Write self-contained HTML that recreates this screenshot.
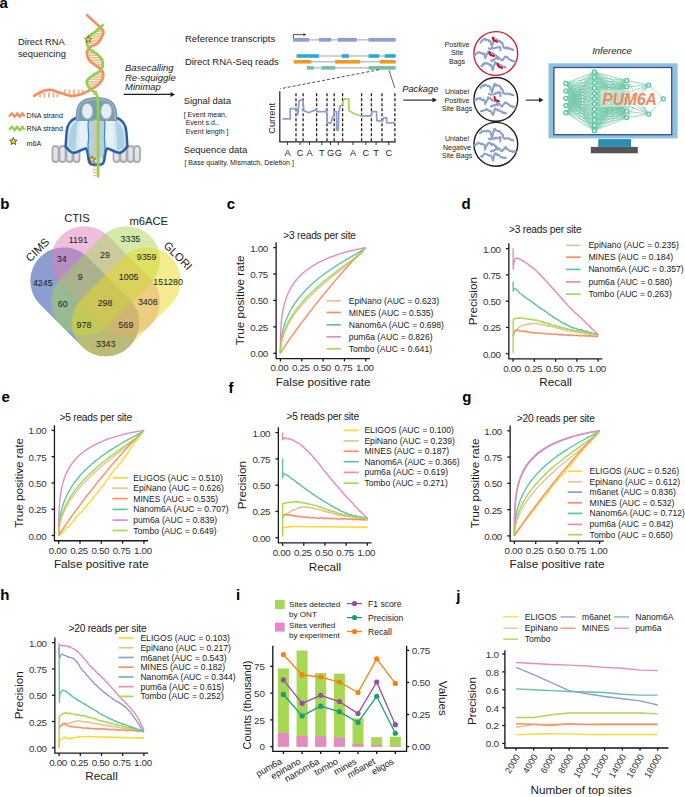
<!DOCTYPE html><html><head><meta charset="utf-8"><style>html,body{margin:0;padding:0;background:#fff;overflow:hidden}svg{display:block}</style></head><body>
<svg width="685" height="797" viewBox="0 0 685 797" font-family='"Liberation Sans", sans-serif'>
<rect width="685" height="797" fill="#fff"/>
<text x="-0.5" y="8.1" font-size="15" font-weight="bold" fill="#000">a</text>
<text x="17.90" y="45.00" font-size="9.4" text-anchor="start" fill="#1a1a1a" >Direct RNA</text>
<text x="17.90" y="56.70" font-size="9.4" text-anchor="start" fill="#1a1a1a" >sequencing</text>
<line x1="98.34" y1="29.00" x2="103.01" y2="29.00" stroke="#E3C292" stroke-width="1.7"/>
<line x1="95.53" y1="31.40" x2="104.40" y2="31.40" stroke="#E3C292" stroke-width="1.7"/>
<line x1="92.29" y1="33.80" x2="104.25" y2="33.80" stroke="#E3C292" stroke-width="1.7"/>
<line x1="88.93" y1="36.20" x2="103.38" y2="36.20" stroke="#E3C292" stroke-width="1.7"/>
<line x1="87.28" y1="38.60" x2="102.19" y2="38.60" stroke="#E3C292" stroke-width="1.7"/>
<line x1="86.83" y1="41.00" x2="100.71" y2="41.00" stroke="#E3C292" stroke-width="1.7"/>
<line x1="86.98" y1="43.40" x2="98.66" y2="43.40" stroke="#E3C292" stroke-width="1.7"/>
<line x1="87.53" y1="45.80" x2="93.95" y2="45.80" stroke="#E3C292" stroke-width="1.7"/>
<line x1="87.50" y1="50.60" x2="93.14" y2="50.60" stroke="#E3C292" stroke-width="1.7"/>
<line x1="86.90" y1="53.00" x2="96.74" y2="53.00" stroke="#E3C292" stroke-width="1.7"/>
<line x1="87.14" y1="55.40" x2="99.70" y2="55.40" stroke="#E3C292" stroke-width="1.7"/>
<line x1="87.94" y1="57.80" x2="101.85" y2="57.80" stroke="#E3C292" stroke-width="1.7"/>
<line x1="89.34" y1="60.20" x2="103.35" y2="60.20" stroke="#E3C292" stroke-width="1.7"/>
<line x1="91.70" y1="62.60" x2="104.00" y2="62.60" stroke="#E3C292" stroke-width="1.7"/>
<line x1="94.97" y1="65.00" x2="103.99" y2="65.00" stroke="#E3C292" stroke-width="1.7"/>
<line x1="98.37" y1="67.40" x2="103.45" y2="67.40" stroke="#E3C292" stroke-width="1.7"/>
<line x1="98.06" y1="72.20" x2="104.00" y2="72.20" stroke="#E3C292" stroke-width="1.7"/>
<line x1="93.89" y1="74.60" x2="104.50" y2="74.60" stroke="#E3C292" stroke-width="1.7"/>
<line x1="90.64" y1="77.00" x2="104.17" y2="77.00" stroke="#E3C292" stroke-width="1.7"/>
<line x1="87.89" y1="79.40" x2="103.33" y2="79.40" stroke="#E3C292" stroke-width="1.7"/>
<line x1="86.79" y1="81.80" x2="101.98" y2="81.80" stroke="#E3C292" stroke-width="1.7"/>
<line x1="87.16" y1="84.20" x2="99.84" y2="84.20" stroke="#E3C292" stroke-width="1.7"/>
<line x1="88.33" y1="86.60" x2="96.74" y2="86.60" stroke="#E3C292" stroke-width="1.7"/>
<line x1="40" y1="93.2" x2="40" y2="96.8" stroke="#E3C292" stroke-width="2.1" stroke-linecap="round"/>
<line x1="44.5" y1="93.2" x2="44.5" y2="96.8" stroke="#E3C292" stroke-width="2.1" stroke-linecap="round"/>
<line x1="49" y1="93.2" x2="49" y2="96.8" stroke="#E3C292" stroke-width="2.1" stroke-linecap="round"/>
<line x1="53.5" y1="93.2" x2="53.5" y2="96.8" stroke="#E3C292" stroke-width="2.1" stroke-linecap="round"/>
<line x1="57.5" y1="93.2" x2="57.5" y2="96.8" stroke="#E3C292" stroke-width="2.1" stroke-linecap="round"/>
<line x1="65" y1="90.3" x2="65" y2="94.3" stroke="#E3C292" stroke-width="2.1" stroke-linecap="round"/>
<line x1="69.5" y1="90.3" x2="69.5" y2="94.3" stroke="#E3C292" stroke-width="2.1" stroke-linecap="round"/>
<line x1="74" y1="90.3" x2="74" y2="94.3" stroke="#E3C292" stroke-width="2.1" stroke-linecap="round"/>
<line x1="78.5" y1="90.3" x2="78.5" y2="94.3" stroke="#E3C292" stroke-width="2.1" stroke-linecap="round"/>
<line x1="82.5" y1="90.3" x2="82.5" y2="94.3" stroke="#E3C292" stroke-width="2.1" stroke-linecap="round"/>
<line x1="93" y1="91.5" x2="97" y2="91.5" stroke="#E3C292" stroke-width="1.5"/>
<line x1="93" y1="94.5" x2="97" y2="94.5" stroke="#E3C292" stroke-width="1.5"/>
<line x1="93" y1="97.5" x2="97" y2="97.5" stroke="#E3C292" stroke-width="1.5"/>
<line x1="93" y1="100.5" x2="97" y2="100.5" stroke="#E3C292" stroke-width="1.5"/>
<line x1="93" y1="103.5" x2="97" y2="103.5" stroke="#E3C292" stroke-width="1.5"/>
<line x1="93" y1="106.5" x2="97" y2="106.5" stroke="#E3C292" stroke-width="1.5"/>
<line x1="93" y1="109.5" x2="97" y2="109.5" stroke="#E3C292" stroke-width="1.5"/>
<line x1="93" y1="112.5" x2="97" y2="112.5" stroke="#E3C292" stroke-width="1.5"/>
<line x1="93" y1="115.5" x2="97" y2="115.5" stroke="#E3C292" stroke-width="1.5"/>
<line x1="93" y1="118.5" x2="97" y2="118.5" stroke="#E3C292" stroke-width="1.5"/>
<line x1="93" y1="121.5" x2="97" y2="121.5" stroke="#E3C292" stroke-width="1.5"/>
<line x1="93" y1="124.5" x2="97" y2="124.5" stroke="#E3C292" stroke-width="1.5"/>
<line x1="93" y1="127.5" x2="97" y2="127.5" stroke="#E3C292" stroke-width="1.5"/>
<line x1="93" y1="130.5" x2="97" y2="130.5" stroke="#E3C292" stroke-width="1.5"/>
<line x1="93" y1="133.5" x2="97" y2="133.5" stroke="#E3C292" stroke-width="1.5"/>
<line x1="93" y1="136.5" x2="97" y2="136.5" stroke="#E3C292" stroke-width="1.5"/>
<line x1="93" y1="139.5" x2="97" y2="139.5" stroke="#E3C292" stroke-width="1.5"/>
<line x1="93" y1="142.5" x2="97" y2="142.5" stroke="#E3C292" stroke-width="1.5"/>
<line x1="93" y1="145.5" x2="97" y2="145.5" stroke="#E3C292" stroke-width="1.5"/>
<line x1="93" y1="148.5" x2="97" y2="148.5" stroke="#E3C292" stroke-width="1.5"/>
<line x1="93" y1="151.5" x2="97" y2="151.5" stroke="#E3C292" stroke-width="1.5"/>
<line x1="93" y1="154.5" x2="97" y2="154.5" stroke="#E3C292" stroke-width="1.5"/>
<line x1="93" y1="157.5" x2="97" y2="157.5" stroke="#E3C292" stroke-width="1.5"/>
<line x1="93" y1="160.5" x2="97" y2="160.5" stroke="#E3C292" stroke-width="1.5"/>
<line x1="93" y1="163.5" x2="97" y2="163.5" stroke="#E3C292" stroke-width="1.5"/>
<line x1="93" y1="166.5" x2="97" y2="166.5" stroke="#E3C292" stroke-width="1.5"/>
<line x1="93" y1="169.5" x2="97" y2="169.5" stroke="#E3C292" stroke-width="1.5"/>
<line x1="93" y1="172.5" x2="97" y2="172.5" stroke="#E3C292" stroke-width="1.5"/>
<line x1="93" y1="175.5" x2="97" y2="175.5" stroke="#E3C292" stroke-width="1.5"/>
<rect x="52.5" y="146" width="6" height="16" rx="3" fill="#E1E6EE" stroke="#ABABAB" stroke-width="1.8"/>
<rect x="59.5" y="146" width="6" height="16" rx="3" fill="#E1E6EE" stroke="#ABABAB" stroke-width="1.8"/>
<rect x="66.5" y="146" width="6" height="16" rx="3" fill="#E1E6EE" stroke="#ABABAB" stroke-width="1.8"/>
<rect x="73.5" y="146" width="6" height="16" rx="3" fill="#E1E6EE" stroke="#ABABAB" stroke-width="1.8"/>
<rect x="113.5" y="146" width="6" height="16" rx="3" fill="#E1E6EE" stroke="#ABABAB" stroke-width="1.8"/>
<rect x="120.5" y="146" width="6" height="16" rx="3" fill="#E1E6EE" stroke="#ABABAB" stroke-width="1.8"/>
<rect x="127.5" y="146" width="6" height="16" rx="3" fill="#E1E6EE" stroke="#ABABAB" stroke-width="1.8"/>
<rect x="134" y="146" width="6" height="16" rx="3" fill="#E1E6EE" stroke="#ABABAB" stroke-width="1.8"/>
<path d="M75.7,118 C70,120.5 67.2,124 66.6,132 L65.6,146.2 C68.5,150.5 71.5,153 74.5,152.8 C78.5,152.3 82.3,149 85.9,148.4 C87.6,150 88,155 88.5,159 C89,163 90,164.5 92.5,164.5 L100.5,164.5 C103,164.5 104,163 104.5,159 C105,155 105.4,150 107.1,148.4 C110.7,149 114.5,152.3 118.5,152.8 C121.5,153 124.5,150.5 127.4,146.2 L126.4,132 C125.8,124 123,120.5 117.3,118 Z" fill="#D3E8F1" stroke="#2A5FA6" stroke-width="2.5" stroke-linejoin="round"/>
<path d="M78,120 C73,123 69.5,128 69,136 L68.5,146.5 C71,149.5 73.5,150.5 76,150 C76,140 76.5,128 78,120 Z" fill="#A9CEE1" opacity="0.9"/>
<path d="M80,121 C79,130 79.5,140 79.5,148.5 C82,147.5 84,146.5 86,146.5 L87,122 C84.5,120 82,120 80,121 Z" fill="#E4F1F6"/>
<path d="M115,120 C120,123 123.5,128 124,136 L124.5,146.5 C122,149.5 119.5,150.5 117,150 C117,140 116.5,128 115,120 Z" fill="#A9CEE1" opacity="0.9"/>
<path d="M113,121 C114,130 113.5,140 113.5,148.5 C111,147.5 109,146.5 107,146.5 L106,122 C108.5,120 111,120 113,121 Z" fill="#E4F1F6"/>
<path d="M88.5,120 C87,128 89.5,134 88.5,140 C87.5,146 88,152 89.5,158 L103.5,158 C105,152 105.5,146 104.5,140 C103.5,134 106,128 104.5,120 Z" fill="#B7D0DC"/>
<path d="M88.5,120 C87,128 89.5,134 88.5,140 C87.5,146 88,152 89.5,158" fill="none" stroke="#3C82BA" stroke-width="1.1"/>
<path d="M104.5,120 C106,128 103.5,134 104.5,140 C105.5,146 105,152 103.5,158" fill="none" stroke="#3C82BA" stroke-width="1.1"/>
<path d="M75.8,121 C74.8,104 80,97.3 96.5,97.3 C113,97.3 118.2,104 117.2,121 Z" fill="#7A9FB3"/>
<path d="M78,119.5 C77.2,105.5 81.5,99.5 96.5,99.5 C111.5,99.5 115.8,105.5 115,119.5" fill="none" stroke="#A7BFCB" stroke-width="1"/>
<ellipse cx="87.3" cy="111.2" rx="5.5" ry="7.8" fill="#E6EDF1" stroke="#9AB3C0" stroke-width="0.8"/>
<ellipse cx="106.3" cy="111.2" rx="5.5" ry="7.8" fill="#E6EDF1" stroke="#9AB3C0" stroke-width="0.8"/>
<line x1="93" y1="120.5" x2="97" y2="120.5" stroke="#E3C292" stroke-width="1.5"/>
<line x1="93" y1="123.5" x2="97" y2="123.5" stroke="#E3C292" stroke-width="1.5"/>
<line x1="93" y1="126.5" x2="97" y2="126.5" stroke="#E3C292" stroke-width="1.5"/>
<line x1="93" y1="129.5" x2="97" y2="129.5" stroke="#E3C292" stroke-width="1.5"/>
<line x1="93" y1="132.5" x2="97" y2="132.5" stroke="#E3C292" stroke-width="1.5"/>
<line x1="93" y1="135.5" x2="97" y2="135.5" stroke="#E3C292" stroke-width="1.5"/>
<line x1="93" y1="138.5" x2="97" y2="138.5" stroke="#E3C292" stroke-width="1.5"/>
<line x1="93" y1="141.5" x2="97" y2="141.5" stroke="#E3C292" stroke-width="1.5"/>
<line x1="93" y1="144.5" x2="97" y2="144.5" stroke="#E3C292" stroke-width="1.5"/>
<line x1="93" y1="147.5" x2="97" y2="147.5" stroke="#E3C292" stroke-width="1.5"/>
<line x1="93" y1="150.5" x2="97" y2="150.5" stroke="#E3C292" stroke-width="1.5"/>
<line x1="93" y1="153.5" x2="97" y2="153.5" stroke="#E3C292" stroke-width="1.5"/>
<line x1="93" y1="156.5" x2="97" y2="156.5" stroke="#E3C292" stroke-width="1.5"/>
<line x1="93" y1="159.5" x2="97" y2="159.5" stroke="#E3C292" stroke-width="1.5"/>
<line x1="93" y1="162.5" x2="97" y2="162.5" stroke="#E3C292" stroke-width="1.5"/>
<polyline points="86.90,15.10 99.90,26.90 100.09,27.16 100.37,27.47 100.71,27.82 101.10,28.21 101.51,28.65 101.92,29.12 102.31,29.62 102.67,30.16 102.97,30.73 103.19,31.33 103.30,31.95 103.30,32.60 103.18,33.31 102.97,34.09 102.69,34.95 102.33,35.85 101.92,36.78 101.46,37.73 100.95,38.67 100.42,39.59 99.87,40.47 99.31,41.29 98.75,42.04 98.20,42.70 97.63,43.27 96.99,43.76 96.32,44.19 95.61,44.57 94.88,44.91 94.14,45.23 93.41,45.52 92.70,45.82 92.02,46.12 91.39,46.45 90.81,46.80 90.30,47.20 89.84,47.63 89.40,48.06 88.99,48.49 88.60,48.93 88.25,49.38 87.92,49.84 87.64,50.31 87.40,50.79 87.20,51.29 87.05,51.81 86.95,52.34 86.90,52.90 86.90,53.48 86.94,54.09 87.01,54.72 87.13,55.37 87.30,56.04 87.51,56.71 87.76,57.40 88.07,58.09 88.42,58.77 88.83,59.46 89.29,60.13 89.80,60.80 90.41,61.47 91.14,62.14 91.98,62.83 92.88,63.52 93.84,64.21 94.82,64.89 95.80,65.57 96.76,66.24 97.68,66.89 98.52,67.52 99.27,68.12 99.90,68.70 100.44,69.24 100.93,69.74 101.37,70.21 101.76,70.65 102.11,71.08 102.41,71.50 102.66,71.92 102.87,72.35 103.04,72.79 103.17,73.26 103.26,73.76 103.30,74.30 103.30,74.88 103.25,75.50 103.16,76.15 103.01,76.82 102.83,77.51 102.61,78.21 102.34,78.91 102.04,79.60 101.70,80.28 101.33,80.95 100.93,81.59 100.50,82.20 100.03,82.78 99.52,83.35 98.97,83.90 98.38,84.44 97.76,84.96 97.10,85.48 96.41,85.99 95.70,86.50 94.95,87.00 94.19,87.50 93.40,88.00 92.60,88.50 91.76,89.01 90.86,89.54 89.92,90.08 88.95,90.61 87.95,91.15 86.94,91.68 85.91,92.19 84.89,92.67 83.88,93.14 82.89,93.56 81.93,93.95 81.00,94.30 80.07,94.60 79.11,94.86 78.13,95.09 77.15,95.29 76.17,95.46 75.22,95.61 74.32,95.74 73.46,95.85 72.68,95.95 71.98,96.04 71.38,96.12 70.90,96.20 70.41,96.05 69.79,95.85 69.07,95.62 68.26,95.37 67.38,95.09 66.44,94.79 65.47,94.49 64.49,94.18 63.50,93.87 62.52,93.56 61.59,93.27 60.70,93.00 59.84,92.72 58.97,92.42 58.09,92.11 57.20,91.79 56.32,91.46 55.44,91.15 54.56,90.85 53.70,90.58 52.84,90.34 52.01,90.14 51.19,89.99 50.40,89.90 49.63,89.86 48.88,89.86 48.15,89.91 47.44,89.99 46.74,90.10 46.05,90.24 45.37,90.40 44.69,90.59 44.02,90.80 43.35,91.02 42.68,91.26 42.00,91.50 41.30,91.78 40.56,92.11 39.80,92.49 39.04,92.89 38.27,93.32 37.52,93.75 36.81,94.18 36.13,94.59 35.51,94.96 34.95,95.30 34.48,95.58 34.10,95.80" fill="none" stroke="#F98B60" stroke-width="2.6" stroke-linejoin="round" stroke-linecap="round"/>
<polyline points="102.70,25.20 102.31,25.53 101.83,25.96 101.25,26.46 100.61,27.03 99.91,27.64 99.17,28.28 98.41,28.94 97.64,29.61 96.88,30.26 96.14,30.89 95.44,31.47 94.80,32.00 94.18,32.48 93.55,32.94 92.91,33.38 92.27,33.81 91.64,34.22 91.03,34.62 90.44,35.03 89.88,35.43 89.36,35.83 88.88,36.24 88.46,36.66 88.10,37.10 87.80,37.55 87.54,38.00 87.33,38.46 87.16,38.93 87.03,39.39 86.94,39.86 86.87,40.33 86.84,40.81 86.82,41.28 86.83,41.76 86.86,42.23 86.90,42.70 86.95,43.17 87.00,43.63 87.07,44.09 87.16,44.56 87.27,45.02 87.41,45.48 87.59,45.95 87.81,46.42 88.07,46.90 88.39,47.39 88.76,47.89 89.20,48.40 89.73,48.92 90.36,49.46 91.08,50.00 91.87,50.56 92.70,51.12 93.56,51.68 94.43,52.25 95.29,52.82 96.11,53.39 96.88,53.97 97.59,54.53 98.20,55.10 98.75,55.66 99.28,56.21 99.79,56.77 100.26,57.32 100.71,57.87 101.12,58.43 101.49,58.98 101.83,59.55 102.12,60.12 102.36,60.70 102.56,61.29 102.70,61.90 102.80,62.53 102.85,63.18 102.87,63.85 102.84,64.53 102.77,65.23 102.66,65.92 102.50,66.61 102.29,67.29 102.04,67.95 101.74,68.60 101.40,69.22 101.00,69.80 100.53,70.35 99.96,70.88 99.31,71.38 98.60,71.87 97.84,72.34 97.05,72.79 96.25,73.24 95.45,73.69 94.67,74.13 93.92,74.58 93.23,75.04 92.60,75.50 92.01,75.97 91.40,76.43 90.80,76.88 90.20,77.33 89.63,77.78 89.08,78.23 88.57,78.69 88.11,79.15 87.70,79.62 87.36,80.10 87.09,80.59 86.90,81.10 86.80,81.63 86.77,82.18 86.81,82.74 86.91,83.32 87.06,83.91 87.27,84.50 87.52,85.09 87.80,85.68 88.12,86.26 88.46,86.82 88.83,87.37 89.20,87.90 89.63,88.41 90.13,88.89 90.70,89.36 91.32,89.82 91.97,90.27 92.64,90.72 93.30,91.16 93.94,91.61 94.55,92.06 95.11,92.53 95.60,93.01 96.00,93.50 96.33,94.03 96.60,94.61 96.82,95.21 97.01,95.84 97.16,96.47 97.28,97.10 97.37,97.71 97.45,98.28 97.51,98.81 97.57,99.28 97.63,99.68 97.70,100.00 98.00,110.00 98.20,176.50" fill="none" stroke="#8FD04C" stroke-width="2.6" stroke-linejoin="round" stroke-linecap="round"/>
<polygon points="88.20,35.70 89.18,38.05 91.72,38.26 89.78,39.91 90.37,42.39 88.20,41.06 86.03,42.39 86.62,39.91 84.68,38.26 87.22,38.05" fill="#F9D423" stroke="#3a3a3a" stroke-width="0.6" stroke-linejoin="round"/>
<polygon points="92.20,155.90 93.18,158.25 95.72,158.46 93.78,160.11 94.37,162.59 92.20,161.26 90.03,162.59 90.62,160.11 88.68,158.46 91.22,158.25" fill="#F9D423" stroke="#3a3a3a" stroke-width="0.6" stroke-linejoin="round"/>
<path d="M9.6,115.8 L12,113.3 L14.6,116.9 L17.2,113.3 L19.8,116.9 L22.4,113.3 L24,115.6" fill="none" stroke="#F98B60" stroke-width="2.3" stroke-linejoin="round" stroke-linecap="round"/>
<path d="M9.6,129.2 L12,126.7 L14.6,130.3 L17.2,126.7 L19.8,130.3 L22.4,126.7 L24,129.0" fill="none" stroke="#8FD04C" stroke-width="2.3" stroke-linejoin="round" stroke-linecap="round"/>
<polygon points="13.30,137.50 14.33,139.98 17.01,140.19 14.97,141.94 15.59,144.56 13.30,143.16 11.01,144.56 11.63,141.94 9.59,140.19 12.27,139.98" fill="#F9D423" stroke="#3a3a3a" stroke-width="0.8" stroke-linejoin="round"/>
<text x="26.60" y="117.90" font-size="7.1" text-anchor="start" fill="#1a1a1a" >DNA strand</text>
<text x="26.60" y="131.40" font-size="7.1" text-anchor="start" fill="#1a1a1a" >RNA strand</text>
<text x="26.60" y="145.70" font-size="7.1" text-anchor="start" fill="#1a1a1a" >m6A</text>
<text x="125.00" y="70.70" font-size="9.5" text-anchor="start" fill="#1a1a1a" font-style="italic">Basecalling</text>
<text x="125.00" y="81.00" font-size="9.5" text-anchor="start" fill="#1a1a1a" font-style="italic">Re-squiggle</text>
<text x="125.00" y="90.40" font-size="9.5" text-anchor="start" fill="#1a1a1a" font-style="italic">Minimap</text>
<line x1="123.7" y1="94.4" x2="172" y2="94.4" stroke="#231F20" stroke-width="1.1"/>
<path d="M170.5,91.9 L175,94.4 L170.5,96.9 Z" fill="#231F20"/>
<text x="184.90" y="42.30" font-size="9.5" text-anchor="start" fill="#1a1a1a" >Reference transcripts</text>
<text x="184.90" y="65.20" font-size="9.5" text-anchor="start" fill="#1a1a1a" >Direct RNA-Seq reads</text>
<text x="183.70" y="103.70" font-size="9.45" text-anchor="start" fill="#1a1a1a" >Signal data</text>
<text x="183.70" y="117.00" font-size="7.0" text-anchor="start" fill="#1a1a1a" >[ Event mean,</text>
<text x="185.70" y="125.30" font-size="7.0" text-anchor="start" fill="#1a1a1a" >Event s.d.,</text>
<text x="185.70" y="133.70" font-size="7.0" text-anchor="start" fill="#1a1a1a" >Event length ]</text>
<text x="183.70" y="153.00" font-size="9.45" text-anchor="start" fill="#1a1a1a" >Sequence data</text>
<text x="184.40" y="165.20" font-size="7.05" text-anchor="start" fill="#1a1a1a" >[ Base quality, Mismatch, Deletion ]</text>
<line x1="293.1" y1="39.9" x2="395.6" y2="39.9" stroke="#8A8A8A" stroke-width="0.8"/>
<rect x="293.1" y="37.9" width="15.80" height="3.8" fill="#8DA0CB"/>
<rect x="318.9" y="37.9" width="12.30" height="3.8" fill="#8DA0CB"/>
<rect x="337.8" y="37.9" width="18.90" height="3.8" fill="#8DA0CB"/>
<rect x="368.5" y="37.9" width="27.10" height="3.8" fill="#8DA0CB"/>
<path d="M293.4,38 V34.6 H304" fill="none" stroke="#231F20" stroke-width="0.8"/>
<path d="M303.5,33.2 L306.3,34.6 L303.5,36 Z" fill="#231F20"/>
<line x1="296.6" y1="56.0" x2="395.6" y2="56.0" stroke="#8A8A8A" stroke-width="0.8"/>
<rect x="296.6" y="54.20" width="22.30" height="3.6" fill="#29A9E1"/>
<rect x="341.7" y="54.20" width="7.20" height="3.6" fill="#29A9E1"/>
<rect x="368.5" y="54.20" width="10.80" height="3.6" fill="#29A9E1"/>
<rect x="384.8" y="54.20" width="10.80" height="3.6" fill="#29A9E1"/>
<line x1="293.7" y1="61.8" x2="395.6" y2="61.8" stroke="#8A8A8A" stroke-width="0.8"/>
<rect x="293.7" y="60.00" width="17.50" height="3.6" fill="#F39A1E"/>
<rect x="335.2" y="60.00" width="25.00" height="3.6" fill="#F39A1E"/>
<rect x="379.9" y="60.00" width="15.70" height="3.6" fill="#F39A1E"/>
<line x1="306.8" y1="67.9" x2="395.6" y2="67.9" stroke="#8A8A8A" stroke-width="0.8"/>
<rect x="306.8" y="66.10" width="7.00" height="3.6" fill="#6CC3A0"/>
<rect x="321.5" y="66.10" width="13.70" height="3.6" fill="#6CC3A0"/>
<rect x="368.5" y="66.10" width="27.10" height="3.6" fill="#6CC3A0"/>
<line x1="379" y1="69.7" x2="280" y2="88.8" stroke="#231F20" stroke-width="0.8" stroke-dasharray="3,2"/>
<line x1="389" y1="70.2" x2="394.8" y2="88" stroke="#231F20" stroke-width="0.7"/>
<path d="M279.8,91.2 V141.9 H395.9" fill="none" stroke="#231F20" stroke-width="1.2"/>
<line x1="296" y1="93.3" x2="296" y2="140.9" stroke="#231F20" stroke-width="1.3" stroke-dasharray="3,2"/>
<line x1="303.1" y1="93.3" x2="303.1" y2="140.9" stroke="#231F20" stroke-width="1.3" stroke-dasharray="3,2"/>
<line x1="316.6" y1="93.3" x2="316.6" y2="140.9" stroke="#231F20" stroke-width="1.3" stroke-dasharray="3,2"/>
<line x1="327" y1="93.3" x2="327" y2="140.9" stroke="#231F20" stroke-width="1.3" stroke-dasharray="3,2"/>
<line x1="334.2" y1="93.3" x2="334.2" y2="140.9" stroke="#231F20" stroke-width="1.3" stroke-dasharray="3,2"/>
<line x1="342.6" y1="93.3" x2="342.6" y2="140.9" stroke="#231F20" stroke-width="1.3" stroke-dasharray="3,2"/>
<line x1="361.6" y1="93.3" x2="361.6" y2="140.9" stroke="#231F20" stroke-width="1.3" stroke-dasharray="3,2"/>
<line x1="371.4" y1="93.3" x2="371.4" y2="140.9" stroke="#231F20" stroke-width="1.3" stroke-dasharray="3,2"/>
<line x1="382" y1="93.3" x2="382" y2="140.9" stroke="#231F20" stroke-width="1.3" stroke-dasharray="3,2"/>
<line x1="394.9" y1="93.3" x2="394.9" y2="140.9" stroke="#231F20" stroke-width="1.3" stroke-dasharray="3,2"/>
<line x1="287.6" y1="141.9" x2="287.6" y2="145" stroke="#231F20" stroke-width="0.9"/>
<text x="287.60" y="156.00" font-size="9.2" text-anchor="middle" fill="#1a1a1a" >A</text>
<line x1="300" y1="141.9" x2="300" y2="145" stroke="#231F20" stroke-width="0.9"/>
<text x="300.00" y="156.00" font-size="9.2" text-anchor="middle" fill="#1a1a1a" >C</text>
<line x1="309.5" y1="141.9" x2="309.5" y2="145" stroke="#231F20" stroke-width="0.9"/>
<text x="309.50" y="156.00" font-size="9.2" text-anchor="middle" fill="#1a1a1a" >A</text>
<line x1="321.9" y1="141.9" x2="321.9" y2="145" stroke="#231F20" stroke-width="0.9"/>
<text x="321.90" y="156.00" font-size="9.2" text-anchor="middle" fill="#1a1a1a" >T</text>
<line x1="330.5" y1="141.9" x2="330.5" y2="145" stroke="#231F20" stroke-width="0.9"/>
<text x="330.50" y="156.00" font-size="9.2" text-anchor="middle" fill="#1a1a1a" >G</text>
<line x1="338.3" y1="141.9" x2="338.3" y2="145" stroke="#231F20" stroke-width="0.9"/>
<text x="338.30" y="156.00" font-size="9.2" text-anchor="middle" fill="#1a1a1a" >G</text>
<line x1="353" y1="141.9" x2="353" y2="145" stroke="#231F20" stroke-width="0.9"/>
<text x="353.00" y="156.00" font-size="9.2" text-anchor="middle" fill="#1a1a1a" >A</text>
<line x1="365.9" y1="141.9" x2="365.9" y2="145" stroke="#231F20" stroke-width="0.9"/>
<text x="365.90" y="156.00" font-size="9.2" text-anchor="middle" fill="#1a1a1a" >C</text>
<line x1="376.1" y1="141.9" x2="376.1" y2="145" stroke="#231F20" stroke-width="0.9"/>
<text x="376.10" y="156.00" font-size="9.2" text-anchor="middle" fill="#1a1a1a" >T</text>
<line x1="388.8" y1="141.9" x2="388.8" y2="145" stroke="#231F20" stroke-width="0.9"/>
<text x="388.80" y="156.00" font-size="9.2" text-anchor="middle" fill="#1a1a1a" >C</text>
<text transform="translate(274.80,118.30) rotate(-90)" x="0" y="0" font-size="9.26" text-anchor="middle" fill="#1a1a1a">Current</text>
<polyline points="282.50,118.80 290.20,118.80 290.20,108.60 296.80,108.60 297.80,114.70 299.20,100.40 302.90,100.00 303.90,110.70 309.00,112.70 310.70,111.70 316.20,109.60 316.80,111.70 325.80,111.70 326.40,108.60 327.40,122.90 331.10,122.90 332.60,116.80 333.60,116.80 334.00,111.70 336.60,111.70 336.60,130.10 338.30,130.10 338.70,112.70 340.30,105.50 341.70,105.50" fill="none" stroke="#8DA0CB" stroke-width="1.7" stroke-linejoin="round" />
<polyline points="341.70,105.50 344.20,98.80 348.90,98.80 348.90,110.70 353.00,113.10 360.10,115.80" fill="none" stroke="#A6D854" stroke-width="1.7" stroke-linejoin="round" />
<polyline points="360.10,115.80 371.40,115.80 372.00,111.70 376.50,111.70 376.90,120.90 382.60,120.90 383.60,117.80 386.70,117.80 386.70,122.90 394.90,122.90" fill="none" stroke="#8DA0CB" stroke-width="1.7" stroke-linejoin="round" />
<text x="402.20" y="91.50" font-size="9.3" text-anchor="start" fill="#1a1a1a" font-style="italic">Package</text>
<line x1="403.3" y1="100.1" x2="434" y2="100.1" stroke="#231F20" stroke-width="1.1"/>
<path d="M432.5,97.6 L437,100.1 L432.5,102.6 Z" fill="#231F20"/>
<line x1="526" y1="100.1" x2="540.5" y2="100.1" stroke="#231F20" stroke-width="1.1"/>
<path d="M539,97.6 L543.5,100.1 L539,102.6 Z" fill="#231F20"/>
<text x="457.00" y="46.80" font-size="7.1" text-anchor="middle" fill="#1a1a1a" >Positive</text>
<text x="457.00" y="55.30" font-size="7.1" text-anchor="middle" fill="#1a1a1a" >Site</text>
<text x="457.00" y="63.60" font-size="7.1" text-anchor="middle" fill="#1a1a1a" >Bags</text>
<text x="457.00" y="93.80" font-size="7.1" text-anchor="middle" fill="#1a1a1a" >Unlabel</text>
<text x="457.00" y="102.60" font-size="7.1" text-anchor="middle" fill="#1a1a1a" >Positive</text>
<text x="457.00" y="111.10" font-size="7.1" text-anchor="middle" fill="#1a1a1a" >Site Bags</text>
<text x="457.00" y="141.40" font-size="7.1" text-anchor="middle" fill="#1a1a1a" >Unlabel</text>
<text x="457.00" y="149.70" font-size="7.1" text-anchor="middle" fill="#1a1a1a" >Negative</text>
<text x="457.00" y="158.40" font-size="7.1" text-anchor="middle" fill="#1a1a1a" >Site Bags</text>
<circle cx="495.8" cy="53.5" r="21.9" fill="#fff" stroke="#C8243B" stroke-width="1.4"/>
<polyline points="479.56,42.89 480.35,42.72 481.02,42.20 481.36,40.99 482.52,40.80 483.20,39.45 483.68,39.18 484.42,39.22 484.92,38.92 485.81,40.32 486.82,39.38 487.60,39.62 488.27,39.88 488.73,41.34 489.59,40.57 490.74,41.90 490.61,42.81 490.95,43.13 491.00,44.32 491.45,45.13 491.77,44.84 491.72,45.39 491.82,46.00 492.11,46.10 492.17,45.46 492.55,44.11 493.00,43.61 492.95,42.85 493.36,41.41 493.70,40.59 493.80,41.14 493.64,40.29 494.02,39.19 494.05,37.57 494.82,39.36 495.50,39.38 496.55,40.01 496.93,39.40 497.70,40.41 498.17,40.70 499.19,41.21 499.49,41.68 500.20,41.05 501.01,42.54 501.42,43.13 502.07,42.72 502.51,43.08 502.55,43.80 503.01,45.91 502.91,45.16 503.48,46.69 503.35,46.98 504.21,48.02 504.90,47.47 505.47,48.37 506.22,47.79 507.38,47.31 508.09,48.72 508.80,48.56 509.30,48.10 510.07,49.07 510.90,48.76 512.00,49.71 512.74,49.39 513.24,50.15 514.00,50.10" fill="none" stroke="#8DA0CB" stroke-width="2.0" stroke-linejoin="round" />
<polyline points="488.19,48.57 488.91,48.19 489.66,49.40 490.71,48.68 491.24,48.08 491.79,47.84 492.90,48.65 493.45,48.38 494.42,48.09 495.12,48.06 495.73,47.83 496.46,47.34 497.47,47.54 498.00,47.81 498.94,47.10 499.39,46.91 500.28,46.97 500.38,47.96 500.47,48.68 500.32,49.18 500.52,50.23 500.33,51.00 500.40,51.20" fill="none" stroke="#8DA0CB" stroke-width="2.0" stroke-linejoin="round" />
<polyline points="473.98,55.70 474.70,55.64 475.12,54.48 475.60,54.48 476.65,53.42 477.18,53.32 477.86,51.96 478.54,52.13 479.23,52.16 479.96,53.01 480.72,53.22 481.16,52.61 482.12,53.68 482.76,54.02 483.72,53.28 484.39,53.86 484.34,54.47 484.63,55.31 484.73,55.84 485.02,57.15 485.26,58.24 485.40,58.07 485.62,56.59 486.09,55.92 486.34,55.92 486.80,53.97 487.26,53.39 487.56,53.10 487.91,53.41 488.36,51.87 489.05,52.53 489.51,52.03 490.32,53.00 491.19,53.95 491.70,53.26 492.54,53.00 492.83,54.21 493.78,53.83 494.47,55.33 495.04,54.89 495.60,55.18 496.60,55.84 497.23,57.21 497.68,56.68 498.51,57.58 498.86,57.81 499.89,58.64 500.29,59.16 500.96,59.94 501.87,59.97 502.58,60.28 502.74,59.27 503.42,59.37 504.21,57.72 504.50,57.03 505.40,56.71 505.75,56.46 506.41,57.18 507.09,56.92 507.73,57.73 508.25,58.30 508.77,59.13 509.48,59.38 510.38,59.99 510.78,59.69 511.74,61.00 512.72,60.65 513.04,61.27 514.00,61.19 514.89,61.52 515.54,62.21 516.30,61.80" fill="none" stroke="#8DA0CB" stroke-width="2.0" stroke-linejoin="round" />
<polyline points="490.44,60.93 491.35,60.28 491.75,60.96 492.32,60.64 493.31,59.66 493.78,59.88 494.77,58.53 495.23,58.85 495.92,58.16 496.43,58.24 497.49,57.71 497.93,59.21 498.80,59.00" fill="none" stroke="#8DA0CB" stroke-width="2.0" stroke-linejoin="round" />
<polyline points="480.75,66.66 481.02,66.27 482.15,66.23 482.67,64.22 483.40,64.01 483.96,64.70 484.65,62.90 485.10,63.67 485.79,63.50 486.68,63.11 487.55,63.24 488.05,64.11 488.80,63.92 489.81,65.34 490.73,64.69 491.27,65.30 491.65,66.34 492.12,66.92 491.98,68.20 492.33,68.85 492.80,70.06 493.08,68.84 493.19,67.97 493.44,67.53 493.83,65.79 493.94,65.42 494.45,64.35 494.70,64.36 494.64,63.62 494.90,62.00 495.81,62.56 496.61,63.32 497.00,64.20 497.51,64.46 498.19,63.92 499.30,65.14 499.60,64.61 500.64,65.86 501.31,65.31 501.96,65.94 502.52,66.20 503.46,66.51 504.09,66.46 505.07,67.56 505.80,67.51 506.40,67.90" fill="none" stroke="#8DA0CB" stroke-width="2.0" stroke-linejoin="round" />
<path d="M492.8,37.5 L493.2,39.7 Q493.8,41.1 497.2,41.7" fill="none" stroke="#E3001B" stroke-width="2.0" stroke-linecap="round"/>
<path d="M489.4,51.9 L489.8,54.1 Q490.4,55.5 493.8,56.1" fill="none" stroke="#E3001B" stroke-width="2.0" stroke-linecap="round"/>
<path d="M497.7,63.7 L498.1,65.9 Q498.7,67.3 502.1,67.9" fill="none" stroke="#E3001B" stroke-width="2.0" stroke-linecap="round"/>
<circle cx="495.8" cy="99.4" r="21.9" fill="#fff" stroke="#231F20" stroke-width="1.4"/>
<polyline points="479.68,88.43 480.25,88.03 481.02,87.26 481.40,86.20 482.15,85.72 483.19,85.94 483.83,84.69 484.39,85.62 485.22,85.16 485.91,84.91 486.51,85.28 487.39,85.92 488.40,85.82 488.85,86.29 489.57,86.58 490.37,87.17 490.48,88.65 490.86,89.44 491.24,89.79 491.34,91.00 491.38,91.33 491.68,92.11 492.11,92.06 492.06,91.08 492.28,90.40 492.58,91.07 492.77,89.24 493.03,88.43 493.37,88.37 493.30,86.84 493.76,87.20 493.95,85.62 494.33,84.17 494.08,84.65 494.93,83.81 495.68,85.65 496.34,84.96 496.81,84.85 497.89,85.85 498.58,85.49 498.92,85.81 499.67,86.16 500.28,87.05 500.85,87.06 501.27,89.10 501.89,88.94 502.55,89.55 502.55,89.96 502.72,91.09 503.29,91.94 503.42,92.08 503.16,93.36 504.16,93.51 504.86,93.70 505.80,94.26 506.35,93.62 507.38,93.36 507.78,93.60 508.53,94.44 509.66,93.80 510.06,93.75 510.87,94.07 511.71,95.17 512.37,94.66 513.35,94.96 514.00,96.00" fill="none" stroke="#8DA0CB" stroke-width="2.0" stroke-linejoin="round" />
<polyline points="488.05,94.46 488.90,94.02 489.68,94.22 490.61,94.47 491.44,94.49 492.13,94.22 492.73,94.47 493.60,94.55 494.39,94.00 494.92,94.04 495.74,92.81 496.35,92.74 497.21,93.41 497.99,92.30 499.00,92.96 499.40,92.01 500.22,92.37 500.58,94.07 500.46,93.67 500.36,94.63 500.32,94.82 500.44,96.87 500.40,97.10" fill="none" stroke="#8DA0CB" stroke-width="2.0" stroke-linejoin="round" />
<polyline points="473.91,100.65 474.47,100.29 475.22,100.24 475.99,100.31 476.24,99.06 477.29,98.81 477.71,98.29 478.53,98.60 479.17,98.94 479.95,97.84 480.81,98.63 481.18,99.81 481.92,99.46 482.89,100.24 483.60,99.46 484.29,99.72 484.59,100.73 484.85,101.31 484.81,102.08 485.28,103.78 485.37,104.19 485.48,102.75 486.03,102.63 485.97,101.44 486.33,101.64 487.07,100.13 487.35,99.65 487.62,99.84 487.93,99.06 488.14,97.12 488.90,98.34 489.42,98.32 490.18,98.04 490.87,98.91 491.64,99.73 492.29,100.47 493.19,100.68 493.82,100.57 494.43,101.08 495.03,101.05 495.82,101.45 496.26,101.26 496.79,102.22 497.67,103.38 498.37,103.17 499.11,103.64 499.76,103.87 500.53,105.37 501.38,106.29 501.99,106.74 502.56,105.83 502.84,105.14 503.73,104.15 504.31,104.10 504.56,102.69 505.10,102.43 505.78,103.04 506.54,103.10 506.91,102.81 507.69,104.04 508.34,104.27 509.06,104.52 509.40,105.13 510.32,106.38 510.84,106.20 511.90,105.79 512.30,106.58 513.44,107.33 514.15,106.83 514.75,107.26 515.75,107.14 516.30,107.70" fill="none" stroke="#8DA0CB" stroke-width="2.0" stroke-linejoin="round" />
<polyline points="490.39,107.17 491.41,106.17 491.62,105.72 492.56,106.17 493.05,105.17 493.94,105.57 494.66,105.37 495.03,104.64 496.09,105.06 496.51,104.56 497.41,104.98 497.93,104.91 498.80,104.90" fill="none" stroke="#8DA0CB" stroke-width="2.0" stroke-linejoin="round" />
<polyline points="480.77,112.26 481.06,111.32 481.74,110.68 482.40,111.03 483.03,110.77 484.00,110.38 484.69,109.73 485.41,109.63 486.03,109.97 486.53,108.91 487.27,109.41 488.19,110.13 489.10,110.91 489.57,110.70 490.56,110.98 491.11,111.66 491.54,112.55 491.90,113.76 492.42,113.10 492.63,114.89 492.70,114.69 493.05,114.31 493.43,114.46 493.51,112.70 493.82,112.59 494.22,111.64 494.23,110.51 494.76,110.04 494.62,109.13 494.97,108.77 495.55,108.51 496.22,109.21 497.33,109.69 497.69,110.69 498.21,110.14 499.23,109.96 499.87,110.90 500.16,111.10 501.13,111.60 501.91,111.36 502.51,113.12 503.37,112.61 503.94,112.58 505.13,113.52 505.65,112.80 506.40,113.80" fill="none" stroke="#8DA0CB" stroke-width="2.0" stroke-linejoin="round" />
<path d="M494.5,97.0 L494.9,99.2 Q495.5,100.6 498.9,101.2" fill="none" stroke="#E3001B" stroke-width="2.0" stroke-linecap="round"/>
<circle cx="495.8" cy="144.3" r="21.9" fill="#fff" stroke="#231F20" stroke-width="1.4"/>
<polyline points="479.45,133.75 480.17,132.96 481.10,132.56 481.67,131.10 482.06,131.79 482.96,131.47 483.86,131.05 484.34,130.70 485.29,130.80 485.75,130.90 486.65,131.48 487.70,130.55 488.17,130.91 488.96,131.21 489.82,131.22 490.33,132.03 490.50,132.68 491.13,134.26 490.99,133.64 491.52,135.92 491.62,135.38 491.65,137.40 492.22,136.75 492.05,136.62 492.30,136.38 492.56,135.65 492.66,134.47 493.28,134.01 493.05,132.30 493.54,131.95 493.61,131.36 493.92,131.37 493.96,129.97 494.18,129.17 495.09,128.85 495.65,130.10 496.09,130.53 496.97,130.44 497.74,131.24 498.14,131.10 498.81,131.25 499.65,131.00 500.30,132.02 501.03,133.35 501.44,133.30 502.16,134.52 502.82,135.18 502.66,134.63 503.14,135.24 503.05,137.06 503.25,137.26 503.61,137.88 504.19,138.83 504.74,138.16 505.68,138.61 506.30,138.53 506.99,138.04 507.90,138.23 508.97,138.52 509.39,139.45 510.37,138.94 511.16,139.83 511.69,140.16 512.37,139.89 513.44,140.49 514.00,140.90" fill="none" stroke="#8DA0CB" stroke-width="2.0" stroke-linejoin="round" />
<polyline points="488.40,139.18 488.78,138.84 489.84,139.52 490.23,138.55 491.40,139.13 492.19,138.26 492.80,138.25 493.63,138.90 494.34,138.13 495.26,137.82 495.58,138.59 496.36,137.47 497.31,138.27 498.30,138.25 498.65,138.00 499.81,137.03 500.53,137.11 500.30,137.45 500.53,139.03 500.60,139.69 500.23,140.05 500.28,141.96 500.40,142.00" fill="none" stroke="#8DA0CB" stroke-width="2.0" stroke-linejoin="round" />
<polyline points="473.65,145.54 474.38,145.04 475.08,145.42 475.85,144.22 476.25,144.24 477.18,143.69 477.78,143.95 478.22,142.43 479.15,143.15 480.10,143.46 480.73,143.53 481.54,144.49 482.05,143.61 482.78,144.30 483.84,144.44 484.46,145.33 484.79,145.25 484.85,146.36 484.68,147.59 485.21,148.27 484.97,149.66 485.48,148.44 485.98,147.16 486.15,146.59 486.33,145.49 486.98,145.37 487.38,144.13 487.43,143.64 488.09,143.94 488.40,142.81 488.69,142.97 489.44,142.64 490.30,143.36 490.76,144.02 491.87,145.01 492.32,143.96 493.16,144.28 493.74,144.53 494.65,145.57 495.07,145.44 495.76,147.07 496.33,146.37 497.01,148.02 497.57,148.08 498.48,148.10 499.06,148.95 499.47,148.74 500.62,149.95 501.12,151.22 501.94,151.10 502.33,150.95 502.86,149.97 503.66,149.64 503.89,148.45 504.71,148.75 504.96,148.64 505.52,146.77 506.13,147.73 507.03,148.91 507.43,149.17 508.04,149.50 508.74,149.65 509.28,150.75 510.07,151.07 510.93,151.04 511.84,151.12 512.71,152.05 513.17,151.36 514.22,151.28 514.75,151.97 515.78,151.76 516.30,152.60" fill="none" stroke="#8DA0CB" stroke-width="2.0" stroke-linejoin="round" />
<polyline points="490.58,152.31 491.29,150.77 492.08,150.93 492.71,151.16 493.17,151.11 493.98,149.98 494.68,149.91 495.35,149.75 496.07,148.69 496.60,148.10 497.48,149.63 498.24,148.77 498.80,149.80" fill="none" stroke="#8DA0CB" stroke-width="2.0" stroke-linejoin="round" />
<polyline points="480.62,157.17 481.07,156.24 482.15,156.79 482.44,156.27 483.30,155.07 483.96,154.34 484.43,153.50 485.28,153.93 486.08,154.13 486.69,154.14 487.61,154.57 488.30,155.51 488.98,155.72 489.56,155.37 490.71,155.51 491.08,155.62 491.73,156.53 491.88,157.82 492.35,158.64 492.51,158.68 492.95,160.63 493.12,159.98 493.37,159.03 493.74,158.12 493.58,157.79 494.32,155.94 494.12,155.41 494.39,154.70 494.64,153.71 494.85,153.29 495.66,154.14 496.37,153.62 497.31,155.16 497.84,154.45 498.36,155.20 499.03,154.89 499.72,156.45 500.50,156.98 501.24,157.11 502.09,157.64 502.80,157.13 503.48,157.80 504.34,158.18 504.87,157.63 505.56,158.01 506.40,158.70" fill="none" stroke="#8DA0CB" stroke-width="2.0" stroke-linejoin="round" />
<text x="612" y="53.8" font-size="9.5" font-style="italic" text-anchor="middle" fill="#1a1a1a">Inference</text>
<rect x="548.5" y="63.3" width="129.1" height="75.1" fill="#8DC2DC"/>
<rect x="553.9" y="67.5" width="117.8" height="67.2" fill="#fff" stroke="#3A4A9F" stroke-width="1.3"/>
<rect x="598.2" y="139.1" width="32.8" height="7.8" fill="#2D8DB3"/>
<rect x="590.8" y="146.9" width="47" height="6.4" fill="#555555"/>
<line x1="565.9" y1="83.4" x2="594.4" y2="72.0" stroke="#6CC5A5" stroke-width="0.7"/>
<line x1="565.9" y1="83.4" x2="594.4" y2="77.3" stroke="#6CC5A5" stroke-width="0.7"/>
<line x1="565.9" y1="83.4" x2="594.4" y2="82.7" stroke="#6CC5A5" stroke-width="0.7"/>
<line x1="565.9" y1="83.4" x2="594.4" y2="88.0" stroke="#6CC5A5" stroke-width="0.7"/>
<line x1="565.9" y1="83.4" x2="594.4" y2="93.3" stroke="#6CC5A5" stroke-width="0.7"/>
<line x1="565.9" y1="83.4" x2="594.4" y2="98.7" stroke="#6CC5A5" stroke-width="0.7"/>
<line x1="565.9" y1="83.4" x2="594.4" y2="104.0" stroke="#6CC5A5" stroke-width="0.7"/>
<line x1="565.9" y1="83.4" x2="594.4" y2="109.4" stroke="#6CC5A5" stroke-width="0.7"/>
<line x1="565.9" y1="83.4" x2="594.4" y2="114.7" stroke="#6CC5A5" stroke-width="0.7"/>
<line x1="565.9" y1="83.4" x2="594.4" y2="120.0" stroke="#6CC5A5" stroke-width="0.7"/>
<line x1="565.9" y1="83.4" x2="594.4" y2="125.4" stroke="#6CC5A5" stroke-width="0.7"/>
<line x1="565.9" y1="83.4" x2="594.4" y2="130.7" stroke="#6CC5A5" stroke-width="0.7"/>
<line x1="565.9" y1="90.9" x2="594.4" y2="72.0" stroke="#6CC5A5" stroke-width="0.7"/>
<line x1="565.9" y1="90.9" x2="594.4" y2="77.3" stroke="#6CC5A5" stroke-width="0.7"/>
<line x1="565.9" y1="90.9" x2="594.4" y2="82.7" stroke="#6CC5A5" stroke-width="0.7"/>
<line x1="565.9" y1="90.9" x2="594.4" y2="88.0" stroke="#6CC5A5" stroke-width="0.7"/>
<line x1="565.9" y1="90.9" x2="594.4" y2="93.3" stroke="#6CC5A5" stroke-width="0.7"/>
<line x1="565.9" y1="90.9" x2="594.4" y2="98.7" stroke="#6CC5A5" stroke-width="0.7"/>
<line x1="565.9" y1="90.9" x2="594.4" y2="104.0" stroke="#6CC5A5" stroke-width="0.7"/>
<line x1="565.9" y1="90.9" x2="594.4" y2="109.4" stroke="#6CC5A5" stroke-width="0.7"/>
<line x1="565.9" y1="90.9" x2="594.4" y2="114.7" stroke="#6CC5A5" stroke-width="0.7"/>
<line x1="565.9" y1="90.9" x2="594.4" y2="120.0" stroke="#6CC5A5" stroke-width="0.7"/>
<line x1="565.9" y1="90.9" x2="594.4" y2="125.4" stroke="#6CC5A5" stroke-width="0.7"/>
<line x1="565.9" y1="90.9" x2="594.4" y2="130.7" stroke="#6CC5A5" stroke-width="0.7"/>
<line x1="565.9" y1="98.3" x2="594.4" y2="72.0" stroke="#6CC5A5" stroke-width="0.7"/>
<line x1="565.9" y1="98.3" x2="594.4" y2="77.3" stroke="#6CC5A5" stroke-width="0.7"/>
<line x1="565.9" y1="98.3" x2="594.4" y2="82.7" stroke="#6CC5A5" stroke-width="0.7"/>
<line x1="565.9" y1="98.3" x2="594.4" y2="88.0" stroke="#6CC5A5" stroke-width="0.7"/>
<line x1="565.9" y1="98.3" x2="594.4" y2="93.3" stroke="#6CC5A5" stroke-width="0.7"/>
<line x1="565.9" y1="98.3" x2="594.4" y2="98.7" stroke="#6CC5A5" stroke-width="0.7"/>
<line x1="565.9" y1="98.3" x2="594.4" y2="104.0" stroke="#6CC5A5" stroke-width="0.7"/>
<line x1="565.9" y1="98.3" x2="594.4" y2="109.4" stroke="#6CC5A5" stroke-width="0.7"/>
<line x1="565.9" y1="98.3" x2="594.4" y2="114.7" stroke="#6CC5A5" stroke-width="0.7"/>
<line x1="565.9" y1="98.3" x2="594.4" y2="120.0" stroke="#6CC5A5" stroke-width="0.7"/>
<line x1="565.9" y1="98.3" x2="594.4" y2="125.4" stroke="#6CC5A5" stroke-width="0.7"/>
<line x1="565.9" y1="98.3" x2="594.4" y2="130.7" stroke="#6CC5A5" stroke-width="0.7"/>
<line x1="565.9" y1="105.6" x2="594.4" y2="72.0" stroke="#6CC5A5" stroke-width="0.7"/>
<line x1="565.9" y1="105.6" x2="594.4" y2="77.3" stroke="#6CC5A5" stroke-width="0.7"/>
<line x1="565.9" y1="105.6" x2="594.4" y2="82.7" stroke="#6CC5A5" stroke-width="0.7"/>
<line x1="565.9" y1="105.6" x2="594.4" y2="88.0" stroke="#6CC5A5" stroke-width="0.7"/>
<line x1="565.9" y1="105.6" x2="594.4" y2="93.3" stroke="#6CC5A5" stroke-width="0.7"/>
<line x1="565.9" y1="105.6" x2="594.4" y2="98.7" stroke="#6CC5A5" stroke-width="0.7"/>
<line x1="565.9" y1="105.6" x2="594.4" y2="104.0" stroke="#6CC5A5" stroke-width="0.7"/>
<line x1="565.9" y1="105.6" x2="594.4" y2="109.4" stroke="#6CC5A5" stroke-width="0.7"/>
<line x1="565.9" y1="105.6" x2="594.4" y2="114.7" stroke="#6CC5A5" stroke-width="0.7"/>
<line x1="565.9" y1="105.6" x2="594.4" y2="120.0" stroke="#6CC5A5" stroke-width="0.7"/>
<line x1="565.9" y1="105.6" x2="594.4" y2="125.4" stroke="#6CC5A5" stroke-width="0.7"/>
<line x1="565.9" y1="105.6" x2="594.4" y2="130.7" stroke="#6CC5A5" stroke-width="0.7"/>
<line x1="565.9" y1="112.7" x2="594.4" y2="72.0" stroke="#6CC5A5" stroke-width="0.7"/>
<line x1="565.9" y1="112.7" x2="594.4" y2="77.3" stroke="#6CC5A5" stroke-width="0.7"/>
<line x1="565.9" y1="112.7" x2="594.4" y2="82.7" stroke="#6CC5A5" stroke-width="0.7"/>
<line x1="565.9" y1="112.7" x2="594.4" y2="88.0" stroke="#6CC5A5" stroke-width="0.7"/>
<line x1="565.9" y1="112.7" x2="594.4" y2="93.3" stroke="#6CC5A5" stroke-width="0.7"/>
<line x1="565.9" y1="112.7" x2="594.4" y2="98.7" stroke="#6CC5A5" stroke-width="0.7"/>
<line x1="565.9" y1="112.7" x2="594.4" y2="104.0" stroke="#6CC5A5" stroke-width="0.7"/>
<line x1="565.9" y1="112.7" x2="594.4" y2="109.4" stroke="#6CC5A5" stroke-width="0.7"/>
<line x1="565.9" y1="112.7" x2="594.4" y2="114.7" stroke="#6CC5A5" stroke-width="0.7"/>
<line x1="565.9" y1="112.7" x2="594.4" y2="120.0" stroke="#6CC5A5" stroke-width="0.7"/>
<line x1="565.9" y1="112.7" x2="594.4" y2="125.4" stroke="#6CC5A5" stroke-width="0.7"/>
<line x1="565.9" y1="112.7" x2="594.4" y2="130.7" stroke="#6CC5A5" stroke-width="0.7"/>
<line x1="594.4" y1="72.0" x2="626.8" y2="80.4" stroke="#6CC5A5" stroke-width="0.7"/>
<line x1="594.4" y1="72.0" x2="626.8" y2="86.6" stroke="#6CC5A5" stroke-width="0.7"/>
<line x1="594.4" y1="72.0" x2="626.8" y2="92.8" stroke="#6CC5A5" stroke-width="0.7"/>
<line x1="594.4" y1="72.0" x2="626.8" y2="99.0" stroke="#6CC5A5" stroke-width="0.7"/>
<line x1="594.4" y1="72.0" x2="626.8" y2="105.2" stroke="#6CC5A5" stroke-width="0.7"/>
<line x1="594.4" y1="72.0" x2="626.8" y2="111.4" stroke="#6CC5A5" stroke-width="0.7"/>
<line x1="594.4" y1="72.0" x2="626.8" y2="117.6" stroke="#6CC5A5" stroke-width="0.7"/>
<line x1="594.4" y1="77.3" x2="626.8" y2="80.4" stroke="#6CC5A5" stroke-width="0.7"/>
<line x1="594.4" y1="77.3" x2="626.8" y2="86.6" stroke="#6CC5A5" stroke-width="0.7"/>
<line x1="594.4" y1="77.3" x2="626.8" y2="92.8" stroke="#6CC5A5" stroke-width="0.7"/>
<line x1="594.4" y1="77.3" x2="626.8" y2="99.0" stroke="#6CC5A5" stroke-width="0.7"/>
<line x1="594.4" y1="77.3" x2="626.8" y2="105.2" stroke="#6CC5A5" stroke-width="0.7"/>
<line x1="594.4" y1="77.3" x2="626.8" y2="111.4" stroke="#6CC5A5" stroke-width="0.7"/>
<line x1="594.4" y1="77.3" x2="626.8" y2="117.6" stroke="#6CC5A5" stroke-width="0.7"/>
<line x1="594.4" y1="82.7" x2="626.8" y2="80.4" stroke="#6CC5A5" stroke-width="0.7"/>
<line x1="594.4" y1="82.7" x2="626.8" y2="86.6" stroke="#6CC5A5" stroke-width="0.7"/>
<line x1="594.4" y1="82.7" x2="626.8" y2="92.8" stroke="#6CC5A5" stroke-width="0.7"/>
<line x1="594.4" y1="82.7" x2="626.8" y2="99.0" stroke="#6CC5A5" stroke-width="0.7"/>
<line x1="594.4" y1="82.7" x2="626.8" y2="105.2" stroke="#6CC5A5" stroke-width="0.7"/>
<line x1="594.4" y1="82.7" x2="626.8" y2="111.4" stroke="#6CC5A5" stroke-width="0.7"/>
<line x1="594.4" y1="82.7" x2="626.8" y2="117.6" stroke="#6CC5A5" stroke-width="0.7"/>
<line x1="594.4" y1="88.0" x2="626.8" y2="80.4" stroke="#6CC5A5" stroke-width="0.7"/>
<line x1="594.4" y1="88.0" x2="626.8" y2="86.6" stroke="#6CC5A5" stroke-width="0.7"/>
<line x1="594.4" y1="88.0" x2="626.8" y2="92.8" stroke="#6CC5A5" stroke-width="0.7"/>
<line x1="594.4" y1="88.0" x2="626.8" y2="99.0" stroke="#6CC5A5" stroke-width="0.7"/>
<line x1="594.4" y1="88.0" x2="626.8" y2="105.2" stroke="#6CC5A5" stroke-width="0.7"/>
<line x1="594.4" y1="88.0" x2="626.8" y2="111.4" stroke="#6CC5A5" stroke-width="0.7"/>
<line x1="594.4" y1="88.0" x2="626.8" y2="117.6" stroke="#6CC5A5" stroke-width="0.7"/>
<line x1="594.4" y1="93.3" x2="626.8" y2="80.4" stroke="#6CC5A5" stroke-width="0.7"/>
<line x1="594.4" y1="93.3" x2="626.8" y2="86.6" stroke="#6CC5A5" stroke-width="0.7"/>
<line x1="594.4" y1="93.3" x2="626.8" y2="92.8" stroke="#6CC5A5" stroke-width="0.7"/>
<line x1="594.4" y1="93.3" x2="626.8" y2="99.0" stroke="#6CC5A5" stroke-width="0.7"/>
<line x1="594.4" y1="93.3" x2="626.8" y2="105.2" stroke="#6CC5A5" stroke-width="0.7"/>
<line x1="594.4" y1="93.3" x2="626.8" y2="111.4" stroke="#6CC5A5" stroke-width="0.7"/>
<line x1="594.4" y1="93.3" x2="626.8" y2="117.6" stroke="#6CC5A5" stroke-width="0.7"/>
<line x1="594.4" y1="98.7" x2="626.8" y2="80.4" stroke="#6CC5A5" stroke-width="0.7"/>
<line x1="594.4" y1="98.7" x2="626.8" y2="86.6" stroke="#6CC5A5" stroke-width="0.7"/>
<line x1="594.4" y1="98.7" x2="626.8" y2="92.8" stroke="#6CC5A5" stroke-width="0.7"/>
<line x1="594.4" y1="98.7" x2="626.8" y2="99.0" stroke="#6CC5A5" stroke-width="0.7"/>
<line x1="594.4" y1="98.7" x2="626.8" y2="105.2" stroke="#6CC5A5" stroke-width="0.7"/>
<line x1="594.4" y1="98.7" x2="626.8" y2="111.4" stroke="#6CC5A5" stroke-width="0.7"/>
<line x1="594.4" y1="98.7" x2="626.8" y2="117.6" stroke="#6CC5A5" stroke-width="0.7"/>
<line x1="594.4" y1="104.0" x2="626.8" y2="80.4" stroke="#6CC5A5" stroke-width="0.7"/>
<line x1="594.4" y1="104.0" x2="626.8" y2="86.6" stroke="#6CC5A5" stroke-width="0.7"/>
<line x1="594.4" y1="104.0" x2="626.8" y2="92.8" stroke="#6CC5A5" stroke-width="0.7"/>
<line x1="594.4" y1="104.0" x2="626.8" y2="99.0" stroke="#6CC5A5" stroke-width="0.7"/>
<line x1="594.4" y1="104.0" x2="626.8" y2="105.2" stroke="#6CC5A5" stroke-width="0.7"/>
<line x1="594.4" y1="104.0" x2="626.8" y2="111.4" stroke="#6CC5A5" stroke-width="0.7"/>
<line x1="594.4" y1="104.0" x2="626.8" y2="117.6" stroke="#6CC5A5" stroke-width="0.7"/>
<line x1="594.4" y1="109.4" x2="626.8" y2="80.4" stroke="#6CC5A5" stroke-width="0.7"/>
<line x1="594.4" y1="109.4" x2="626.8" y2="86.6" stroke="#6CC5A5" stroke-width="0.7"/>
<line x1="594.4" y1="109.4" x2="626.8" y2="92.8" stroke="#6CC5A5" stroke-width="0.7"/>
<line x1="594.4" y1="109.4" x2="626.8" y2="99.0" stroke="#6CC5A5" stroke-width="0.7"/>
<line x1="594.4" y1="109.4" x2="626.8" y2="105.2" stroke="#6CC5A5" stroke-width="0.7"/>
<line x1="594.4" y1="109.4" x2="626.8" y2="111.4" stroke="#6CC5A5" stroke-width="0.7"/>
<line x1="594.4" y1="109.4" x2="626.8" y2="117.6" stroke="#6CC5A5" stroke-width="0.7"/>
<line x1="594.4" y1="114.7" x2="626.8" y2="80.4" stroke="#6CC5A5" stroke-width="0.7"/>
<line x1="594.4" y1="114.7" x2="626.8" y2="86.6" stroke="#6CC5A5" stroke-width="0.7"/>
<line x1="594.4" y1="114.7" x2="626.8" y2="92.8" stroke="#6CC5A5" stroke-width="0.7"/>
<line x1="594.4" y1="114.7" x2="626.8" y2="99.0" stroke="#6CC5A5" stroke-width="0.7"/>
<line x1="594.4" y1="114.7" x2="626.8" y2="105.2" stroke="#6CC5A5" stroke-width="0.7"/>
<line x1="594.4" y1="114.7" x2="626.8" y2="111.4" stroke="#6CC5A5" stroke-width="0.7"/>
<line x1="594.4" y1="114.7" x2="626.8" y2="117.6" stroke="#6CC5A5" stroke-width="0.7"/>
<line x1="594.4" y1="120.0" x2="626.8" y2="80.4" stroke="#6CC5A5" stroke-width="0.7"/>
<line x1="594.4" y1="120.0" x2="626.8" y2="86.6" stroke="#6CC5A5" stroke-width="0.7"/>
<line x1="594.4" y1="120.0" x2="626.8" y2="92.8" stroke="#6CC5A5" stroke-width="0.7"/>
<line x1="594.4" y1="120.0" x2="626.8" y2="99.0" stroke="#6CC5A5" stroke-width="0.7"/>
<line x1="594.4" y1="120.0" x2="626.8" y2="105.2" stroke="#6CC5A5" stroke-width="0.7"/>
<line x1="594.4" y1="120.0" x2="626.8" y2="111.4" stroke="#6CC5A5" stroke-width="0.7"/>
<line x1="594.4" y1="120.0" x2="626.8" y2="117.6" stroke="#6CC5A5" stroke-width="0.7"/>
<line x1="594.4" y1="125.4" x2="626.8" y2="80.4" stroke="#6CC5A5" stroke-width="0.7"/>
<line x1="594.4" y1="125.4" x2="626.8" y2="86.6" stroke="#6CC5A5" stroke-width="0.7"/>
<line x1="594.4" y1="125.4" x2="626.8" y2="92.8" stroke="#6CC5A5" stroke-width="0.7"/>
<line x1="594.4" y1="125.4" x2="626.8" y2="99.0" stroke="#6CC5A5" stroke-width="0.7"/>
<line x1="594.4" y1="125.4" x2="626.8" y2="105.2" stroke="#6CC5A5" stroke-width="0.7"/>
<line x1="594.4" y1="125.4" x2="626.8" y2="111.4" stroke="#6CC5A5" stroke-width="0.7"/>
<line x1="594.4" y1="125.4" x2="626.8" y2="117.6" stroke="#6CC5A5" stroke-width="0.7"/>
<line x1="594.4" y1="130.7" x2="626.8" y2="80.4" stroke="#6CC5A5" stroke-width="0.7"/>
<line x1="594.4" y1="130.7" x2="626.8" y2="86.6" stroke="#6CC5A5" stroke-width="0.7"/>
<line x1="594.4" y1="130.7" x2="626.8" y2="92.8" stroke="#6CC5A5" stroke-width="0.7"/>
<line x1="594.4" y1="130.7" x2="626.8" y2="99.0" stroke="#6CC5A5" stroke-width="0.7"/>
<line x1="594.4" y1="130.7" x2="626.8" y2="105.2" stroke="#6CC5A5" stroke-width="0.7"/>
<line x1="594.4" y1="130.7" x2="626.8" y2="111.4" stroke="#6CC5A5" stroke-width="0.7"/>
<line x1="594.4" y1="130.7" x2="626.8" y2="117.6" stroke="#6CC5A5" stroke-width="0.7"/>
<line x1="626.8" y1="80.4" x2="648.7" y2="85.1" stroke="#6CC5A5" stroke-width="0.7"/>
<line x1="626.8" y1="80.4" x2="648.7" y2="114.1" stroke="#6CC5A5" stroke-width="0.7"/>
<line x1="626.8" y1="86.6" x2="648.7" y2="85.1" stroke="#6CC5A5" stroke-width="0.7"/>
<line x1="626.8" y1="86.6" x2="648.7" y2="114.1" stroke="#6CC5A5" stroke-width="0.7"/>
<line x1="626.8" y1="92.8" x2="648.7" y2="85.1" stroke="#6CC5A5" stroke-width="0.7"/>
<line x1="626.8" y1="92.8" x2="648.7" y2="114.1" stroke="#6CC5A5" stroke-width="0.7"/>
<line x1="626.8" y1="99.0" x2="648.7" y2="85.1" stroke="#6CC5A5" stroke-width="0.7"/>
<line x1="626.8" y1="99.0" x2="648.7" y2="114.1" stroke="#6CC5A5" stroke-width="0.7"/>
<line x1="626.8" y1="105.2" x2="648.7" y2="85.1" stroke="#6CC5A5" stroke-width="0.7"/>
<line x1="626.8" y1="105.2" x2="648.7" y2="114.1" stroke="#6CC5A5" stroke-width="0.7"/>
<line x1="626.8" y1="111.4" x2="648.7" y2="85.1" stroke="#6CC5A5" stroke-width="0.7"/>
<line x1="626.8" y1="111.4" x2="648.7" y2="114.1" stroke="#6CC5A5" stroke-width="0.7"/>
<line x1="626.8" y1="117.6" x2="648.7" y2="85.1" stroke="#6CC5A5" stroke-width="0.7"/>
<line x1="626.8" y1="117.6" x2="648.7" y2="114.1" stroke="#6CC5A5" stroke-width="0.7"/>
<line x1="648.7" y1="85.1" x2="663.3" y2="98.8" stroke="#6CC5A5" stroke-width="0.7"/>
<line x1="648.7" y1="114.1" x2="663.3" y2="98.8" stroke="#6CC5A5" stroke-width="0.7"/>
<circle cx="565.9" cy="83.4" r="2.1" fill="#CDEBDF" stroke="#5DBE9B" stroke-width="1.1"/>
<circle cx="565.9" cy="90.9" r="2.1" fill="#CDEBDF" stroke="#5DBE9B" stroke-width="1.1"/>
<circle cx="565.9" cy="98.3" r="2.1" fill="#CDEBDF" stroke="#5DBE9B" stroke-width="1.1"/>
<circle cx="565.9" cy="105.6" r="2.1" fill="#CDEBDF" stroke="#5DBE9B" stroke-width="1.1"/>
<circle cx="565.9" cy="112.7" r="2.1" fill="#CDEBDF" stroke="#5DBE9B" stroke-width="1.1"/>
<circle cx="594.4" cy="72.0" r="2.1" fill="#CDEBDF" stroke="#5DBE9B" stroke-width="1.1"/>
<circle cx="594.4" cy="77.3" r="2.1" fill="#CDEBDF" stroke="#5DBE9B" stroke-width="1.1"/>
<circle cx="594.4" cy="82.7" r="2.1" fill="#CDEBDF" stroke="#5DBE9B" stroke-width="1.1"/>
<circle cx="594.4" cy="88.0" r="2.1" fill="#CDEBDF" stroke="#5DBE9B" stroke-width="1.1"/>
<circle cx="594.4" cy="93.3" r="2.1" fill="#CDEBDF" stroke="#5DBE9B" stroke-width="1.1"/>
<circle cx="594.4" cy="98.7" r="2.1" fill="#CDEBDF" stroke="#5DBE9B" stroke-width="1.1"/>
<circle cx="594.4" cy="104.0" r="2.1" fill="#CDEBDF" stroke="#5DBE9B" stroke-width="1.1"/>
<circle cx="594.4" cy="109.4" r="2.1" fill="#CDEBDF" stroke="#5DBE9B" stroke-width="1.1"/>
<circle cx="594.4" cy="114.7" r="2.1" fill="#CDEBDF" stroke="#5DBE9B" stroke-width="1.1"/>
<circle cx="594.4" cy="120.0" r="2.1" fill="#CDEBDF" stroke="#5DBE9B" stroke-width="1.1"/>
<circle cx="594.4" cy="125.4" r="2.1" fill="#CDEBDF" stroke="#5DBE9B" stroke-width="1.1"/>
<circle cx="594.4" cy="130.7" r="2.1" fill="#CDEBDF" stroke="#5DBE9B" stroke-width="1.1"/>
<circle cx="626.8" cy="80.4" r="2.1" fill="#CDEBDF" stroke="#5DBE9B" stroke-width="1.1"/>
<circle cx="626.8" cy="86.6" r="2.1" fill="#CDEBDF" stroke="#5DBE9B" stroke-width="1.1"/>
<circle cx="626.8" cy="92.8" r="2.1" fill="#CDEBDF" stroke="#5DBE9B" stroke-width="1.1"/>
<circle cx="626.8" cy="99.0" r="2.1" fill="#CDEBDF" stroke="#5DBE9B" stroke-width="1.1"/>
<circle cx="626.8" cy="105.2" r="2.1" fill="#CDEBDF" stroke="#5DBE9B" stroke-width="1.1"/>
<circle cx="626.8" cy="111.4" r="2.1" fill="#CDEBDF" stroke="#5DBE9B" stroke-width="1.1"/>
<circle cx="626.8" cy="117.6" r="2.1" fill="#CDEBDF" stroke="#5DBE9B" stroke-width="1.1"/>
<circle cx="648.7" cy="85.1" r="2.1" fill="#CDEBDF" stroke="#5DBE9B" stroke-width="1.1"/>
<circle cx="648.7" cy="114.1" r="2.1" fill="#CDEBDF" stroke="#5DBE9B" stroke-width="1.1"/>
<circle cx="663.3" cy="98.8" r="2.1" fill="#CDEBDF" stroke="#5DBE9B" stroke-width="1.1"/>
<rect x="600.5" y="89.5" width="58" height="17.5" fill="#fff" opacity="0.45"/>
<text x="629.6" y="104.9" font-size="15.6" font-weight="bold" font-style="italic" text-anchor="middle" fill="#F5875C">PUM6A</text>
<rect x="-63.2" y="-33.6" width="126.4" height="67.2" rx="33.6" ry="33.6" transform="translate(84.8 301.7) rotate(45)" fill="#153D9F" fill-opacity="0.5"/>
<rect x="-63.2" y="-33.6" width="126.4" height="67.2" rx="33.6" ry="33.6" transform="translate(105.5 280.8) rotate(45)" fill="#DF7DBD" fill-opacity="0.5"/>
<rect x="-63.2" y="-33.6" width="126.4" height="67.2" rx="33.6" ry="33.6" transform="translate(105.5 280.8) rotate(-45)" fill="#A5D555" fill-opacity="0.5"/>
<rect x="-63.2" y="-33.6" width="126.4" height="67.2" rx="33.6" ry="33.6" transform="translate(126.2 301.7) rotate(-45)" fill="#E9D91D" fill-opacity="0.5"/>
<text x="78.30" y="243.00" font-size="8.9" text-anchor="middle" fill="#1a1a1a" >1191</text>
<text x="130.40" y="242.20" font-size="8.9" text-anchor="middle" fill="#1a1a1a" >3335</text>
<text x="61.70" y="262.30" font-size="8.9" text-anchor="middle" fill="#1a1a1a" >34</text>
<text x="104.90" y="257.90" font-size="8.9" text-anchor="middle" fill="#1a1a1a" >29</text>
<text x="146.60" y="260.30" font-size="8.9" text-anchor="middle" fill="#1a1a1a" >9359</text>
<text x="42.80" y="285.70" font-size="8.9" text-anchor="middle" fill="#1a1a1a" >4245</text>
<text x="80.30" y="279.70" font-size="8.9" text-anchor="middle" fill="#1a1a1a" >9</text>
<text x="128.70" y="280.20" font-size="8.9" text-anchor="middle" fill="#1a1a1a" >1005</text>
<text x="168.10" y="285.20" font-size="8.9" text-anchor="middle" fill="#1a1a1a" >151280</text>
<text x="62.70" y="306.50" font-size="8.9" text-anchor="middle" fill="#1a1a1a" >60</text>
<text x="105.10" y="305.50" font-size="8.9" text-anchor="middle" fill="#1a1a1a" >298</text>
<text x="147.80" y="305.00" font-size="8.9" text-anchor="middle" fill="#1a1a1a" >3408</text>
<text x="84.00" y="327.80" font-size="8.9" text-anchor="middle" fill="#1a1a1a" >978</text>
<text x="126.00" y="327.80" font-size="8.9" text-anchor="middle" fill="#1a1a1a" >569</text>
<text x="105.60" y="347.20" font-size="8.9" text-anchor="middle" fill="#1a1a1a" >3343</text>
<text x="76.90" y="222.40" font-size="11.2" text-anchor="middle" fill="#1a1a1a" >CTIS</text>
<text x="148.80" y="224.90" font-size="11.2" text-anchor="middle" fill="#1a1a1a" >m6ACE</text>
<text transform="translate(40.25,252.55) rotate(-45)" x="0" y="0" font-size="11.2" text-anchor="middle" fill="#1a1a1a">CIMS</text>
<text transform="translate(175.25,258.55) rotate(45)" x="0" y="0" font-size="11.2" text-anchor="middle" fill="#1a1a1a">GLORI</text>
<text x="0.3" y="208.6" font-size="15" font-weight="bold" fill="#000">b</text>
<text x="226.7" y="208.7" font-size="15" font-weight="bold" fill="#000">c</text>
<text x="461.4" y="208.9" font-size="15" font-weight="bold" fill="#000">d</text>
<text x="1.4" y="401.6" font-size="15" font-weight="bold" fill="#000">e</text>
<text x="228.5" y="393.1" font-size="15" font-weight="bold" fill="#000">f</text>
<text x="462.3" y="402.0" font-size="15" font-weight="bold" fill="#000">g</text>
<text x="0.3" y="600.1" font-size="15" font-weight="bold" fill="#000">h</text>
<text x="236.0" y="600.2" font-size="15" font-weight="bold" fill="#000">i</text>
<text x="456.3" y="600.5" font-size="15" font-weight="bold" fill="#000">j</text>
<path d="M276.13,242.31 V358.59 H370.07" fill="none" stroke="#1a1a1a" stroke-width="1.3"/>
<line x1="273.23" y1="353.30" x2="276.13" y2="353.30" stroke="#1a1a1a" stroke-width="1.3"/>
<text x="267.93" y="357.30" font-size="9.8" text-anchor="end" fill="#333333" letter-spacing="-0.35">0.00</text>
<line x1="273.23" y1="326.88" x2="276.13" y2="326.88" stroke="#1a1a1a" stroke-width="1.3"/>
<text x="267.93" y="330.88" font-size="9.8" text-anchor="end" fill="#333333" letter-spacing="-0.35">0.25</text>
<line x1="273.23" y1="300.45" x2="276.13" y2="300.45" stroke="#1a1a1a" stroke-width="1.3"/>
<text x="267.93" y="304.45" font-size="9.8" text-anchor="end" fill="#333333" letter-spacing="-0.35">0.50</text>
<line x1="273.23" y1="274.02" x2="276.13" y2="274.02" stroke="#1a1a1a" stroke-width="1.3"/>
<text x="267.93" y="278.02" font-size="9.8" text-anchor="end" fill="#333333" letter-spacing="-0.35">0.75</text>
<line x1="273.23" y1="247.60" x2="276.13" y2="247.60" stroke="#1a1a1a" stroke-width="1.3"/>
<text x="267.93" y="251.60" font-size="9.8" text-anchor="end" fill="#333333" letter-spacing="-0.35">1.00</text>
<line x1="280.40" y1="358.59" x2="280.40" y2="361.49" stroke="#1a1a1a" stroke-width="1.3"/>
<text x="279.40" y="371.49" font-size="9.8" text-anchor="middle" fill="#333333" letter-spacing="-0.35">0.00</text>
<line x1="301.75" y1="358.59" x2="301.75" y2="361.49" stroke="#1a1a1a" stroke-width="1.3"/>
<text x="300.75" y="371.49" font-size="9.8" text-anchor="middle" fill="#333333" letter-spacing="-0.35">0.25</text>
<line x1="323.10" y1="358.59" x2="323.10" y2="361.49" stroke="#1a1a1a" stroke-width="1.3"/>
<text x="322.10" y="371.49" font-size="9.8" text-anchor="middle" fill="#333333" letter-spacing="-0.35">0.50</text>
<line x1="344.45" y1="358.59" x2="344.45" y2="361.49" stroke="#1a1a1a" stroke-width="1.3"/>
<text x="343.45" y="371.49" font-size="9.8" text-anchor="middle" fill="#333333" letter-spacing="-0.35">0.75</text>
<line x1="365.80" y1="358.59" x2="365.80" y2="361.49" stroke="#1a1a1a" stroke-width="1.3"/>
<text x="364.80" y="371.49" font-size="9.8" text-anchor="middle" fill="#333333" letter-spacing="-0.35">1.00</text>
<polyline points="280.40,353.30 280.41,352.33 280.45,351.17 280.52,349.93 280.62,348.64 280.76,347.31 280.94,345.95 281.16,344.56 281.41,343.14 281.71,341.70 282.06,340.25 282.44,338.78 282.88,337.29 283.35,335.79 283.88,334.27 284.45,332.74 285.06,331.20 285.73,329.65 286.44,328.09 287.20,326.51 288.02,324.93 288.88,323.33 289.79,321.73 290.76,320.11 291.78,318.49 292.84,316.86 293.97,315.22 295.14,313.57 296.37,311.90 297.65,310.24 298.99,308.56 300.38,306.87 301.82,305.17 303.32,303.46 304.88,301.75 306.49,300.02 308.16,298.28 309.88,296.53 311.66,294.77 313.50,293.00 315.40,291.22 317.35,289.42 319.36,287.61 321.44,285.79 323.56,283.95 325.75,282.09 328.00,280.22 330.30,278.32 332.67,276.40 335.10,274.46 337.58,272.49 340.13,270.50 342.74,268.46 345.40,266.38 348.13,264.25 350.92,262.06 353.77,259.78 356.69,257.39 359.66,254.82 362.70,251.94 365.80,247.60" fill="none" stroke="#E5C494" stroke-width="1.4" stroke-linejoin="round" />
<polyline points="280.40,353.30 280.41,353.28 280.45,353.21 280.52,353.08 280.62,352.90 280.76,352.66 280.94,352.36 281.16,352.00 281.41,351.58 281.71,351.09 282.06,350.54 282.44,349.93 282.88,349.26 283.35,348.52 283.88,347.72 284.45,346.86 285.06,345.93 285.73,344.93 286.44,343.88 287.20,342.76 288.02,341.57 288.88,340.32 289.79,339.01 290.76,337.64 291.78,336.20 292.84,334.70 293.97,333.13 295.14,331.50 296.37,329.81 297.65,328.06 298.99,326.25 300.38,324.37 301.82,322.44 303.32,320.44 304.88,318.39 306.49,316.27 308.16,314.09 309.88,311.86 311.66,309.57 313.50,307.22 315.40,304.82 317.35,302.36 319.36,299.84 321.44,297.28 323.56,294.66 325.75,291.98 328.00,289.26 330.30,286.49 332.67,283.67 335.10,280.81 337.58,277.91 340.13,274.96 342.74,271.98 345.40,268.96 348.13,265.91 350.92,262.84 353.77,259.75 356.69,256.65 359.66,253.56 362.70,250.50 365.80,247.60" fill="none" stroke="#FC8D62" stroke-width="1.4" stroke-linejoin="round" />
<polyline points="280.40,353.30 280.41,351.42 280.45,349.46 280.52,347.48 280.62,345.51 280.76,343.55 280.94,341.59 281.16,339.65 281.41,337.71 281.71,335.79 282.06,333.88 282.44,331.98 282.88,330.09 283.35,328.21 283.88,326.34 284.45,324.48 285.06,322.64 285.73,320.80 286.44,318.97 287.20,317.15 288.02,315.35 288.88,313.55 289.79,311.76 290.76,309.98 291.78,308.21 292.84,306.45 293.97,304.70 295.14,302.96 296.37,301.23 297.65,299.50 298.99,297.79 300.38,296.08 301.82,294.38 303.32,292.69 304.88,291.01 306.49,289.33 308.16,287.66 309.88,286.00 311.66,284.35 313.50,282.70 315.40,281.06 317.35,279.43 319.36,277.80 321.44,276.18 323.56,274.56 325.75,272.95 328.00,271.35 330.30,269.75 332.67,268.15 335.10,266.55 337.58,264.95 340.13,263.36 342.74,261.76 345.40,260.16 348.13,258.55 350.92,256.93 353.77,255.29 356.69,253.61 359.66,251.88 362.70,250.03 365.80,247.60" fill="none" stroke="#66C2A5" stroke-width="1.4" stroke-linejoin="round" />
<polyline points="280.40,353.30 280.41,347.24 280.45,342.51 280.52,338.33 280.62,334.51 280.76,330.97 280.94,327.65 281.16,324.51 281.41,321.52 281.71,318.68 282.06,315.96 282.44,313.34 282.88,310.83 283.35,308.41 283.88,306.08 284.45,303.82 285.06,301.64 285.73,299.53 286.44,297.49 287.20,295.50 288.02,293.57 288.88,291.70 289.79,289.89 290.76,288.12 291.78,286.40 292.84,284.73 293.97,283.10 295.14,281.52 296.37,279.98 297.65,278.48 298.99,277.01 300.38,275.59 301.82,274.20 303.32,272.85 304.88,271.53 306.49,270.25 308.16,269.00 309.88,267.78 311.66,266.60 313.50,265.44 315.40,264.32 317.35,263.22 319.36,262.16 321.44,261.12 323.56,260.11 325.75,259.13 328.00,258.17 330.30,257.25 332.67,256.35 335.10,255.48 337.58,254.63 340.13,253.81 342.74,253.02 345.40,252.26 348.13,251.52 350.92,250.80 353.77,250.12 356.69,249.46 359.66,248.83 362.70,248.22 365.80,247.60" fill="none" stroke="#E78AC3" stroke-width="1.4" stroke-linejoin="round" />
<polyline points="280.40,353.30 280.41,352.16 280.45,350.85 280.52,349.46 280.62,348.02 280.76,346.56 280.94,345.07 281.16,343.55 281.41,342.02 281.71,340.48 282.06,338.92 282.44,337.35 282.88,335.76 283.35,334.17 283.88,332.57 284.45,330.96 285.06,329.35 285.73,327.72 286.44,326.09 287.20,324.45 288.02,322.81 288.88,321.16 289.79,319.51 290.76,317.84 291.78,316.18 292.84,314.51 293.97,312.83 295.14,311.15 296.37,309.46 297.65,307.77 298.99,306.07 300.38,304.37 301.82,302.66 303.32,300.95 304.88,299.23 306.49,297.50 308.16,295.77 309.88,294.03 311.66,292.29 313.50,290.54 315.40,288.78 317.35,287.01 319.36,285.23 321.44,283.45 323.56,281.65 325.75,279.85 328.00,278.03 330.30,276.19 332.67,274.35 335.10,272.48 337.58,270.60 340.13,268.69 342.74,266.75 345.40,264.78 348.13,262.78 350.92,260.72 353.77,258.60 356.69,256.38 359.66,254.03 362.70,251.42 365.80,247.60" fill="none" stroke="#A6D854" stroke-width="1.4" stroke-linejoin="round" />
<text x="319.50" y="238.90" font-size="10.2" text-anchor="middle" fill="#1a1a1a" letter-spacing="-0.22">&gt;3 reads per site</text>
<text transform="translate(243.70,300.45) rotate(-90)" x="0" y="0" font-size="11.7" text-anchor="middle" fill="#1a1a1a">True positive rate</text>
<text x="323.10" y="386.00" font-size="11.7" text-anchor="middle" fill="#1a1a1a" >False positive rate</text>
<line x1="326.40" y1="300.80" x2="340.80" y2="300.80" stroke="#E5C494" stroke-width="1.7"/>
<text x="348.70" y="303.81" font-size="8.6" text-anchor="start" fill="#1a1a1a" >EpiNano (AUC = 0.623)</text>
<line x1="326.40" y1="312.50" x2="340.80" y2="312.50" stroke="#FC8D62" stroke-width="1.7"/>
<text x="348.70" y="315.51" font-size="8.6" text-anchor="start" fill="#1a1a1a" >MINES (AUC = 0.535)</text>
<line x1="326.40" y1="324.80" x2="340.80" y2="324.80" stroke="#66C2A5" stroke-width="1.7"/>
<text x="348.70" y="327.81" font-size="8.6" text-anchor="start" fill="#1a1a1a" >Nanom6A (AUC = 0.698)</text>
<line x1="326.40" y1="336.80" x2="340.80" y2="336.80" stroke="#E78AC3" stroke-width="1.7"/>
<text x="348.70" y="339.81" font-size="8.6" text-anchor="start" fill="#1a1a1a" >pum6a (AUC = 0.826)</text>
<line x1="326.40" y1="348.80" x2="340.80" y2="348.80" stroke="#A6D854" stroke-width="1.7"/>
<text x="348.70" y="351.81" font-size="8.6" text-anchor="start" fill="#1a1a1a" >Tombo (AUC = 0.641)</text>
<path d="M508.85,243.34 V358.95 H602.35" fill="none" stroke="#1a1a1a" stroke-width="1.3"/>
<line x1="505.95" y1="353.70" x2="508.85" y2="353.70" stroke="#1a1a1a" stroke-width="1.3"/>
<text x="500.65" y="357.70" font-size="9.8" text-anchor="end" fill="#333333" letter-spacing="-0.35">0.00</text>
<line x1="505.95" y1="327.43" x2="508.85" y2="327.43" stroke="#1a1a1a" stroke-width="1.3"/>
<text x="500.65" y="331.43" font-size="9.8" text-anchor="end" fill="#333333" letter-spacing="-0.35">0.25</text>
<line x1="505.95" y1="301.15" x2="508.85" y2="301.15" stroke="#1a1a1a" stroke-width="1.3"/>
<text x="500.65" y="305.15" font-size="9.8" text-anchor="end" fill="#333333" letter-spacing="-0.35">0.50</text>
<line x1="505.95" y1="274.88" x2="508.85" y2="274.88" stroke="#1a1a1a" stroke-width="1.3"/>
<text x="500.65" y="278.88" font-size="9.8" text-anchor="end" fill="#333333" letter-spacing="-0.35">0.75</text>
<line x1="505.95" y1="248.60" x2="508.85" y2="248.60" stroke="#1a1a1a" stroke-width="1.3"/>
<text x="500.65" y="252.60" font-size="9.8" text-anchor="end" fill="#333333" letter-spacing="-0.35">1.00</text>
<line x1="513.10" y1="358.95" x2="513.10" y2="361.85" stroke="#1a1a1a" stroke-width="1.3"/>
<text x="512.10" y="371.85" font-size="9.8" text-anchor="middle" fill="#333333" letter-spacing="-0.35">0.00</text>
<line x1="534.35" y1="358.95" x2="534.35" y2="361.85" stroke="#1a1a1a" stroke-width="1.3"/>
<text x="533.35" y="371.85" font-size="9.8" text-anchor="middle" fill="#333333" letter-spacing="-0.35">0.25</text>
<line x1="555.60" y1="358.95" x2="555.60" y2="361.85" stroke="#1a1a1a" stroke-width="1.3"/>
<text x="554.60" y="371.85" font-size="9.8" text-anchor="middle" fill="#333333" letter-spacing="-0.35">0.50</text>
<line x1="576.85" y1="358.95" x2="576.85" y2="361.85" stroke="#1a1a1a" stroke-width="1.3"/>
<text x="575.85" y="371.85" font-size="9.8" text-anchor="middle" fill="#333333" letter-spacing="-0.35">0.75</text>
<line x1="598.10" y1="358.95" x2="598.10" y2="361.85" stroke="#1a1a1a" stroke-width="1.3"/>
<text x="597.10" y="371.85" font-size="9.8" text-anchor="middle" fill="#333333" letter-spacing="-0.35">1.00</text>
<polyline points="513.10,335.83 513.30,335.18 513.78,334.05 514.14,333.66 514.55,332.37 515.13,331.04 515.99,330.53 516.38,329.85 516.79,329.76 517.24,329.27 517.71,328.76 518.22,328.38 518.76,327.56 519.34,327.39 519.95,326.71 520.60,326.30 521.29,325.97 522.02,325.43 522.45,325.26 522.91,325.67 523.39,325.16 523.89,325.27 524.41,325.10 524.95,324.64 525.50,324.47 526.06,324.48 526.63,324.79 527.20,324.57 527.77,323.86 528.35,324.44 528.92,324.00 529.48,323.56 530.03,324.15 530.58,323.93 531.10,323.38 531.61,323.89 532.10,323.25 532.57,323.84 533.18,323.68 533.74,323.68 534.25,323.26 534.73,323.35 535.18,323.45 535.62,323.43 536.07,323.42 536.52,323.23 537.00,323.62 537.51,323.92 538.07,324.19 538.68,323.94 539.37,323.76 540.13,324.26 540.53,324.06 540.94,324.81 541.38,324.72 541.82,324.51 542.28,324.87 542.76,324.54 543.24,324.51 543.74,325.07 544.25,325.08 544.76,324.83 545.29,325.23 545.82,325.72 546.36,325.61 546.91,325.60 547.46,326.07 548.02,325.74 548.57,326.25 549.13,326.03 549.70,325.72 550.26,326.57 550.82,326.28 551.38,326.23 551.94,326.49 552.49,326.69 553.04,327.16 553.58,327.16 554.12,327.23 554.65,326.89 555.18,326.94 555.69,327.67 556.18,327.26 556.67,328.04 557.14,328.14 557.61,328.25 558.07,327.88 558.52,328.59 558.97,328.69 559.42,328.28 559.86,328.16 560.31,328.39 560.76,328.87 561.21,329.13 561.66,329.24 562.13,329.52 562.60,329.72 563.08,329.85 563.58,329.37 564.08,330.00 564.60,329.47 565.14,330.07 565.70,330.21 566.27,330.55 566.87,330.14 567.49,330.98 568.13,330.33 568.80,330.67 569.49,330.97 570.22,331.47 570.63,331.54 571.05,331.56 571.49,331.49 571.95,330.99 572.42,331.48 572.91,331.24 573.41,331.41 573.92,331.86 574.45,331.61 574.98,331.63 575.53,331.67 576.09,332.47 576.65,332.03 577.23,332.57 577.81,331.90 578.40,332.07 579.00,332.60 579.60,332.73 580.20,333.04 580.81,332.81 581.42,333.15 582.03,332.90 582.65,332.87 583.26,332.86 583.88,332.81 584.49,333.14 585.10,333.69 585.71,333.26 586.32,333.43 586.92,333.82 587.51,333.76 588.10,334.07 588.69,334.23 589.27,333.83 589.84,334.27 590.40,334.14 590.95,333.99 591.49,334.27 592.02,333.86 592.54,334.08 593.04,334.31 593.53,334.74 594.01,334.78 594.47,334.25 594.92,334.88 595.35,334.57 595.76,334.42 596.16,334.82 596.53,334.47 596.89,334.89 597.22,335.10 597.54,335.32 597.83,335.36 598.10,334.90" fill="none" stroke="#E5C494" stroke-width="1.4" stroke-linejoin="round" />
<polyline points="513.10,335.83 513.30,334.76 513.78,333.31 514.14,332.13 514.55,331.78 515.13,330.49 515.99,330.52 516.35,330.42 516.69,329.78 517.03,329.91 517.40,330.27 517.79,330.30 518.25,330.28 518.78,330.50 519.41,330.95 520.14,331.16 521.01,331.27 522.02,331.34 522.37,330.78 522.73,331.42 523.10,331.44 523.48,330.90 523.87,331.18 524.27,331.61 524.68,331.04 525.10,331.69 525.53,331.60 525.97,331.29 526.42,331.39 526.88,332.05 527.34,331.54 527.82,331.94 528.31,332.04 528.81,331.95 529.32,332.50 529.83,332.03 530.36,331.91 530.90,332.38 531.45,332.75 532.00,332.38 532.57,332.80 533.15,332.81 533.73,332.59 534.33,332.96 534.93,332.74 535.55,333.24 536.17,332.97 536.81,332.94 537.45,333.17 538.11,332.77 538.77,333.01 539.45,333.41 540.13,333.12 540.54,333.33 540.96,333.49 541.39,333.27 541.82,333.38 542.26,333.07 542.71,333.71 543.16,333.32 543.62,333.42 544.09,333.43 544.56,333.42 545.03,333.66 545.51,333.92 546.00,333.54 546.49,333.41 546.99,334.10 547.49,333.98 547.99,334.26 548.50,334.12 549.01,334.09 549.53,334.03 550.05,334.23 550.57,333.96 551.09,334.06 551.62,333.94 552.15,334.09 552.68,333.87 553.22,334.17 553.76,333.92 554.29,334.36 554.83,334.11 555.38,334.06 555.92,334.35 556.46,334.00 557.01,334.60 557.55,334.16 558.09,334.27 558.64,334.83 559.18,334.69 559.73,334.76 560.27,334.51 560.82,334.80 561.36,334.25 561.90,334.96 562.44,334.72 562.98,334.76 563.51,334.34 564.05,334.92 564.58,334.85 565.11,335.10 565.63,334.99 566.16,334.99 566.68,335.23 567.20,335.25 567.71,334.84 568.22,335.04 568.73,335.36 569.23,334.72 569.73,335.47 570.22,335.49 570.76,335.00 571.31,335.20 571.86,335.41 572.43,335.11 572.99,335.06 573.57,335.54 574.15,335.45 574.73,335.63 575.32,335.66 575.91,335.31 576.50,335.29 577.10,335.15 577.70,335.57 578.30,335.57 578.90,335.74 579.50,335.63 580.11,335.86 580.71,335.68 581.31,335.97 581.91,336.06 582.51,335.61 583.11,335.35 583.70,335.51 584.29,335.81 584.88,335.43 585.46,335.92 586.04,335.59 586.61,335.92 587.18,336.30 587.74,336.25 588.30,335.63 588.84,335.70 589.38,336.04 589.92,335.63 590.44,336.19 590.95,335.70 591.46,335.91 591.95,336.11 592.44,336.34 592.91,335.86 593.37,336.24 593.82,336.48 594.26,336.47 594.68,336.45 595.09,335.82 595.49,336.09 595.87,336.27 596.24,336.18 596.59,336.19 596.93,336.68 597.25,335.90 597.55,336.55 597.83,336.65 598.10,336.53" fill="none" stroke="#FC8D62" stroke-width="1.4" stroke-linejoin="round" />
<polyline points="513.10,281.39 513.19,291.17 513.46,290.58 513.83,289.69 514.41,288.74 515.31,288.55 515.67,288.96 516.05,289.10 516.47,289.75 516.91,290.05 517.38,290.20 517.88,291.14 518.41,291.97 518.95,292.18 519.53,292.99 520.12,293.51 520.74,293.81 521.37,294.20 522.02,294.76 522.47,295.37 522.94,295.27 523.43,296.32 523.94,296.18 524.46,296.51 525.00,297.51 525.55,297.40 526.11,297.90 526.67,298.03 527.24,298.94 527.81,298.75 528.38,299.82 528.94,299.63 529.50,299.93 530.05,300.57 530.59,301.44 531.11,301.16 531.61,301.54 532.10,302.01 532.57,302.62 533.18,302.52 533.74,303.54 534.25,303.78 534.73,304.24 535.18,303.98 535.62,304.81 536.07,304.74 536.52,305.07 537.00,305.98 537.51,305.86 538.07,306.52 538.68,306.67 539.37,307.59 540.13,308.11 540.53,308.44 540.94,308.45 541.38,308.39 541.82,308.68 542.28,309.69 542.76,309.88 543.24,310.15 543.74,309.98 544.25,310.32 544.76,311.25 545.29,311.30 545.82,311.52 546.36,312.06 546.91,312.36 547.46,312.70 548.02,313.69 548.57,314.02 549.13,313.87 549.70,314.68 550.26,315.14 550.82,315.00 551.38,315.85 551.94,315.88 552.49,316.56 553.04,317.30 553.58,316.85 554.12,317.90 554.65,318.20 555.18,317.98 555.69,318.65 556.21,319.06 556.73,318.95 557.25,319.42 557.77,320.09 558.29,320.01 558.81,320.11 559.33,320.49 559.84,320.80 560.36,321.67 560.88,322.04 561.40,322.16 561.92,322.70 562.44,322.41 562.96,322.89 563.48,323.58 563.99,323.30 564.51,323.91 565.03,323.67 565.55,324.39 566.07,324.50 566.59,324.97 567.11,325.39 567.63,325.17 568.14,325.30 568.66,326.15 569.18,326.18 569.70,326.56 570.22,326.66 570.74,326.67 571.26,327.05 571.79,327.57 572.31,327.43 572.84,327.84 573.37,328.10 573.90,327.82 574.43,328.25 574.96,328.43 575.49,328.44 576.03,328.77 576.56,328.49 577.09,329.13 577.62,329.30 578.14,329.61 578.67,329.33 579.20,329.89 579.72,329.87 580.24,329.73 580.76,329.76 581.27,329.62 581.79,330.48 582.30,330.25 582.80,330.13 583.30,330.76 583.80,330.97 584.29,330.83 584.78,331.10 585.26,331.51 585.83,330.91 586.40,331.45 586.99,331.57 587.58,331.67 588.18,331.80 588.78,332.42 589.38,332.61 589.98,332.37 590.58,332.35 591.17,332.42 591.76,333.03 592.34,332.98 592.90,333.32 593.46,333.80 594.00,333.74 594.52,333.41 595.02,333.65 595.50,333.68 595.96,333.86 596.39,334.27 596.79,334.65 597.17,334.25 597.51,334.98 597.82,334.88 598.10,334.48" fill="none" stroke="#66C2A5" stroke-width="1.4" stroke-linejoin="round" />
<polyline points="513.10,352.86 513.19,319.75 513.46,319.45 513.83,319.02 514.41,318.64 515.31,318.62 515.67,318.63 516.05,318.30 516.47,318.11 516.91,317.94 517.38,318.44 517.88,318.48 518.41,318.00 518.95,318.21 519.53,317.97 520.12,317.87 520.74,317.80 521.37,317.90 522.02,318.32 522.47,318.44 522.94,318.57 523.43,318.48 523.94,318.68 524.46,318.17 525.00,318.39 525.55,318.33 526.11,318.41 526.67,318.94 527.24,318.75 527.81,319.22 528.38,319.33 528.94,319.15 529.50,319.04 530.05,319.29 530.59,319.14 531.11,319.26 531.61,319.30 532.10,319.52 532.57,320.12 533.18,320.08 533.74,319.97 534.25,320.03 534.73,319.94 535.18,320.03 535.62,320.37 536.07,320.25 536.52,320.06 537.00,320.16 537.51,320.49 538.07,320.73 538.68,320.96 539.37,321.28 540.13,321.17 540.53,321.29 540.94,321.08 541.38,321.74 541.82,321.96 542.28,321.46 542.76,322.23 543.24,321.71 543.74,322.35 544.25,322.16 544.76,322.94 545.29,322.96 545.82,323.15 546.36,322.89 546.91,323.66 547.46,323.74 548.02,323.64 548.57,323.79 549.13,324.33 549.70,323.93 550.26,323.97 550.82,324.27 551.38,324.68 551.94,325.07 552.49,325.14 553.04,325.24 553.58,325.30 554.12,325.46 554.65,325.75 555.18,325.80 555.69,325.86 556.18,325.69 556.67,325.99 557.14,326.70 557.61,326.44 558.07,326.59 558.52,326.91 558.97,326.42 559.42,327.27 559.86,326.68 560.31,327.05 560.76,327.68 561.21,327.19 561.66,327.77 562.13,327.98 562.60,328.19 563.08,328.10 563.58,327.72 564.08,327.75 564.60,328.24 565.14,328.30 565.70,328.22 566.27,328.92 566.87,328.84 567.49,328.63 568.13,329.10 568.80,329.45 569.49,329.47 570.22,329.86 570.63,329.36 571.05,329.66 571.49,329.83 571.95,330.20 572.42,329.85 572.91,330.46 573.41,330.20 573.92,330.36 574.45,330.68 574.98,330.73 575.53,330.77 576.09,331.11 576.65,330.89 577.23,330.71 577.81,330.94 578.40,331.42 579.00,331.61 579.60,331.11 580.20,331.41 580.81,331.59 581.42,331.58 582.03,331.89 582.65,331.92 583.26,332.01 583.88,332.33 584.49,332.27 585.10,332.00 585.71,332.50 586.32,332.30 586.92,332.91 587.51,332.64 588.10,332.81 588.69,332.74 589.27,333.44 589.84,333.37 590.40,333.69 590.95,333.29 591.49,333.47 592.02,334.04 592.54,333.79 593.04,334.13 593.53,333.62 594.01,334.41 594.47,334.12 594.92,334.16 595.35,334.64 595.76,334.62 596.16,334.15 596.53,334.85 596.89,334.79 597.22,334.58 597.54,334.95 597.83,334.62 598.10,335.14" fill="none" stroke="#A6D854" stroke-width="1.4" stroke-linejoin="round" />
<polyline points="513.10,248.60 513.19,269.30 513.46,267.13 513.83,263.95 514.41,260.79 515.31,258.56 515.67,258.19 516.05,258.34 516.47,258.29 516.91,258.10 517.38,258.33 517.88,258.16 518.41,258.71 518.95,258.52 519.53,259.05 520.12,259.61 520.74,259.37 521.37,259.74 522.02,260.73 522.47,261.02 522.94,260.67 523.43,260.98 523.94,261.39 524.46,261.45 525.00,262.44 525.55,262.49 526.11,262.60 526.67,263.25 527.24,263.64 527.81,263.86 528.38,264.96 528.94,265.14 529.50,265.81 530.05,265.55 530.59,265.99 531.11,266.47 531.61,267.48 532.10,267.58 532.57,267.49 533.18,268.20 533.74,268.69 534.25,268.90 534.73,269.25 535.18,270.00 535.62,269.96 536.07,270.44 536.52,271.07 537.00,271.61 537.51,272.24 538.07,272.59 538.68,272.80 539.37,274.09 540.13,274.54 540.53,274.79 540.94,275.28 541.38,276.16 541.82,276.48 542.28,277.14 542.76,277.37 543.24,278.32 543.74,278.92 544.25,278.66 544.76,279.97 545.29,280.25 545.82,280.80 546.36,281.74 546.91,281.87 547.46,282.26 548.02,283.28 548.57,284.00 549.13,284.30 549.70,285.48 550.26,285.65 550.82,286.38 551.38,286.83 551.94,287.35 552.49,288.25 553.04,289.04 553.58,289.01 554.12,289.75 554.65,290.87 555.18,291.45 555.69,292.02 556.21,292.00 556.73,292.62 557.25,293.27 557.77,294.34 558.29,294.52 558.81,294.84 559.33,295.77 559.84,296.14 560.36,297.34 560.88,297.75 561.40,297.87 561.92,298.94 562.44,299.71 562.96,299.52 563.48,300.16 563.99,301.23 564.51,301.67 565.03,302.10 565.55,302.83 566.07,303.77 566.59,303.90 567.11,304.36 567.63,305.19 568.14,305.92 568.66,306.41 569.18,306.66 569.70,307.52 570.22,308.13 570.74,308.23 571.26,309.24 571.79,309.28 572.31,309.67 572.84,310.62 573.37,310.72 573.90,311.66 574.43,312.12 574.96,312.51 575.49,312.63 576.03,313.78 576.56,313.85 577.09,314.15 577.62,314.65 578.14,315.23 578.67,316.21 579.20,316.07 579.72,316.47 580.24,317.56 580.76,317.81 581.27,318.33 581.79,318.45 582.30,319.03 582.80,319.61 583.30,320.18 583.80,320.90 584.29,320.85 584.78,321.93 585.26,322.27 585.83,322.93 586.40,323.24 586.99,323.96 587.58,323.96 588.18,325.02 588.78,325.64 589.38,325.96 589.98,326.87 590.58,327.24 591.17,327.65 591.76,328.51 592.34,329.25 592.90,329.94 593.46,330.08 594.00,330.59 594.52,331.30 595.02,332.12 595.50,331.95 595.96,332.68 596.39,333.24 596.79,333.27 597.17,334.09 597.51,333.93 597.82,334.09 598.10,334.97" fill="none" stroke="#E78AC3" stroke-width="1.4" stroke-linejoin="round" />
<text x="545.20" y="232.90" font-size="10.2" text-anchor="middle" fill="#1a1a1a" letter-spacing="-0.22">&gt;3 reads per site</text>
<text transform="translate(477.00,301.15) rotate(-90)" x="0" y="0" font-size="11.7" text-anchor="middle" fill="#1a1a1a">Precision</text>
<text x="555.60" y="385.50" font-size="11.7" text-anchor="middle" fill="#1a1a1a" >Recall</text>
<line x1="565.90" y1="245.40" x2="580.60" y2="245.40" stroke="#E5C494" stroke-width="1.7"/>
<text x="588.40" y="248.41" font-size="8.6" text-anchor="start" fill="#1a1a1a" >EpiNano (AUC = 0.235)</text>
<line x1="565.90" y1="257.20" x2="580.60" y2="257.20" stroke="#FC8D62" stroke-width="1.7"/>
<text x="588.40" y="260.21" font-size="8.6" text-anchor="start" fill="#1a1a1a" >MINES (AUC = 0.184)</text>
<line x1="565.90" y1="269.40" x2="580.60" y2="269.40" stroke="#66C2A5" stroke-width="1.7"/>
<text x="588.40" y="272.41" font-size="8.6" text-anchor="start" fill="#1a1a1a" >Nanom6A (AUC = 0.357)</text>
<line x1="565.90" y1="281.90" x2="580.60" y2="281.90" stroke="#E78AC3" stroke-width="1.7"/>
<text x="588.40" y="284.91" font-size="8.6" text-anchor="start" fill="#1a1a1a" >pum6a (AUC = 0.580)</text>
<line x1="565.90" y1="294.10" x2="580.60" y2="294.10" stroke="#A6D854" stroke-width="1.7"/>
<text x="588.40" y="297.11" font-size="8.6" text-anchor="start" fill="#1a1a1a" >Tombo (AUC = 0.263)</text>
<path d="M54.44,425.14 V540.75 H148.16" fill="none" stroke="#1a1a1a" stroke-width="1.3"/>
<line x1="51.54" y1="535.50" x2="54.44" y2="535.50" stroke="#1a1a1a" stroke-width="1.3"/>
<text x="46.24" y="539.50" font-size="9.8" text-anchor="end" fill="#333333" letter-spacing="-0.35">0.00</text>
<line x1="51.54" y1="509.23" x2="54.44" y2="509.23" stroke="#1a1a1a" stroke-width="1.3"/>
<text x="46.24" y="513.23" font-size="9.8" text-anchor="end" fill="#333333" letter-spacing="-0.35">0.25</text>
<line x1="51.54" y1="482.95" x2="54.44" y2="482.95" stroke="#1a1a1a" stroke-width="1.3"/>
<text x="46.24" y="486.95" font-size="9.8" text-anchor="end" fill="#333333" letter-spacing="-0.35">0.50</text>
<line x1="51.54" y1="456.67" x2="54.44" y2="456.67" stroke="#1a1a1a" stroke-width="1.3"/>
<text x="46.24" y="460.67" font-size="9.8" text-anchor="end" fill="#333333" letter-spacing="-0.35">0.75</text>
<line x1="51.54" y1="430.40" x2="54.44" y2="430.40" stroke="#1a1a1a" stroke-width="1.3"/>
<text x="46.24" y="434.40" font-size="9.8" text-anchor="end" fill="#333333" letter-spacing="-0.35">1.00</text>
<line x1="58.70" y1="540.75" x2="58.70" y2="543.65" stroke="#1a1a1a" stroke-width="1.3"/>
<text x="57.70" y="553.65" font-size="9.8" text-anchor="middle" fill="#333333" letter-spacing="-0.35">0.00</text>
<line x1="80.00" y1="540.75" x2="80.00" y2="543.65" stroke="#1a1a1a" stroke-width="1.3"/>
<text x="79.00" y="553.65" font-size="9.8" text-anchor="middle" fill="#333333" letter-spacing="-0.35">0.25</text>
<line x1="101.30" y1="540.75" x2="101.30" y2="543.65" stroke="#1a1a1a" stroke-width="1.3"/>
<text x="100.30" y="553.65" font-size="9.8" text-anchor="middle" fill="#333333" letter-spacing="-0.35">0.50</text>
<line x1="122.60" y1="540.75" x2="122.60" y2="543.65" stroke="#1a1a1a" stroke-width="1.3"/>
<text x="121.60" y="553.65" font-size="9.8" text-anchor="middle" fill="#333333" letter-spacing="-0.35">0.75</text>
<line x1="143.90" y1="540.75" x2="143.90" y2="543.65" stroke="#1a1a1a" stroke-width="1.3"/>
<text x="142.90" y="553.65" font-size="9.8" text-anchor="middle" fill="#333333" letter-spacing="-0.35">1.00</text>
<polyline points="58.70,535.50 60.59,533.89 62.49,532.98 64.38,530.24 66.27,527.70 68.17,527.64 70.06,524.77 71.95,522.92 73.85,520.96 75.74,517.59 77.63,515.24 79.53,513.40 81.42,512.00 83.31,508.81 85.21,508.16 87.10,505.07 88.99,502.82 90.89,501.33 92.78,497.99 94.67,496.01 96.57,493.66 98.46,491.84 100.35,488.25 102.25,486.96 104.14,484.75 106.03,480.56 107.93,479.28 109.82,476.19 111.71,473.47 113.61,470.91 115.50,468.10 117.39,467.18 119.29,464.05 121.18,462.20 123.07,458.42 124.97,456.91 126.86,454.28 128.75,451.74 130.65,448.18 132.54,446.11 134.43,442.78 136.33,440.69 138.22,438.08 140.11,435.29 142.01,433.38 143.90,430.40" fill="none" stroke="#FFD92F" stroke-width="1.4" stroke-linejoin="round" />
<polyline points="58.70,535.50 58.71,534.51 58.75,533.33 58.82,532.08 58.92,530.77 59.06,529.43 59.24,528.05 59.45,526.65 59.71,525.22 60.01,523.77 60.35,522.31 60.74,520.83 61.17,519.34 61.65,517.83 62.17,516.31 62.74,514.77 63.35,513.23 64.01,511.67 64.73,510.11 65.49,508.53 66.30,506.95 67.16,505.35 68.07,503.75 69.03,502.13 70.05,500.51 71.12,498.88 72.23,497.24 73.41,495.60 74.63,493.94 75.91,492.28 77.24,490.60 78.63,488.92 80.07,487.23 81.57,485.53 83.12,483.82 84.73,482.11 86.39,480.38 88.11,478.64 89.89,476.89 91.73,475.14 93.62,473.37 95.57,471.58 97.57,469.79 99.64,467.98 101.76,466.16 103.95,464.32 106.19,462.47 108.49,460.59 110.85,458.70 113.27,456.78 115.75,454.84 118.29,452.86 120.89,450.85 123.55,448.81 126.27,446.71 129.06,444.55 131.90,442.31 134.81,439.96 137.78,437.45 140.81,434.63 143.90,430.40" fill="none" stroke="#E5C494" stroke-width="1.4" stroke-linejoin="round" />
<polyline points="58.70,535.50 58.71,535.48 58.75,535.41 58.82,535.28 58.92,535.10 59.06,534.86 59.24,534.57 59.45,534.21 59.71,533.79 60.01,533.30 60.35,532.76 60.74,532.15 61.17,531.48 61.65,530.75 62.17,529.95 62.74,529.09 63.35,528.17 64.01,527.18 64.73,526.13 65.49,525.02 66.30,523.84 67.16,522.60 68.07,521.29 69.03,519.93 70.05,518.50 71.12,517.00 72.23,515.45 73.41,513.83 74.63,512.15 75.91,510.41 77.24,508.60 78.63,506.74 80.07,504.81 81.57,502.83 83.12,500.78 84.73,498.68 86.39,496.52 88.11,494.30 89.89,492.02 91.73,489.68 93.62,487.29 95.57,484.85 97.57,482.35 99.64,479.79 101.76,477.19 103.95,474.53 106.19,471.83 108.49,469.07 110.85,466.27 113.27,463.42 115.75,460.53 118.29,457.61 120.89,454.64 123.55,451.64 126.27,448.61 129.06,445.55 131.90,442.48 134.81,439.40 137.78,436.32 140.81,433.29 143.90,430.40" fill="none" stroke="#FC8D62" stroke-width="1.4" stroke-linejoin="round" />
<polyline points="58.70,535.50 58.71,533.48 58.75,531.40 58.82,529.32 58.92,527.27 59.06,525.22 59.24,523.20 59.45,521.19 59.71,519.20 60.01,517.23 60.35,515.27 60.74,513.33 61.17,511.40 61.65,509.48 62.17,507.59 62.74,505.70 63.35,503.83 64.01,501.97 64.73,500.13 65.49,498.30 66.30,496.48 67.16,494.67 68.07,492.88 69.03,491.10 70.05,489.33 71.12,487.57 72.23,485.82 73.41,484.09 74.63,482.36 75.91,480.65 77.24,478.95 78.63,477.25 80.07,475.57 81.57,473.90 83.12,472.24 84.73,470.58 86.39,468.94 88.11,467.31 89.89,465.69 91.73,464.07 93.62,462.47 95.57,460.87 97.57,459.28 99.64,457.70 101.76,456.13 103.95,454.56 106.19,453.00 108.49,451.45 110.85,449.90 113.27,448.36 115.75,446.83 118.29,445.29 120.89,443.76 123.55,442.22 126.27,440.69 129.06,439.14 131.90,437.58 134.81,436.00 137.78,434.37 140.81,432.64 143.90,430.40" fill="none" stroke="#66C2A5" stroke-width="1.4" stroke-linejoin="round" />
<polyline points="58.70,535.50 58.71,528.65 58.75,523.51 58.82,519.03 58.92,514.99 59.06,511.28 59.24,507.81 59.45,504.56 59.71,501.49 60.01,498.58 60.35,495.81 60.74,493.16 61.17,490.62 61.65,488.18 62.17,485.84 62.74,483.59 63.35,481.42 64.01,479.32 64.73,477.30 65.49,475.34 66.30,473.45 67.16,471.61 68.07,469.84 69.03,468.11 70.05,466.44 71.12,464.82 72.23,463.25 73.41,461.72 74.63,460.24 75.91,458.80 77.24,457.40 78.63,456.05 80.07,454.73 81.57,453.44 83.12,452.20 84.73,450.99 86.39,449.81 88.11,448.67 89.89,447.56 91.73,446.48 93.62,445.43 95.57,444.41 97.57,443.43 99.64,442.47 101.76,441.54 103.95,440.64 106.19,439.77 108.49,438.92 110.85,438.11 113.27,437.32 115.75,436.55 118.29,435.82 120.89,435.11 123.55,434.43 126.27,433.77 129.06,433.15 131.90,432.54 134.81,431.97 137.78,431.43 140.81,430.91 143.90,430.40" fill="none" stroke="#E78AC3" stroke-width="1.4" stroke-linejoin="round" />
<polyline points="58.70,535.50 58.71,534.29 58.75,532.90 58.82,531.45 58.92,529.96 59.06,528.44 59.24,526.89 59.45,525.33 59.71,523.76 60.01,522.17 60.35,520.57 60.74,518.97 61.17,517.35 61.65,515.73 62.17,514.10 62.74,512.46 63.35,510.82 64.01,509.18 64.73,507.53 65.49,505.87 66.30,504.21 67.16,502.55 68.07,500.88 69.03,499.21 70.05,497.54 71.12,495.86 72.23,494.18 73.41,492.49 74.63,490.81 75.91,489.12 77.24,487.42 78.63,485.72 80.07,484.02 81.57,482.32 83.12,480.61 84.73,478.90 86.39,477.18 88.11,475.46 89.89,473.73 91.73,472.00 93.62,470.27 95.57,468.52 97.57,466.77 99.64,465.02 101.76,463.25 103.95,461.48 106.19,459.70 108.49,457.91 110.85,456.10 113.27,454.28 115.75,452.44 118.29,450.59 120.89,448.71 123.55,446.80 126.27,444.86 129.06,442.88 131.90,440.83 134.81,438.71 137.78,436.46 140.81,433.98 143.90,430.40" fill="none" stroke="#A6D854" stroke-width="1.4" stroke-linejoin="round" />
<text x="95.70" y="421.20" font-size="10.2" text-anchor="middle" fill="#1a1a1a" letter-spacing="-0.22">&gt;5 reads per site</text>
<text transform="translate(22.70,482.95) rotate(-90)" x="0" y="0" font-size="11.7" text-anchor="middle" fill="#1a1a1a">True positive rate</text>
<text x="101.30" y="568.00" font-size="11.7" text-anchor="middle" fill="#1a1a1a" >False positive rate</text>
<line x1="112.50" y1="477.80" x2="127.60" y2="477.80" stroke="#FFD92F" stroke-width="1.7"/>
<text x="133.30" y="480.81" font-size="8.6" text-anchor="start" fill="#1a1a1a" >ELIGOS (AUC = 0.510)</text>
<line x1="112.50" y1="488.20" x2="127.60" y2="488.20" stroke="#E5C494" stroke-width="1.7"/>
<text x="133.30" y="491.21" font-size="8.6" text-anchor="start" fill="#1a1a1a" >EpiNano (AUC = 0.626)</text>
<line x1="112.50" y1="498.60" x2="127.60" y2="498.60" stroke="#FC8D62" stroke-width="1.7"/>
<text x="133.30" y="501.61" font-size="8.6" text-anchor="start" fill="#1a1a1a" >MINES (AUC = 0.535)</text>
<line x1="112.50" y1="509.40" x2="127.60" y2="509.40" stroke="#66C2A5" stroke-width="1.7"/>
<text x="133.30" y="512.41" font-size="8.6" text-anchor="start" fill="#1a1a1a" >Nanom6A (AUC = 0.707)</text>
<line x1="112.50" y1="520.10" x2="127.60" y2="520.10" stroke="#E78AC3" stroke-width="1.7"/>
<text x="133.30" y="523.11" font-size="8.6" text-anchor="start" fill="#1a1a1a" >pum6a (AUC = 0.839)</text>
<line x1="112.50" y1="530.50" x2="127.60" y2="530.50" stroke="#A6D854" stroke-width="1.7"/>
<text x="133.30" y="533.51" font-size="8.6" text-anchor="start" fill="#1a1a1a" >Tombo (AUC = 0.649)</text>
<path d="M278.37,427.35 V542.96 H371.54" fill="none" stroke="#1a1a1a" stroke-width="1.3"/>
<line x1="275.47" y1="537.70" x2="278.37" y2="537.70" stroke="#1a1a1a" stroke-width="1.3"/>
<text x="270.17" y="541.70" font-size="9.8" text-anchor="end" fill="#333333" letter-spacing="-0.35">0.00</text>
<line x1="275.47" y1="511.43" x2="278.37" y2="511.43" stroke="#1a1a1a" stroke-width="1.3"/>
<text x="270.17" y="515.43" font-size="9.8" text-anchor="end" fill="#333333" letter-spacing="-0.35">0.25</text>
<line x1="275.47" y1="485.15" x2="278.37" y2="485.15" stroke="#1a1a1a" stroke-width="1.3"/>
<text x="270.17" y="489.15" font-size="9.8" text-anchor="end" fill="#333333" letter-spacing="-0.35">0.50</text>
<line x1="275.47" y1="458.88" x2="278.37" y2="458.88" stroke="#1a1a1a" stroke-width="1.3"/>
<text x="270.17" y="462.88" font-size="9.8" text-anchor="end" fill="#333333" letter-spacing="-0.35">0.75</text>
<line x1="275.47" y1="432.60" x2="278.37" y2="432.60" stroke="#1a1a1a" stroke-width="1.3"/>
<text x="270.17" y="436.60" font-size="9.8" text-anchor="end" fill="#333333" letter-spacing="-0.35">1.00</text>
<line x1="282.60" y1="542.96" x2="282.60" y2="545.86" stroke="#1a1a1a" stroke-width="1.3"/>
<text x="281.60" y="555.86" font-size="9.8" text-anchor="middle" fill="#333333" letter-spacing="-0.35">0.00</text>
<line x1="303.78" y1="542.96" x2="303.78" y2="545.86" stroke="#1a1a1a" stroke-width="1.3"/>
<text x="302.78" y="555.86" font-size="9.8" text-anchor="middle" fill="#333333" letter-spacing="-0.35">0.25</text>
<line x1="324.95" y1="542.96" x2="324.95" y2="545.86" stroke="#1a1a1a" stroke-width="1.3"/>
<text x="323.95" y="555.86" font-size="9.8" text-anchor="middle" fill="#333333" letter-spacing="-0.35">0.50</text>
<line x1="346.12" y1="542.96" x2="346.12" y2="545.86" stroke="#1a1a1a" stroke-width="1.3"/>
<text x="345.12" y="555.86" font-size="9.8" text-anchor="middle" fill="#333333" letter-spacing="-0.35">0.75</text>
<line x1="367.30" y1="542.96" x2="367.30" y2="545.86" stroke="#1a1a1a" stroke-width="1.3"/>
<text x="366.30" y="555.86" font-size="9.8" text-anchor="middle" fill="#333333" letter-spacing="-0.35">1.00</text>
<polyline points="282.60,536.33 282.68,527.30 282.98,527.30 283.33,527.32 283.77,527.56 284.34,527.69 285.07,527.20 285.99,527.51 286.34,527.16 286.66,527.53 286.97,526.79 287.28,527.01 287.59,527.28 287.91,527.42 288.26,526.71 288.64,526.61 289.06,527.02 289.54,527.16 290.07,526.38 290.67,526.40 291.35,526.71 292.12,526.97 292.99,526.40 293.96,526.18 295.05,526.73 295.39,526.66 295.73,526.24 296.08,526.34 296.44,526.19 296.81,526.44 297.19,526.77 297.58,526.16 297.97,526.28 298.37,526.23 298.77,526.68 299.19,526.70 299.61,526.14 300.04,526.18 300.48,526.87 300.92,526.89 301.37,526.85 301.82,526.41 302.29,526.75 302.75,526.83 303.23,526.53 303.71,526.16 304.19,526.57 304.69,526.91 305.18,526.86 305.69,526.73 306.20,526.71 306.71,526.82 307.23,526.93 307.75,526.72 308.28,526.82 308.81,526.84 309.35,526.95 309.89,526.55 310.44,526.39 310.99,526.74 311.54,526.95 312.10,526.69 312.67,526.99 313.23,526.95 313.80,526.85 314.37,526.31 314.95,527.03 315.53,526.68 316.11,527.08 316.70,526.80 317.29,526.28 317.88,526.40 318.47,526.72 319.06,526.90 319.66,526.91 320.26,526.68 320.86,526.78 321.47,526.93 322.07,527.13 322.68,526.51 323.29,526.33 323.90,526.37 324.51,526.76 325.12,526.85 325.56,527.10 326.01,526.37 326.47,526.84 326.93,527.15 327.41,526.40 327.89,526.67 328.39,526.60 328.89,526.78 329.39,527.06 329.91,526.57 330.43,526.62 330.95,526.82 331.49,526.47 332.03,527.12 332.57,526.47 333.12,526.79 333.68,527.19 334.24,526.59 334.80,526.57 335.37,526.62 335.95,526.94 336.52,526.81 337.10,526.82 337.68,526.73 338.27,526.99 338.86,527.25 339.45,527.07 340.04,527.06 340.64,527.33 341.23,527.23 341.83,526.82 342.43,526.96 343.02,527.24 343.62,526.70 344.22,527.38 344.82,527.42 345.42,526.88 346.01,526.69 346.61,526.73 347.20,526.92 347.79,527.08 348.38,527.25 348.97,526.69 349.56,526.93 350.14,527.33 350.72,526.76 351.29,526.88 351.86,526.70 352.43,527.20 353.00,527.16 353.55,527.05 354.11,527.29 354.66,527.30 355.20,526.78 355.74,526.87 356.27,526.83 356.79,526.95 357.31,527.04 357.82,527.56 358.33,526.91 358.83,527.44 359.32,527.08 359.80,527.07 360.27,527.46 360.73,527.03 361.19,527.57 361.64,527.55 362.07,527.01 362.50,527.38 362.92,527.24 363.32,527.13 363.72,527.22 364.11,526.96 364.48,527.00 364.84,527.47 365.19,527.61 365.53,527.29 365.86,526.91 366.17,527.50 366.48,527.04 366.76,527.33 367.04,526.91 367.30,527.67" fill="none" stroke="#FFD92F" stroke-width="1.4" stroke-linejoin="round" />
<polyline points="282.60,518.78 282.44,518.07 283.02,516.79 283.33,516.47 283.67,516.38 284.06,515.52 284.48,514.96 284.95,514.56 285.48,514.21 286.06,514.25 286.70,513.59 287.41,513.58 288.19,512.74 289.04,512.27 289.42,512.41 289.83,512.13 290.25,511.33 290.69,511.39 291.15,511.05 291.62,510.65 292.10,510.34 292.60,510.08 293.11,510.43 293.63,509.86 294.16,510.06 294.70,509.67 295.25,509.31 295.80,509.36 296.36,509.05 296.92,508.40 297.49,508.03 298.06,508.20 298.63,508.19 299.20,507.60 299.77,507.85 300.34,507.09 300.91,507.68 301.48,507.40 302.04,506.73 302.59,506.83 303.08,507.12 303.57,507.30 304.05,506.80 304.53,506.94 305.01,507.29 305.48,506.58 305.96,507.30 306.43,506.78 306.91,507.06 307.38,506.97 307.86,507.51 308.35,506.94 308.83,506.92 309.32,507.83 309.81,507.63 310.31,507.50 310.82,507.68 311.33,507.52 311.86,507.93 312.39,508.21 312.93,507.79 313.48,508.51 314.04,508.37 314.61,508.76 315.19,509.16 315.79,508.84 316.40,509.10 317.03,509.58 317.67,509.05 318.10,509.28 318.53,509.30 318.97,509.63 319.42,509.64 319.87,510.06 320.32,509.98 320.78,510.00 321.25,510.22 321.72,510.35 322.19,510.56 322.67,510.88 323.15,511.00 323.64,511.08 324.13,510.63 324.62,511.46 325.12,511.47 325.62,511.83 326.12,511.76 326.63,511.61 327.15,512.12 327.66,511.68 328.18,512.32 328.70,512.69 329.23,512.23 329.75,512.84 330.28,512.87 330.82,512.71 331.35,513.30 331.89,513.04 332.43,513.81 332.97,513.63 333.52,513.97 334.07,513.53 334.62,514.16 335.17,513.93 335.72,514.13 336.28,514.75 336.83,514.25 337.39,514.52 337.95,514.96 338.51,515.34 339.07,514.71 339.63,515.18 340.20,515.70 340.67,515.52 341.16,515.74 341.66,515.81 342.17,515.54 342.69,515.69 343.21,515.80 343.75,515.65 344.30,516.33 344.86,515.94 345.42,516.22 345.99,516.36 346.56,516.10 347.14,516.32 347.72,516.65 348.31,517.02 348.90,516.48 349.50,516.61 350.09,516.63 350.69,516.64 351.29,516.73 351.89,517.20 352.49,517.17 353.08,517.19 353.68,517.29 354.27,517.25 354.86,517.88 355.45,517.59 356.03,517.76 356.61,517.86 357.18,517.99 357.74,518.15 358.30,517.62 358.85,517.98 359.39,517.70 359.93,518.25 360.45,518.08 360.97,518.20 361.47,518.29 361.96,518.40 362.44,518.90 362.91,518.70 363.36,518.33 363.80,518.38 364.23,519.04 364.64,519.07 365.03,518.79 365.41,518.54 365.77,519.16 366.12,519.15 366.44,518.72 366.75,518.89 367.03,519.45 367.30,519.31" fill="none" stroke="#E5C494" stroke-width="1.4" stroke-linejoin="round" />
<polyline points="282.60,517.73 282.63,516.57 283.02,515.31 283.11,515.00 283.01,514.72 283.16,514.53 284.00,514.81 285.99,514.43 286.28,514.94 286.57,514.59 286.87,514.98 287.18,514.95 287.49,515.04 287.81,514.69 288.13,514.72 288.46,515.24 288.80,514.95 289.14,515.09 289.49,515.03 289.85,515.34 290.22,515.23 290.59,514.87 290.98,515.07 291.38,515.17 291.78,515.58 292.19,515.39 292.62,515.91 293.06,515.35 293.50,515.87 293.96,515.95 294.43,516.13 294.91,515.90 295.41,515.60 295.91,516.44 296.43,516.06 296.97,516.08 297.52,516.49 298.08,516.30 298.65,516.82 299.25,516.73 299.85,516.36 300.47,516.70 301.11,516.31 301.77,516.59 302.44,517.17 303.12,517.27 303.83,517.32 304.55,516.76 305.29,517.33 306.05,517.62 306.83,516.89 307.62,517.00 308.44,517.30 309.27,517.30 310.13,517.85 310.50,517.73 310.87,517.87 311.26,517.99 311.66,517.87 312.06,517.78 312.48,517.53 312.90,517.53 313.33,517.70 313.77,517.93 314.22,517.92 314.67,517.95 315.14,517.97 315.61,517.87 316.08,517.94 316.57,517.85 317.06,517.67 317.56,518.25 318.07,518.28 318.58,518.22 319.10,517.97 319.62,518.31 320.15,517.78 320.68,517.87 321.23,517.70 321.77,518.06 322.32,518.21 322.88,517.84 323.44,517.82 324.00,518.49 324.57,518.39 325.14,518.69 325.72,518.55 326.30,518.09 326.89,518.37 327.47,518.24 328.06,518.35 328.66,518.54 329.25,518.32 329.85,518.38 330.45,518.86 331.06,518.17 331.66,518.76 332.27,518.14 332.87,518.46 333.48,518.78 334.10,518.75 334.71,518.73 335.32,518.29 335.93,518.72 336.55,518.87 337.16,519.06 337.77,518.53 338.39,519.20 339.00,519.16 339.61,519.05 340.22,518.96 340.83,518.70 341.44,518.85 342.05,519.09 342.66,518.59 343.26,518.81 343.87,519.20 344.47,518.75 345.06,518.74 345.66,518.94 346.25,518.83 346.84,519.10 347.43,519.32 348.02,518.91 348.60,518.87 349.17,519.59 349.75,519.30 350.32,519.18 350.88,518.94 351.44,518.91 352.00,519.28 352.55,519.49 353.09,519.24 353.63,519.48 354.17,519.09 354.70,519.69 355.22,519.43 355.74,519.52 356.25,519.52 356.76,519.04 357.26,519.17 357.75,519.43 358.23,519.36 358.71,519.43 359.18,519.15 359.65,519.82 360.10,519.19 360.55,519.74 360.99,519.35 361.42,519.26 361.84,519.84 362.26,519.58 362.66,519.86 363.06,520.02 363.45,519.56 363.82,519.45 364.19,519.74 364.55,519.46 364.90,519.89 365.24,520.04 365.56,519.66 365.88,520.10 366.19,520.06 366.48,520.17 366.77,519.39 367.04,519.75 367.30,519.92" fill="none" stroke="#FC8D62" stroke-width="1.4" stroke-linejoin="round" />
<polyline points="282.60,458.14 282.68,477.69 282.90,476.34 283.33,474.58 284.55,473.51 284.89,473.88 285.28,474.34 285.71,474.71 286.17,474.87 286.66,475.07 287.19,475.48 287.73,475.27 288.30,476.23 288.88,476.21 289.47,476.92 290.06,477.32 290.66,478.03 291.26,478.42 291.85,479.03 292.42,478.80 292.98,479.32 293.53,479.87 294.05,479.88 294.55,480.92 295.04,480.80 295.53,480.96 296.00,481.60 296.48,482.30 296.95,482.79 297.43,482.48 297.92,483.57 298.42,483.39 298.94,484.43 299.48,484.18 300.04,484.56 300.63,485.07 301.25,485.37 301.90,486.15 302.59,486.64 303.01,486.92 303.45,487.48 303.90,487.41 304.36,488.18 304.83,488.46 305.32,489.04 305.81,488.92 306.32,489.31 306.83,489.96 307.35,490.07 307.87,490.54 308.40,490.97 308.94,490.86 309.48,491.68 310.03,492.17 310.58,492.30 311.13,492.76 311.68,493.49 312.24,493.82 312.79,493.77 313.35,494.58 313.90,494.95 314.45,494.72 315.00,495.72 315.54,495.84 316.08,496.16 316.62,496.85 317.14,497.12 317.67,497.25 318.18,497.52 318.70,497.78 319.22,498.47 319.74,498.86 320.25,499.01 320.77,498.99 321.29,499.25 321.81,500.00 322.32,500.03 322.84,500.80 323.35,500.84 323.87,501.22 324.39,501.61 324.90,501.77 325.42,501.92 325.94,502.49 326.45,502.45 326.97,502.88 327.49,503.38 328.00,503.72 328.52,504.10 329.03,504.20 329.55,504.28 330.07,505.16 330.59,505.24 331.10,505.40 331.62,506.07 332.14,505.81 332.66,506.43 333.17,506.45 333.68,507.15 334.19,507.09 334.70,507.70 335.20,507.61 335.70,508.22 336.19,508.31 336.69,508.21 337.18,508.46 337.68,509.44 338.17,509.48 338.66,509.36 339.16,509.58 339.66,510.28 340.16,510.47 340.66,510.95 341.17,511.37 341.68,511.34 342.20,511.28 342.72,511.62 343.25,511.69 343.78,512.38 344.32,512.07 344.87,512.74 345.42,513.13 345.99,512.83 346.56,513.35 347.14,513.94 347.73,513.73 348.20,513.82 348.68,514.41 349.18,514.66 349.70,514.85 350.23,514.52 350.78,515.17 351.33,514.74 351.90,514.82 352.48,515.59 353.06,515.55 353.65,515.94 354.25,515.64 354.85,515.73 355.45,516.35 356.06,515.90 356.66,516.00 357.26,516.59 357.86,516.53 358.46,517.07 359.05,517.04 359.64,517.06 360.21,517.06 360.78,516.81 361.34,516.98 361.88,517.50 362.41,517.16 362.93,518.03 363.43,517.92 363.92,517.89 364.39,517.52 364.83,517.68 365.26,517.93 365.66,518.05 366.04,518.47 366.40,518.43 366.73,518.13 367.03,518.15 367.30,518.98" fill="none" stroke="#66C2A5" stroke-width="1.4" stroke-linejoin="round" />
<polyline points="282.60,536.33 282.68,503.23 282.90,503.28 283.33,503.34 284.55,503.49 284.89,503.46 285.28,502.85 285.71,503.09 286.17,502.90 286.66,502.48 287.19,502.89 287.73,502.90 288.30,502.54 288.88,502.43 289.47,502.29 290.06,502.36 290.66,502.46 291.26,502.30 291.85,502.29 292.42,502.19 292.98,501.90 293.53,501.53 294.05,501.77 294.55,502.13 295.04,501.63 295.53,501.71 296.00,501.50 296.48,502.15 296.95,502.26 297.43,501.75 297.92,501.70 298.42,502.12 298.94,501.84 299.48,502.10 300.04,502.17 300.63,502.22 301.25,502.72 301.90,502.82 302.59,502.48 303.01,502.55 303.43,502.70 303.86,502.67 304.30,503.21 304.74,502.87 305.19,503.04 305.65,503.56 306.11,503.20 306.58,503.20 307.05,503.94 307.54,503.93 308.03,503.82 308.52,503.71 309.03,504.12 309.54,504.08 310.07,504.31 310.60,504.29 311.13,504.51 311.68,504.58 312.24,504.95 312.80,504.61 313.38,504.91 313.96,505.08 314.55,505.56 315.15,505.61 315.77,505.56 316.39,505.85 317.02,505.81 317.67,506.11 318.10,506.59 318.53,506.40 318.97,506.93 319.42,506.99 319.87,507.30 320.32,507.49 320.78,506.97 321.25,507.16 321.72,507.37 322.19,507.88 322.67,507.89 323.15,508.43 323.64,508.01 324.13,508.24 324.62,508.63 325.12,509.13 325.62,509.06 326.12,509.61 326.63,509.30 327.15,509.68 327.66,509.87 328.18,510.29 328.70,510.07 329.23,510.34 329.75,510.81 330.28,511.12 330.82,510.79 331.35,511.00 331.89,511.38 332.43,511.05 332.97,511.83 333.52,511.68 334.07,511.66 334.62,512.00 335.17,512.46 335.72,512.27 336.28,513.02 336.83,512.50 337.39,513.21 337.95,513.52 338.51,513.44 339.07,513.46 339.63,513.96 340.20,513.77 340.67,513.56 341.16,513.80 341.66,514.50 342.17,514.23 342.69,514.84 343.21,514.95 343.75,514.97 344.30,514.52 344.86,515.15 345.42,515.30 345.99,514.80 346.56,515.02 347.14,515.42 347.72,515.46 348.31,515.82 348.90,515.51 349.50,515.77 350.09,516.08 350.69,516.04 351.29,516.12 351.89,516.65 352.49,516.12 353.08,516.50 353.68,516.47 354.27,516.43 354.86,517.09 355.45,517.25 356.03,516.79 356.61,517.27 357.18,517.19 357.74,517.11 358.30,517.22 358.85,517.61 359.39,517.65 359.93,517.77 360.45,518.23 360.97,517.59 361.47,517.74 361.96,518.31 362.44,518.52 362.91,518.68 363.36,518.34 363.80,518.06 364.23,518.62 364.64,518.63 365.03,518.88 365.41,518.46 365.77,518.92 366.12,518.95 366.44,519.28 366.75,519.25 367.03,519.27 367.30,518.96" fill="none" stroke="#A6D854" stroke-width="1.4" stroke-linejoin="round" />
<polyline points="282.60,432.60 282.68,440.06 282.91,439.25 283.79,438.82 284.13,438.03 284.51,438.01 284.94,438.18 285.40,437.90 285.91,438.30 286.46,438.32 287.05,438.61 287.68,438.83 288.34,438.71 289.04,438.92 289.47,438.75 289.93,438.89 290.41,439.49 290.91,439.47 291.43,439.30 291.96,439.44 292.50,440.06 293.06,440.01 293.62,440.57 294.18,440.66 294.75,441.27 295.32,441.38 295.89,441.60 296.46,442.31 297.01,442.52 297.56,442.82 298.10,443.15 298.63,443.04 299.16,443.38 299.69,444.15 300.22,444.22 300.74,444.61 301.27,445.23 301.80,445.47 302.33,446.58 302.85,446.34 303.38,447.12 303.91,447.25 304.43,448.08 304.96,448.35 305.49,449.42 306.02,449.40 306.55,450.27 307.08,450.46 307.61,451.21 308.14,451.85 308.67,452.37 309.21,452.33 309.74,453.49 310.27,453.63 310.81,454.22 311.34,454.99 311.88,455.70 312.41,455.98 312.95,456.78 313.48,457.60 314.01,457.70 314.55,458.82 315.08,459.35 315.61,459.38 316.14,460.17 316.66,460.74 317.16,461.80 317.65,462.12 318.13,462.73 318.60,463.09 319.07,464.14 319.54,464.23 320.01,465.59 320.50,465.52 320.99,466.16 321.50,467.19 322.03,467.84 322.59,468.24 323.17,469.21 323.78,470.44 324.43,471.13 325.12,471.31 325.54,472.32 325.98,472.42 326.43,473.32 326.89,473.66 327.36,474.62 327.84,474.93 328.33,475.49 328.84,476.27 329.35,477.20 329.87,477.41 330.39,478.27 330.92,478.63 331.46,479.78 332.00,479.98 332.55,480.44 333.10,481.62 333.65,481.73 334.20,482.96 334.76,483.13 335.31,484.01 335.87,484.80 336.42,484.94 336.97,486.08 337.52,486.32 338.07,486.97 338.61,487.53 339.14,488.30 339.67,488.78 340.20,489.38 340.72,490.13 341.24,490.87 341.77,491.80 342.30,491.71 342.83,492.28 343.37,493.51 343.90,494.15 344.44,494.62 344.98,495.02 345.51,495.77 346.05,496.24 346.59,496.96 347.12,497.62 347.66,498.26 348.19,498.24 348.72,499.01 349.25,499.39 349.78,500.53 350.30,501.03 350.82,501.81 351.33,502.03 351.85,502.46 352.35,502.89 352.85,503.29 353.35,503.96 353.84,505.06 354.32,505.69 354.80,506.02 355.27,506.50 355.87,506.73 356.47,507.76 357.08,507.93 357.70,508.94 358.31,509.58 358.93,510.10 359.55,510.64 360.16,511.61 360.76,511.56 361.36,512.60 361.94,513.05 362.51,513.58 363.07,513.79 363.61,514.56 364.13,515.43 364.62,515.45 365.10,515.86 365.54,516.72 365.96,516.93 366.35,517.23 366.70,517.60 367.02,517.60 367.30,518.48" fill="none" stroke="#E78AC3" stroke-width="1.4" stroke-linejoin="round" />
<text x="322.70" y="420.20" font-size="10.2" text-anchor="middle" fill="#1a1a1a" letter-spacing="-0.22">&gt;5 reads per site</text>
<text transform="translate(245.50,485.15) rotate(-90)" x="0" y="0" font-size="11.7" text-anchor="middle" fill="#1a1a1a">Precision</text>
<text x="324.95" y="570.50" font-size="11.7" text-anchor="middle" fill="#1a1a1a" >Recall</text>
<line x1="343.60" y1="430.40" x2="358.70" y2="430.40" stroke="#FFD92F" stroke-width="1.7"/>
<text x="364.40" y="433.41" font-size="8.6" text-anchor="start" fill="#1a1a1a" >ELIGOS (AUC = 0.100)</text>
<line x1="343.60" y1="440.90" x2="358.70" y2="440.90" stroke="#E5C494" stroke-width="1.7"/>
<text x="364.40" y="443.91" font-size="8.6" text-anchor="start" fill="#1a1a1a" >EpiNano (AUC = 0.239)</text>
<line x1="343.60" y1="451.30" x2="358.70" y2="451.30" stroke="#FC8D62" stroke-width="1.7"/>
<text x="364.40" y="454.31" font-size="8.6" text-anchor="start" fill="#1a1a1a" >MINES (AUC = 0.187)</text>
<line x1="343.60" y1="461.70" x2="358.70" y2="461.70" stroke="#66C2A5" stroke-width="1.7"/>
<text x="364.40" y="464.71" font-size="8.6" text-anchor="start" fill="#1a1a1a" >Nanom6A (AUC = 0.366)</text>
<line x1="343.60" y1="472.40" x2="358.70" y2="472.40" stroke="#E78AC3" stroke-width="1.7"/>
<text x="364.40" y="475.41" font-size="8.6" text-anchor="start" fill="#1a1a1a" >pum6a (AUC = 0.619)</text>
<line x1="343.60" y1="483.20" x2="358.70" y2="483.20" stroke="#A6D854" stroke-width="1.7"/>
<text x="364.40" y="486.21" font-size="8.6" text-anchor="start" fill="#1a1a1a" >Tombo (AUC = 0.271)</text>
<path d="M510.14,425.55 V541.15 H603.86" fill="none" stroke="#1a1a1a" stroke-width="1.3"/>
<line x1="507.24" y1="535.90" x2="510.14" y2="535.90" stroke="#1a1a1a" stroke-width="1.3"/>
<text x="501.94" y="539.90" font-size="9.8" text-anchor="end" fill="#333333" letter-spacing="-0.35">0.00</text>
<line x1="507.24" y1="509.62" x2="510.14" y2="509.62" stroke="#1a1a1a" stroke-width="1.3"/>
<text x="501.94" y="513.62" font-size="9.8" text-anchor="end" fill="#333333" letter-spacing="-0.35">0.25</text>
<line x1="507.24" y1="483.35" x2="510.14" y2="483.35" stroke="#1a1a1a" stroke-width="1.3"/>
<text x="501.94" y="487.35" font-size="9.8" text-anchor="end" fill="#333333" letter-spacing="-0.35">0.50</text>
<line x1="507.24" y1="457.07" x2="510.14" y2="457.07" stroke="#1a1a1a" stroke-width="1.3"/>
<text x="501.94" y="461.07" font-size="9.8" text-anchor="end" fill="#333333" letter-spacing="-0.35">0.75</text>
<line x1="507.24" y1="430.80" x2="510.14" y2="430.80" stroke="#1a1a1a" stroke-width="1.3"/>
<text x="501.94" y="434.80" font-size="9.8" text-anchor="end" fill="#333333" letter-spacing="-0.35">1.00</text>
<line x1="514.40" y1="541.15" x2="514.40" y2="544.05" stroke="#1a1a1a" stroke-width="1.3"/>
<text x="513.40" y="554.05" font-size="9.8" text-anchor="middle" fill="#333333" letter-spacing="-0.35">0.00</text>
<line x1="535.70" y1="541.15" x2="535.70" y2="544.05" stroke="#1a1a1a" stroke-width="1.3"/>
<text x="534.70" y="554.05" font-size="9.8" text-anchor="middle" fill="#333333" letter-spacing="-0.35">0.25</text>
<line x1="557.00" y1="541.15" x2="557.00" y2="544.05" stroke="#1a1a1a" stroke-width="1.3"/>
<text x="556.00" y="554.05" font-size="9.8" text-anchor="middle" fill="#333333" letter-spacing="-0.35">0.50</text>
<line x1="578.30" y1="541.15" x2="578.30" y2="544.05" stroke="#1a1a1a" stroke-width="1.3"/>
<text x="577.30" y="554.05" font-size="9.8" text-anchor="middle" fill="#333333" letter-spacing="-0.35">0.75</text>
<line x1="599.60" y1="541.15" x2="599.60" y2="544.05" stroke="#1a1a1a" stroke-width="1.3"/>
<text x="598.60" y="554.05" font-size="9.8" text-anchor="middle" fill="#333333" letter-spacing="-0.35">1.00</text>
<polyline points="514.40,535.90 516.29,533.28 518.19,530.02 520.08,528.31 521.97,525.33 523.87,522.32 525.76,520.29 527.65,517.53 529.55,515.63 531.44,513.18 533.33,509.66 535.23,509.04 537.12,505.27 539.01,504.07 540.91,500.20 542.80,498.83 544.69,496.47 546.59,494.50 548.48,491.75 550.37,489.47 552.27,486.04 554.16,483.61 556.05,481.92 557.95,480.00 559.84,476.96 561.73,476.15 563.63,473.73 565.52,470.99 567.41,467.68 569.31,467.08 571.20,464.92 573.09,461.11 574.99,459.95 576.88,456.76 578.77,455.21 580.67,452.08 582.56,450.43 584.45,447.94 586.35,445.86 588.24,443.24 590.13,442.60 592.03,439.76 593.92,438.32 595.81,434.51 597.71,433.75 599.60,430.80" fill="none" stroke="#FFD92F" stroke-width="1.4" stroke-linejoin="round" />
<polyline points="514.40,535.90 514.41,535.03 514.45,533.96 514.52,532.82 514.62,531.61 514.76,530.36 514.94,529.08 515.15,527.77 515.41,526.43 515.71,525.07 516.05,523.68 516.44,522.28 516.87,520.85 517.35,519.41 517.87,517.96 518.44,516.49 519.05,515.00 519.71,513.50 520.43,511.99 521.19,510.46 522.00,508.92 522.86,507.37 523.77,505.81 524.73,504.23 525.75,502.65 526.82,501.05 527.93,499.44 529.11,497.82 530.33,496.19 531.61,494.54 532.94,492.89 534.33,491.22 535.77,489.54 537.27,487.85 538.82,486.15 540.43,484.43 542.09,482.70 543.81,480.96 545.59,479.21 547.43,477.44 549.32,475.65 551.27,473.85 553.27,472.03 555.34,470.20 557.46,468.34 559.65,466.47 561.89,464.58 564.19,462.66 566.55,460.71 568.97,458.74 571.45,456.73 573.99,454.69 576.59,452.61 579.25,450.48 581.97,448.29 584.76,446.02 587.60,443.66 590.51,441.18 593.48,438.50 596.51,435.46 599.60,430.80" fill="none" stroke="#E5C494" stroke-width="1.4" stroke-linejoin="round" />
<polyline points="514.40,535.90 514.41,529.25 514.45,524.21 514.52,519.81 514.62,515.83 514.76,512.16 514.94,508.73 515.15,505.51 515.41,502.47 515.71,499.57 516.05,496.81 516.44,494.18 516.87,491.65 517.35,489.22 517.87,486.88 518.44,484.63 519.05,482.46 519.71,480.36 520.43,478.33 521.19,476.37 522.00,474.47 522.86,472.63 523.77,470.85 524.73,469.11 525.75,467.44 526.82,465.80 527.93,464.22 529.11,462.68 530.33,461.19 531.61,459.74 532.94,458.32 534.33,456.95 535.77,455.62 537.27,454.32 538.82,453.06 540.43,451.83 542.09,450.64 543.81,449.48 545.59,448.35 547.43,447.26 549.32,446.19 551.27,445.16 553.27,444.16 555.34,443.18 557.46,442.24 559.65,441.32 561.89,440.43 564.19,439.57 566.55,438.73 568.97,437.92 571.45,437.14 573.99,436.39 576.59,435.66 579.25,434.96 581.97,434.29 584.76,433.64 587.60,433.03 590.51,432.43 593.48,431.87 596.51,431.34 599.60,430.80" fill="none" stroke="#8DA0CB" stroke-width="1.4" stroke-linejoin="round" />
<polyline points="514.40,535.90 514.41,535.88 514.45,535.81 514.52,535.69 514.62,535.52 514.76,535.28 514.94,534.99 515.15,534.64 515.41,534.23 515.71,533.76 516.05,533.23 516.44,532.63 516.87,531.97 517.35,531.25 517.87,530.47 518.44,529.63 519.05,528.72 519.71,527.75 520.43,526.71 521.19,525.61 522.00,524.45 522.86,523.22 523.77,521.94 524.73,520.58 525.75,519.17 526.82,517.69 527.93,516.15 529.11,514.55 530.33,512.88 531.61,511.15 532.94,509.36 534.33,507.51 535.77,505.60 537.27,503.62 538.82,501.59 540.43,499.49 542.09,497.34 543.81,495.13 545.59,492.85 547.43,490.52 549.32,488.14 551.27,485.69 553.27,483.19 555.34,480.64 557.46,478.03 559.65,475.37 561.89,472.66 564.19,469.89 566.55,467.08 568.97,464.22 571.45,461.32 573.99,458.37 576.59,455.38 579.25,452.35 581.97,449.29 584.76,446.21 587.60,443.10 590.51,439.97 593.48,436.85 596.51,433.76 599.60,430.80" fill="none" stroke="#FC8D62" stroke-width="1.4" stroke-linejoin="round" />
<polyline points="514.40,535.90 514.41,533.79 514.45,531.63 514.52,529.50 514.62,527.38 514.76,525.29 514.94,523.22 515.15,521.17 515.41,519.14 515.71,517.13 516.05,515.14 516.44,513.17 516.87,511.21 517.35,509.28 517.87,507.35 518.44,505.45 519.05,503.56 519.71,501.69 520.43,499.83 521.19,497.98 522.00,496.15 522.86,494.34 523.77,492.54 524.73,490.75 525.75,488.97 526.82,487.21 527.93,485.46 529.11,483.72 530.33,482.00 531.61,480.29 532.94,478.58 534.33,476.90 535.77,475.22 537.27,473.55 538.82,471.90 540.43,470.26 542.09,468.62 543.81,467.00 545.59,465.39 547.43,463.79 549.32,462.20 551.27,460.62 553.27,459.04 555.34,457.48 557.46,455.93 559.65,454.38 561.89,452.85 564.19,451.32 566.55,449.80 568.97,448.28 571.45,446.77 573.99,445.26 576.59,443.76 579.25,442.26 581.97,440.76 584.76,439.25 587.60,437.73 590.51,436.19 593.48,434.61 596.51,432.94 599.60,430.80" fill="none" stroke="#66C2A5" stroke-width="1.4" stroke-linejoin="round" />
<polyline points="514.40,535.90 514.41,528.84 514.45,523.59 514.52,519.04 514.62,514.94 514.76,511.18 514.94,507.68 515.15,504.40 515.41,501.31 515.71,498.38 516.05,495.59 516.44,492.93 516.87,490.38 517.35,487.94 517.87,485.60 518.44,483.34 519.05,481.17 519.71,479.08 520.43,477.06 521.19,475.10 522.00,473.22 522.86,471.39 523.77,469.62 524.73,467.91 525.75,466.25 526.82,464.64 527.93,463.08 529.11,461.56 530.33,460.10 531.61,458.67 532.94,457.28 534.33,455.94 535.77,454.63 537.27,453.37 538.82,452.14 540.43,450.94 542.09,449.78 543.81,448.65 545.59,447.56 547.43,446.50 549.32,445.47 551.27,444.47 553.27,443.50 555.34,442.56 557.46,441.64 559.65,440.76 561.89,439.91 564.19,439.08 566.55,438.28 568.97,437.51 571.45,436.77 573.99,436.05 576.59,435.36 579.25,434.69 581.97,434.06 584.76,433.45 587.60,432.87 590.51,432.31 593.48,431.79 596.51,431.29 599.60,430.80" fill="none" stroke="#E78AC3" stroke-width="1.4" stroke-linejoin="round" />
<polyline points="514.40,535.90 514.41,534.68 514.45,533.28 514.52,531.82 514.62,530.32 514.76,528.79 514.94,527.24 515.15,525.67 515.41,524.09 515.71,522.50 516.05,520.89 516.44,519.28 516.87,517.66 517.35,516.03 517.87,514.40 518.44,512.76 519.05,511.11 519.71,509.46 520.43,507.81 521.19,506.15 522.00,504.49 522.86,502.82 523.77,501.15 524.73,499.48 525.75,497.80 526.82,496.13 527.93,494.44 529.11,492.76 530.33,491.07 531.61,489.38 532.94,487.68 534.33,485.98 535.77,484.28 537.27,482.58 538.82,480.87 540.43,479.16 542.09,477.44 543.81,475.72 545.59,474.00 547.43,472.27 549.32,470.53 551.27,468.79 553.27,467.04 555.34,465.29 557.46,463.53 559.65,461.76 561.89,459.98 564.19,458.19 566.55,456.39 568.97,454.57 571.45,452.74 573.99,450.89 576.59,449.02 579.25,447.12 581.97,445.18 584.76,443.21 587.60,441.17 590.51,439.06 593.48,436.82 596.51,434.35 599.60,430.80" fill="none" stroke="#A6D854" stroke-width="1.4" stroke-linejoin="round" />
<text x="555.70" y="422.40" font-size="10.2" text-anchor="middle" fill="#1a1a1a" letter-spacing="-0.22">&gt;20 reads per site</text>
<text transform="translate(478.90,483.35) rotate(-90)" x="0" y="0" font-size="11.7" text-anchor="middle" fill="#1a1a1a">True positive rate</text>
<text x="557.00" y="568.00" font-size="11.7" text-anchor="middle" fill="#1a1a1a" >False positive rate</text>
<line x1="567.70" y1="471.20" x2="582.10" y2="471.20" stroke="#FFD92F" stroke-width="1.7"/>
<text x="589.60" y="474.21" font-size="8.6" text-anchor="start" fill="#1a1a1a" >ELIGOS (AUC = 0.526)</text>
<line x1="567.70" y1="481.80" x2="582.10" y2="481.80" stroke="#E5C494" stroke-width="1.7"/>
<text x="589.60" y="484.81" font-size="8.6" text-anchor="start" fill="#1a1a1a" >EpiNano (AUC = 0.612)</text>
<line x1="567.70" y1="492.10" x2="582.10" y2="492.10" stroke="#8DA0CB" stroke-width="1.7"/>
<text x="589.60" y="495.11" font-size="8.6" text-anchor="start" fill="#1a1a1a" >m6anet (AUC = 0.836)</text>
<line x1="567.70" y1="502.80" x2="582.10" y2="502.80" stroke="#FC8D62" stroke-width="1.7"/>
<text x="589.60" y="505.81" font-size="8.6" text-anchor="start" fill="#1a1a1a" >MINES (AUC = 0.532)</text>
<line x1="567.70" y1="513.40" x2="582.10" y2="513.40" stroke="#66C2A5" stroke-width="1.7"/>
<text x="589.60" y="516.41" font-size="8.6" text-anchor="start" fill="#1a1a1a" >Nanom6A (AUC = 0.712)</text>
<line x1="567.70" y1="524.40" x2="582.10" y2="524.40" stroke="#E78AC3" stroke-width="1.7"/>
<text x="589.60" y="527.41" font-size="8.6" text-anchor="start" fill="#1a1a1a" >pum6a (AUC = 0.842)</text>
<line x1="567.70" y1="534.70" x2="582.10" y2="534.70" stroke="#A6D854" stroke-width="1.7"/>
<text x="589.60" y="537.71" font-size="8.6" text-anchor="start" fill="#1a1a1a" >Tombo (AUC = 0.650)</text>
<path d="M54.86,637.45 V753.05 H148.14" fill="none" stroke="#1a1a1a" stroke-width="1.3"/>
<line x1="51.96" y1="747.80" x2="54.86" y2="747.80" stroke="#1a1a1a" stroke-width="1.3"/>
<text x="46.66" y="751.80" font-size="9.8" text-anchor="end" fill="#333333" letter-spacing="-0.35">0.00</text>
<line x1="51.96" y1="721.52" x2="54.86" y2="721.52" stroke="#1a1a1a" stroke-width="1.3"/>
<text x="46.66" y="725.52" font-size="9.8" text-anchor="end" fill="#333333" letter-spacing="-0.35">0.25</text>
<line x1="51.96" y1="695.25" x2="54.86" y2="695.25" stroke="#1a1a1a" stroke-width="1.3"/>
<text x="46.66" y="699.25" font-size="9.8" text-anchor="end" fill="#333333" letter-spacing="-0.35">0.50</text>
<line x1="51.96" y1="668.98" x2="54.86" y2="668.98" stroke="#1a1a1a" stroke-width="1.3"/>
<text x="46.66" y="672.98" font-size="9.8" text-anchor="end" fill="#333333" letter-spacing="-0.35">0.75</text>
<line x1="51.96" y1="642.70" x2="54.86" y2="642.70" stroke="#1a1a1a" stroke-width="1.3"/>
<text x="46.66" y="646.70" font-size="9.8" text-anchor="end" fill="#333333" letter-spacing="-0.35">1.00</text>
<line x1="59.10" y1="753.05" x2="59.10" y2="755.95" stroke="#1a1a1a" stroke-width="1.3"/>
<text x="58.10" y="765.95" font-size="9.8" text-anchor="middle" fill="#333333" letter-spacing="-0.35">0.00</text>
<line x1="80.30" y1="753.05" x2="80.30" y2="755.95" stroke="#1a1a1a" stroke-width="1.3"/>
<text x="79.30" y="765.95" font-size="9.8" text-anchor="middle" fill="#333333" letter-spacing="-0.35">0.25</text>
<line x1="101.50" y1="753.05" x2="101.50" y2="755.95" stroke="#1a1a1a" stroke-width="1.3"/>
<text x="100.50" y="765.95" font-size="9.8" text-anchor="middle" fill="#333333" letter-spacing="-0.35">0.50</text>
<line x1="122.70" y1="753.05" x2="122.70" y2="755.95" stroke="#1a1a1a" stroke-width="1.3"/>
<text x="121.70" y="765.95" font-size="9.8" text-anchor="middle" fill="#333333" letter-spacing="-0.35">0.75</text>
<line x1="143.90" y1="753.05" x2="143.90" y2="755.95" stroke="#1a1a1a" stroke-width="1.3"/>
<text x="142.90" y="765.95" font-size="9.8" text-anchor="middle" fill="#333333" letter-spacing="-0.35">1.00</text>
<polyline points="59.10,747.80 59.27,740.44 59.37,740.63 60.03,740.07 60.42,739.80 60.89,739.49 61.44,739.26 62.05,738.69 62.68,738.58 63.32,737.83 63.94,737.29 64.53,737.76 65.03,737.08 65.44,737.26 65.81,737.95 66.21,738.19 66.67,737.79 67.26,738.41 68.03,738.17 69.02,738.83 69.37,738.53 69.72,738.60 70.08,738.78 70.44,738.28 70.81,738.15 71.19,738.61 71.58,738.40 71.99,738.01 72.40,738.46 72.83,737.81 73.27,737.83 73.73,737.77 74.21,737.90 74.70,737.52 75.22,737.13 75.75,737.53 76.31,737.65 76.90,736.92 77.51,737.39 78.14,737.41 78.81,736.77 79.50,736.80 80.22,736.58 80.98,736.52 81.77,736.90 82.59,736.75 82.96,737.06 83.35,736.57 83.74,736.65 84.14,736.43 84.55,736.35 84.97,736.69 85.39,737.10 85.83,736.34 86.27,736.82 86.71,736.67 87.17,736.57 87.63,736.58 88.09,736.94 88.57,736.92 89.05,736.31 89.53,736.38 90.02,736.66 90.52,736.68 91.02,736.94 91.53,736.76 92.04,736.87 92.55,736.71 93.07,736.56 93.60,736.59 94.13,736.88 94.66,737.15 95.19,736.62 95.73,736.44 96.27,736.50 96.81,736.83 97.36,736.54 97.90,736.88 98.45,737.34 99.00,736.83 99.56,736.77 100.11,737.11 100.67,736.80 101.22,737.12 101.78,737.36 102.34,736.75 102.89,736.89 103.45,737.43 104.01,737.28 104.56,737.16 105.12,736.97 105.67,737.27 106.23,736.78 106.78,737.25 107.33,737.38 107.88,737.09 108.42,737.57 108.97,736.79 109.51,737.09 110.05,737.65 110.58,737.09 111.12,736.98 111.65,737.46 112.17,737.49 112.69,737.31 113.20,737.54 113.72,737.06 114.24,736.93 114.77,737.01 115.31,737.31 115.86,737.44 116.41,737.31 116.96,737.14 117.53,737.64 118.10,737.12 118.67,737.70 119.25,737.07 119.83,737.81 120.41,737.05 121.00,737.32 121.59,737.51 122.18,737.77 122.78,737.72 123.37,737.76 123.97,737.52 124.57,737.66 125.16,737.83 125.76,737.50 126.36,737.73 126.95,737.53 127.54,737.91 128.13,737.31 128.72,737.36 129.31,737.74 129.89,737.60 130.47,737.58 131.04,737.84 131.61,737.63 132.17,737.42 132.73,737.50 133.28,738.10 133.83,737.75 134.37,738.14 134.90,738.13 135.42,737.78 135.94,737.49 136.45,737.77 136.95,738.02 137.43,737.52 137.91,738.00 138.38,738.25 138.84,738.10 139.29,737.97 139.72,737.52 140.15,737.80 140.56,737.66 140.96,737.93 141.34,737.63 141.72,737.90 142.07,737.96 142.42,738.10 142.74,738.40 143.06,737.83 143.35,737.73 143.64,738.44 143.90,737.96" fill="none" stroke="#FFD92F" stroke-width="1.4" stroke-linejoin="round" />
<polyline points="59.10,728.88 59.29,727.97 60.03,726.39 60.38,726.12 60.76,726.17 61.19,726.21 61.68,725.90 62.24,725.11 62.90,725.17 63.65,724.65 64.53,724.60 64.92,724.53 65.35,724.66 65.81,723.90 66.29,724.10 66.80,723.62 67.33,723.80 67.88,723.27 68.44,723.56 69.01,722.83 69.59,723.29 70.18,723.00 70.76,722.81 71.34,722.36 71.92,722.34 72.48,721.98 73.03,721.77 73.57,721.89 74.08,721.31 74.58,721.19 75.04,721.37 75.64,721.83 76.15,721.62 76.59,721.02 76.98,720.92 77.34,721.06 77.70,720.92 78.06,721.29 78.46,721.35 78.91,720.82 79.43,721.27 80.03,720.88 80.75,721.60 81.60,721.56 82.59,721.21 82.94,721.91 83.29,721.56 83.65,721.89 84.02,721.81 84.39,722.15 84.77,721.52 85.16,721.56 85.56,722.23 85.96,721.97 86.37,722.35 86.79,722.25 87.22,721.87 87.66,721.90 88.10,722.51 88.55,722.54 89.01,722.40 89.47,722.27 89.94,722.42 90.43,722.57 90.92,723.22 91.41,723.12 91.92,722.83 92.43,723.41 92.95,723.06 93.48,723.65 94.02,723.70 94.57,723.34 95.12,723.45 95.68,723.46 96.25,723.56 96.83,724.14 97.42,723.70 98.02,723.80 98.62,724.35 99.23,723.96 99.86,724.26 100.49,724.83 101.13,724.65 101.77,724.78 102.43,724.79 103.10,725.30 103.77,724.70 104.45,725.30 105.15,725.09 105.56,725.26 105.98,725.55 106.41,725.28 106.85,725.55 107.31,725.99 107.77,725.43 108.25,725.92 108.74,725.85 109.23,725.61 109.73,726.12 110.25,725.87 110.77,726.26 111.29,726.04 111.83,726.41 112.37,726.76 112.92,726.16 113.48,726.41 114.04,726.64 114.60,727.08 115.18,727.25 115.75,726.80 116.33,726.70 116.92,726.93 117.51,727.06 118.10,727.08 118.70,727.66 119.29,727.14 119.90,727.73 120.50,727.88 121.10,728.12 121.70,727.97 122.31,727.94 122.91,727.91 123.52,728.14 124.13,728.22 124.73,728.13 125.33,728.28 125.93,728.28 126.53,728.40 127.13,729.04 127.72,728.67 128.31,728.83 128.90,728.66 129.49,729.49 130.07,729.50 130.64,729.55 131.21,729.68 131.78,729.12 132.33,729.37 132.89,729.93 133.43,730.07 133.97,730.17 134.51,729.59 135.03,729.95 135.55,729.72 136.06,729.96 136.56,729.98 137.05,730.14 137.53,730.82 138.00,730.21 138.46,730.90 138.91,730.64 139.35,730.64 139.78,730.45 140.20,730.89 140.60,730.66 140.99,730.54 141.37,730.73 141.74,731.15 142.09,730.84 142.43,730.81 142.75,731.19 143.06,731.20 143.36,731.15 143.64,731.77 143.90,731.22" fill="none" stroke="#E5C494" stroke-width="1.4" stroke-linejoin="round" />
<polyline points="59.10,728.88 59.29,728.06 60.03,726.59 60.42,726.24 60.91,725.57 61.46,725.45 62.06,724.59 62.69,723.99 63.32,723.32 63.94,723.21 64.53,723.08 64.98,723.30 65.26,723.48 65.48,724.18 65.74,724.17 66.12,724.98 66.73,725.17 67.66,725.62 69.02,726.43 69.34,726.53 69.67,725.92 70.02,726.60 70.38,726.49 70.76,726.39 71.14,726.42 71.54,726.92 71.95,726.39 72.38,726.47 72.81,726.49 73.26,727.19 73.72,727.17 74.18,727.07 74.66,727.18 75.15,727.22 75.64,726.92 76.15,726.98 76.66,727.54 77.18,726.89 77.72,727.52 78.25,727.58 78.80,727.63 79.35,727.19 79.91,727.36 80.48,727.57 81.05,727.43 81.63,727.84 82.21,727.89 82.80,728.12 83.39,728.18 83.99,728.08 84.59,728.17 85.20,727.80 85.81,727.84 86.42,728.13 87.03,727.97 87.65,728.33 88.27,728.16 88.89,728.35 89.51,728.12 90.14,728.36 90.58,728.75 91.03,728.30 91.49,728.45 91.95,728.13 92.43,728.24 92.90,728.72 93.38,728.88 93.87,728.80 94.37,728.89 94.86,728.76 95.37,728.73 95.87,728.96 96.39,728.47 96.90,728.95 97.42,729.01 97.95,728.77 98.47,728.62 99.00,728.96 99.54,728.80 100.07,728.93 100.61,729.34 101.15,729.14 101.70,729.07 102.24,728.65 102.79,729.13 103.33,729.00 103.88,728.87 104.43,729.19 104.98,728.87 105.53,729.46 106.08,729.43 106.63,729.10 107.18,729.00 107.73,729.23 108.28,729.30 108.83,729.70 109.38,729.34 109.92,729.43 110.47,729.81 111.01,729.43 111.55,729.74 112.08,729.84 112.62,729.71 113.15,729.28 113.68,729.29 114.20,729.48 114.72,729.64 115.24,730.09 115.75,730.04 116.26,729.58 116.77,729.69 117.27,730.12 117.76,730.12 118.25,730.15 118.74,729.91 119.22,729.69 119.69,730.15 120.16,730.35 120.74,730.21 121.33,730.29 121.93,729.71 122.53,729.84 123.13,729.70 123.74,730.14 124.35,730.02 124.95,730.55 125.56,729.93 126.17,730.66 126.78,730.56 127.39,730.57 128.00,730.58 128.61,730.05 129.21,730.79 129.82,730.21 130.41,730.20 131.01,730.36 131.60,730.66 132.18,730.37 132.76,730.69 133.34,730.58 133.90,730.56 134.46,730.92 135.02,730.75 135.56,730.59 136.10,730.54 136.62,731.17 137.14,730.93 137.65,731.26 138.14,731.09 138.62,731.25 139.10,730.86 139.56,731.25 140.00,730.98 140.44,731.35 140.85,731.28 141.26,731.52 141.65,731.60 142.02,731.25 142.38,731.54 142.72,731.21 143.04,731.02 143.35,731.01 143.63,731.39 143.90,731.67" fill="none" stroke="#FC8D62" stroke-width="1.4" stroke-linejoin="round" />
<polyline points="59.10,747.80 59.27,716.27 59.58,716.04 60.07,715.63 60.80,715.20 61.15,715.16 61.50,714.54 61.88,714.55 62.34,713.84 62.90,713.38 63.62,713.33 64.53,713.07 64.89,712.73 65.28,712.85 65.69,712.94 66.12,713.13 66.57,712.73 67.04,713.38 67.52,713.16 68.03,713.34 68.54,713.68 69.07,713.23 69.62,713.77 70.18,713.17 70.75,713.41 71.34,713.58 71.93,713.97 72.54,713.71 73.15,713.92 73.77,713.87 74.41,714.16 75.04,714.72 75.49,714.51 75.95,714.30 76.41,715.01 76.89,714.50 77.38,714.53 77.87,715.05 78.37,714.71 78.88,715.10 79.39,714.76 79.91,715.31 80.44,715.72 80.97,715.75 81.50,715.77 82.04,715.39 82.58,715.59 83.12,715.53 83.67,716.04 84.21,716.29 84.76,715.86 85.31,716.19 85.85,716.04 86.40,716.17 86.94,716.96 87.48,717.09 88.02,717.07 88.56,716.93 89.09,717.57 89.62,717.52 90.14,717.62 90.66,717.32 91.17,717.35 91.69,718.04 92.21,717.89 92.73,718.54 93.25,718.28 93.77,718.19 94.28,718.74 94.80,718.79 95.32,718.55 95.84,718.69 96.35,719.26 96.87,719.69 97.39,719.83 97.91,720.09 98.42,720.02 98.94,720.34 99.46,720.32 99.97,720.71 100.49,720.60 101.01,721.05 101.53,720.79 102.04,720.79 102.56,721.55 103.08,721.16 103.59,721.72 104.11,721.64 104.63,721.46 105.15,722.01 105.66,721.78 106.16,722.36 106.66,722.31 107.15,722.24 107.63,722.35 108.10,722.41 108.58,722.99 109.05,722.83 109.51,723.06 109.98,723.46 110.45,723.54 110.92,723.28 111.39,723.69 111.87,723.46 112.35,723.54 112.83,723.57 113.32,724.07 113.82,724.22 114.33,724.48 114.85,724.72 115.38,724.68 115.93,724.45 116.48,724.77 117.05,724.69 117.64,725.42 118.24,725.01 118.86,725.63 119.50,725.60 120.16,725.62 120.59,725.66 121.04,725.65 121.50,725.89 121.99,726.03 122.48,726.71 123.00,726.75 123.52,726.44 124.06,726.64 124.61,726.64 125.18,726.90 125.75,727.19 126.32,726.93 126.91,727.76 127.50,727.90 128.10,727.71 128.71,727.67 129.31,727.65 129.92,728.40 130.53,727.90 131.14,728.36 131.75,728.88 132.36,729.06 132.97,729.00 133.57,729.11 134.17,729.44 134.76,729.51 135.34,729.43 135.92,729.81 136.49,729.27 137.05,730.03 137.60,730.30 138.14,729.76 138.67,729.93 139.18,730.11 139.68,730.41 140.16,730.77 140.62,730.22 141.07,730.98 141.50,730.76 141.91,731.09 142.30,731.39 142.67,730.95 143.01,731.40 143.33,731.16 143.63,731.37 143.90,731.45" fill="none" stroke="#A6D854" stroke-width="1.4" stroke-linejoin="round" />
<polyline points="59.10,647.53 59.35,702.61 59.41,698.38 60.03,694.01 60.37,693.23 60.75,692.02 61.17,691.67 61.67,691.11 62.23,690.96 62.89,690.30 63.65,690.47 64.53,690.90 64.91,690.99 65.31,691.01 65.73,691.31 66.17,691.30 66.63,691.49 67.09,692.54 67.58,692.17 68.08,692.83 68.59,693.59 69.12,693.69 69.66,694.26 70.22,694.46 70.78,695.40 71.36,695.42 71.95,696.46 72.55,696.18 73.16,697.23 73.78,697.36 74.41,697.71 75.04,698.70 75.49,698.36 75.95,699.17 76.41,699.41 76.89,699.33 77.38,700.18 77.87,700.06 78.37,700.07 78.88,700.80 79.39,701.03 79.91,700.93 80.44,701.85 80.97,701.85 81.50,702.56 82.04,702.88 82.58,703.11 83.12,703.18 83.67,703.29 84.21,704.16 84.76,703.81 85.31,704.78 85.85,704.63 86.40,705.21 86.94,705.41 87.48,705.69 88.02,706.11 88.56,706.38 89.09,707.06 89.62,706.72 90.14,707.52 90.66,707.69 91.17,707.68 91.69,708.33 92.21,708.66 92.73,708.74 93.25,709.53 93.77,709.35 94.28,710.02 94.80,710.34 95.32,710.51 95.84,710.84 96.35,710.97 96.87,711.57 97.39,711.53 97.91,712.56 98.42,712.57 98.94,713.16 99.46,713.08 99.97,713.58 100.49,714.04 101.01,714.10 101.53,714.68 102.04,714.45 102.56,715.00 103.08,715.14 103.59,715.54 104.11,715.57 104.63,715.87 105.15,716.35 105.66,716.54 106.16,716.58 106.66,716.92 107.15,717.30 107.63,717.98 108.10,717.56 108.58,718.22 109.05,718.51 109.51,718.65 109.98,718.61 110.45,718.65 110.92,719.51 111.39,719.47 111.87,719.33 112.35,719.53 112.83,719.89 113.32,719.97 113.82,720.89 114.33,720.89 114.85,720.61 115.38,721.51 115.93,721.04 116.48,721.94 117.05,721.69 117.64,721.93 118.24,722.49 118.86,722.54 119.50,722.50 120.16,723.50 120.59,723.30 121.04,723.43 121.50,723.48 121.99,724.20 122.48,724.36 123.00,723.75 123.52,724.47 124.06,724.26 124.61,724.88 125.18,724.88 125.75,725.15 126.32,725.03 126.91,725.18 127.50,725.67 128.10,725.64 128.71,726.14 129.31,726.47 129.92,726.56 130.53,726.52 131.14,727.41 131.75,726.86 132.36,727.20 132.97,727.81 133.57,728.13 134.17,727.74 134.76,728.63 135.34,728.45 135.92,728.74 136.49,728.93 137.05,729.48 137.60,729.05 138.14,729.24 138.67,729.23 139.18,729.88 139.68,730.09 140.16,729.84 140.62,730.21 141.07,730.69 141.50,730.68 141.91,730.49 142.30,731.07 142.67,731.17 143.01,730.78 143.33,731.23 143.63,731.50 143.90,731.74" fill="none" stroke="#66C2A5" stroke-width="1.4" stroke-linejoin="round" />
<polyline points="59.10,645.33 59.19,652.15 59.52,658.47 59.91,658.17 60.47,655.87 61.47,654.13 61.86,654.22 62.30,654.37 62.78,654.28 63.30,654.79 63.85,655.24 64.43,655.09 65.02,655.45 65.63,655.73 66.25,656.09 66.88,656.51 67.50,656.51 67.99,656.94 68.49,656.60 69.01,657.25 69.54,657.32 70.08,657.68 70.62,657.64 71.17,657.54 71.73,657.68 72.28,658.34 72.84,658.68 73.40,658.33 73.95,658.49 74.50,659.45 75.04,659.98 75.56,660.28 76.05,660.81 76.52,661.73 76.98,661.72 77.43,663.04 77.88,663.03 78.34,663.82 78.83,664.81 79.34,665.33 79.88,666.89 80.47,667.69 81.12,668.59 81.82,669.21 82.59,670.63 82.99,671.00 83.41,671.27 83.84,671.62 84.29,671.83 84.75,672.70 85.22,672.92 85.71,673.52 86.21,674.76 86.72,675.11 87.24,675.64 87.77,676.04 88.30,676.76 88.85,677.18 89.39,678.24 89.95,679.03 90.50,679.42 91.07,679.73 91.63,680.80 92.19,681.00 92.76,681.75 93.32,682.04 93.88,683.24 94.44,683.72 94.99,684.02 95.54,684.68 96.09,684.78 96.63,685.90 97.16,685.89 97.68,686.37 98.20,687.42 98.72,687.46 99.24,688.10 99.76,688.38 100.28,689.35 100.79,689.48 101.31,690.21 101.83,690.19 102.35,690.95 102.86,691.46 103.38,691.61 103.90,691.99 104.41,692.82 104.93,692.67 105.45,693.03 105.96,693.56 106.48,694.21 107.00,694.43 107.51,694.82 108.03,695.51 108.55,695.31 109.07,696.24 109.58,696.62 110.10,696.64 110.62,697.16 111.14,697.34 111.66,697.61 112.17,698.71 112.69,698.45 113.21,699.00 113.73,699.79 114.25,699.83 114.76,699.89 115.28,700.50 115.79,700.86 116.31,700.92 116.82,701.74 117.34,701.46 117.85,702.04 118.37,701.99 118.88,702.33 119.40,703.29 119.91,702.94 120.43,703.87 120.95,703.49 121.47,703.97 121.98,704.61 122.50,704.72 123.03,705.21 123.55,705.86 124.07,706.32 124.60,706.20 125.12,706.72 125.65,707.32 126.18,707.73 126.72,708.02 127.25,709.09 127.79,709.64 128.30,710.06 128.83,710.71 129.38,710.75 129.93,711.42 130.50,712.24 131.09,713.62 131.68,714.33 132.27,714.94 132.87,715.82 133.48,716.20 134.08,717.24 134.69,718.49 135.30,718.84 135.90,719.74 136.49,720.69 137.08,721.71 137.66,722.41 138.23,723.45 138.79,724.20 139.33,724.99 139.86,726.36 140.37,726.97 140.86,727.53 141.33,728.12 141.78,728.87 142.20,729.74 142.60,730.55 142.97,730.82 143.31,731.23 143.62,731.78 143.90,731.92" fill="none" stroke="#8DA0CB" stroke-width="1.4" stroke-linejoin="round" />
<polyline points="59.10,642.70 59.00,643.86 60.03,645.59 60.35,645.57 60.72,645.52 61.14,645.29 61.59,645.72 62.08,645.42 62.61,645.45 63.16,645.90 63.73,645.83 64.31,645.54 64.91,646.11 65.52,645.90 66.13,645.80 66.73,645.86 67.33,646.19 67.91,646.75 68.48,646.73 69.02,646.39 69.55,647.07 70.07,647.06 70.58,647.04 71.09,647.64 71.59,647.69 72.10,648.21 72.60,648.39 73.11,648.55 73.62,648.63 74.14,648.91 74.67,649.23 75.21,649.89 75.75,650.38 76.32,650.96 76.89,650.70 77.48,651.22 78.10,652.36 78.56,652.66 79.02,653.05 79.50,653.22 79.98,654.16 80.46,654.47 80.95,654.78 81.45,655.51 81.95,655.75 82.45,656.62 82.97,657.24 83.48,657.95 84.01,658.19 84.54,658.78 85.07,660.02 85.61,660.08 86.16,660.88 86.71,661.48 87.27,662.07 87.83,663.21 88.40,663.82 88.97,664.60 89.55,665.33 90.14,665.50 90.61,666.33 91.08,666.62 91.57,666.83 92.05,667.77 92.55,668.50 93.05,668.42 93.55,668.93 94.06,669.51 94.58,669.80 95.09,670.85 95.61,670.99 96.14,671.72 96.66,672.28 97.19,673.03 97.72,673.37 98.25,673.39 98.79,674.62 99.32,674.54 99.86,675.36 100.39,675.50 100.92,676.57 101.46,676.63 101.99,677.16 102.52,678.23 103.05,678.79 103.58,678.79 104.10,679.15 104.63,680.34 105.15,680.83 105.66,681.08 106.18,681.56 106.70,681.93 107.22,682.86 107.73,683.01 108.25,683.97 108.77,684.53 109.28,685.04 109.80,685.54 110.32,686.47 110.84,686.53 111.35,687.51 111.87,688.15 112.39,688.27 112.90,688.94 113.42,690.12 113.94,689.94 114.46,690.52 114.97,691.18 115.49,692.08 116.01,692.96 116.53,692.81 117.05,693.61 117.56,694.28 118.08,694.99 118.60,695.84 119.12,696.07 119.64,696.44 120.16,697.63 120.68,697.81 121.21,698.49 121.74,698.54 122.29,699.32 122.83,700.24 123.38,700.37 123.94,700.92 124.49,701.57 125.05,702.26 125.61,703.14 126.16,703.37 126.72,703.72 127.27,704.66 127.83,705.39 128.37,705.71 128.92,706.30 129.46,706.96 129.99,707.48 130.52,708.28 131.04,708.94 131.55,709.55 132.05,709.93 132.55,710.06 133.03,711.25 133.50,711.37 133.96,712.03 134.40,712.92 134.83,713.54 135.25,713.47 135.98,715.22 136.70,715.75 137.39,717.03 138.07,718.15 138.72,719.15 139.35,720.36 139.95,721.62 140.52,723.10 141.06,724.53 141.57,725.70 142.05,726.29 142.50,727.19 142.91,728.46 143.28,729.01 143.61,729.83 143.90,730.55" fill="none" stroke="#E78AC3" stroke-width="1.4" stroke-linejoin="round" />
<text x="107.40" y="631.50" font-size="10.2" text-anchor="middle" fill="#1a1a1a" letter-spacing="-0.22">&gt;20 reads per site</text>
<text transform="translate(22.70,695.25) rotate(-90)" x="0" y="0" font-size="11.7" text-anchor="middle" fill="#1a1a1a">Precision</text>
<text x="101.50" y="780.00" font-size="11.7" text-anchor="middle" fill="#1a1a1a" >Recall</text>
<line x1="118.50" y1="638.00" x2="133.60" y2="638.00" stroke="#FFD92F" stroke-width="1.7"/>
<text x="140.40" y="641.01" font-size="8.6" text-anchor="start" fill="#1a1a1a" >ELIGOS (AUC = 0.103)</text>
<line x1="118.50" y1="647.70" x2="133.60" y2="647.70" stroke="#E5C494" stroke-width="1.7"/>
<text x="140.40" y="650.71" font-size="8.6" text-anchor="start" fill="#1a1a1a" >EpiNano (AUC = 0.217)</text>
<line x1="118.50" y1="657.50" x2="133.60" y2="657.50" stroke="#8DA0CB" stroke-width="1.7"/>
<text x="140.40" y="660.51" font-size="8.6" text-anchor="start" fill="#1a1a1a" >m6anet (AUC = 0.543)</text>
<line x1="118.50" y1="667.20" x2="133.60" y2="667.20" stroke="#FC8D62" stroke-width="1.7"/>
<text x="140.40" y="670.21" font-size="8.6" text-anchor="start" fill="#1a1a1a" >MINES (AUC = 0.182)</text>
<line x1="118.50" y1="677.00" x2="133.60" y2="677.00" stroke="#66C2A5" stroke-width="1.7"/>
<text x="140.40" y="680.01" font-size="8.6" text-anchor="start" fill="#1a1a1a" >Nanom6A (AUC = 0.344)</text>
<line x1="118.50" y1="686.70" x2="133.60" y2="686.70" stroke="#E78AC3" stroke-width="1.7"/>
<text x="140.40" y="689.71" font-size="8.6" text-anchor="start" fill="#1a1a1a" >pum6a (AUC = 0.615)</text>
<line x1="118.50" y1="696.40" x2="133.60" y2="696.40" stroke="#A6D854" stroke-width="1.7"/>
<text x="140.40" y="699.41" font-size="8.6" text-anchor="start" fill="#1a1a1a" >Tombo (AUC = 0.252)</text>
<path d="M272.8,645.8 V751.3 H406.6 V645.8" fill="none" stroke="#111" stroke-width="1.3"/>
<line x1="270.2" y1="746.70" x2="272.8" y2="746.70" stroke="#111" stroke-width="1.3"/>
<text x="265.00" y="750.30" font-size="9.8" text-anchor="end" fill="#333333" >0</text>
<line x1="270.2" y1="719.90" x2="272.8" y2="719.90" stroke="#111" stroke-width="1.3"/>
<text x="265.00" y="723.50" font-size="9.8" text-anchor="end" fill="#333333" >25</text>
<line x1="270.2" y1="693.10" x2="272.8" y2="693.10" stroke="#111" stroke-width="1.3"/>
<text x="265.00" y="696.70" font-size="9.8" text-anchor="end" fill="#333333" >50</text>
<line x1="270.2" y1="666.30" x2="272.8" y2="666.30" stroke="#111" stroke-width="1.3"/>
<text x="265.00" y="669.90" font-size="9.8" text-anchor="end" fill="#333333" >75</text>
<line x1="406.6" y1="746.60" x2="409.20000000000005" y2="746.60" stroke="#111" stroke-width="1.3"/>
<text x="411.80" y="750.20" font-size="9.9" text-anchor="start" fill="#333333" letter-spacing="-0.25">0.00</text>
<line x1="406.6" y1="714.50" x2="409.20000000000005" y2="714.50" stroke="#111" stroke-width="1.3"/>
<text x="411.80" y="718.10" font-size="9.9" text-anchor="start" fill="#333333" letter-spacing="-0.25">0.25</text>
<line x1="406.6" y1="682.40" x2="409.20000000000005" y2="682.40" stroke="#111" stroke-width="1.3"/>
<text x="411.80" y="686.00" font-size="9.9" text-anchor="start" fill="#333333" letter-spacing="-0.25">0.50</text>
<line x1="406.6" y1="650.30" x2="409.20000000000005" y2="650.30" stroke="#111" stroke-width="1.3"/>
<text x="411.80" y="653.90" font-size="9.9" text-anchor="start" fill="#333333" letter-spacing="-0.25">0.75</text>
<rect x="277.90" y="668.44" width="11.0" height="78.26" fill="#A6D854"/>
<rect x="277.90" y="732.98" width="11.0" height="13.72" fill="#E78AC3"/>
<rect x="296.60" y="650.54" width="11.0" height="96.16" fill="#A6D854"/>
<rect x="296.60" y="735.98" width="11.0" height="10.72" fill="#E78AC3"/>
<rect x="315.20" y="673.05" width="11.0" height="73.65" fill="#A6D854"/>
<rect x="315.20" y="736.41" width="11.0" height="10.29" fill="#E78AC3"/>
<rect x="333.90" y="673.59" width="11.0" height="73.11" fill="#A6D854"/>
<rect x="333.90" y="737.70" width="11.0" height="9.00" fill="#E78AC3"/>
<rect x="352.50" y="718.29" width="11.0" height="28.41" fill="#A6D854"/>
<rect x="352.50" y="744.02" width="11.0" height="2.68" fill="#E78AC3"/>
<rect x="371.20" y="737.16" width="11.0" height="9.54" fill="#A6D854"/>
<rect x="371.20" y="744.77" width="11.0" height="1.93" fill="#E78AC3"/>
<rect x="389.80" y="736.73" width="11.0" height="9.97" fill="#A6D854"/>
<rect x="389.80" y="745.84" width="11.0" height="0.86" fill="#E78AC3"/>
<line x1="283.4" y1="751.3" x2="283.4" y2="753.9" stroke="#111" stroke-width="1.3"/>
<line x1="302.1" y1="751.3" x2="302.1" y2="753.9" stroke="#111" stroke-width="1.3"/>
<line x1="320.7" y1="751.3" x2="320.7" y2="753.9" stroke="#111" stroke-width="1.3"/>
<line x1="339.4" y1="751.3" x2="339.4" y2="753.9" stroke="#111" stroke-width="1.3"/>
<line x1="358.0" y1="751.3" x2="358.0" y2="753.9" stroke="#111" stroke-width="1.3"/>
<line x1="376.7" y1="751.3" x2="376.7" y2="753.9" stroke="#111" stroke-width="1.3"/>
<line x1="395.3" y1="751.3" x2="395.3" y2="753.9" stroke="#111" stroke-width="1.3"/>
<polyline points="283.40,654.54 302.10,674.95 320.70,677.01 339.40,682.01 358.00,692.54 376.70,658.90 395.30,683.43" fill="none" stroke="#FF7F0E" stroke-width="1.3" stroke-linejoin="round" />
<circle cx="283.4" cy="654.54" r="2.6" fill="#FF7F0E"/>
<circle cx="302.1" cy="674.95" r="2.6" fill="#FF7F0E"/>
<circle cx="320.7" cy="677.01" r="2.6" fill="#FF7F0E"/>
<circle cx="339.4" cy="682.01" r="2.6" fill="#FF7F0E"/>
<circle cx="358.0" cy="692.54" r="2.6" fill="#FF7F0E"/>
<circle cx="376.7" cy="658.90" r="2.6" fill="#FF7F0E"/>
<circle cx="395.3" cy="683.43" r="2.6" fill="#FF7F0E"/>
<polyline points="283.40,679.96 302.10,703.33 320.70,695.37 339.40,701.53 358.00,713.60 376.70,682.01 395.30,724.64" fill="none" stroke="#984EA3" stroke-width="1.3" stroke-linejoin="round" />
<circle cx="283.4" cy="679.96" r="2.6" fill="#984EA3"/>
<circle cx="302.1" cy="703.33" r="2.6" fill="#984EA3"/>
<circle cx="320.7" cy="695.37" r="2.6" fill="#984EA3"/>
<circle cx="339.4" cy="701.53" r="2.6" fill="#984EA3"/>
<circle cx="358.0" cy="713.60" r="2.6" fill="#984EA3"/>
<circle cx="376.7" cy="682.01" r="2.6" fill="#984EA3"/>
<circle cx="395.3" cy="724.64" r="2.6" fill="#984EA3"/>
<polyline points="283.40,694.47 302.10,715.91 320.70,706.15 339.40,711.68 358.00,722.46 376.70,696.27 395.30,733.25" fill="none" stroke="#1B9E77" stroke-width="1.3" stroke-linejoin="round" />
<circle cx="283.4" cy="694.47" r="2.6" fill="#1B9E77"/>
<circle cx="302.1" cy="715.91" r="2.6" fill="#1B9E77"/>
<circle cx="320.7" cy="706.15" r="2.6" fill="#1B9E77"/>
<circle cx="339.4" cy="711.68" r="2.6" fill="#1B9E77"/>
<circle cx="358.0" cy="722.46" r="2.6" fill="#1B9E77"/>
<circle cx="376.7" cy="696.27" r="2.6" fill="#1B9E77"/>
<circle cx="395.3" cy="733.25" r="2.6" fill="#1B9E77"/>
<text transform="translate(282.70,763.10) rotate(-30)" x="0" y="0" font-size="9.2" text-anchor="end" fill="#1a1a1a">pum6a</text>
<text transform="translate(301.40,763.10) rotate(-30)" x="0" y="0" font-size="9.2" text-anchor="end" fill="#1a1a1a">epinano</text>
<text transform="translate(320.00,763.10) rotate(-30)" x="0" y="0" font-size="9.2" text-anchor="end" fill="#1a1a1a">nanom6a</text>
<text transform="translate(338.70,763.10) rotate(-30)" x="0" y="0" font-size="9.2" text-anchor="end" fill="#1a1a1a">tombo</text>
<text transform="translate(357.30,763.10) rotate(-30)" x="0" y="0" font-size="9.2" text-anchor="end" fill="#1a1a1a">mines</text>
<text transform="translate(376.00,763.10) rotate(-30)" x="0" y="0" font-size="9.2" text-anchor="end" fill="#1a1a1a">m6anet</text>
<text transform="translate(394.60,763.10) rotate(-30)" x="0" y="0" font-size="9.2" text-anchor="end" fill="#1a1a1a">eligos</text>
<text transform="translate(251.00,705.00) rotate(-90)" x="0" y="0" font-size="10.8" text-anchor="middle" fill="#1a1a1a">Counts (thousand)</text>
<text transform="translate(439.00,698.40) rotate(90)" x="0" y="0" font-size="11.8" text-anchor="middle" fill="#1a1a1a">Values</text>
<rect x="275" y="600" width="9.7" height="9" fill="#A6D854"/>
<rect x="275" y="622.6" width="9.7" height="9" fill="#E78AC3"/>
<text x="289.00" y="607.10" font-size="8.1" text-anchor="start" fill="#1a1a1a" >Sites detected</text>
<text x="289.00" y="617.00" font-size="8.1" text-anchor="start" fill="#1a1a1a" >by ONT</text>
<text x="289.00" y="628.30" font-size="8.1" text-anchor="start" fill="#1a1a1a" >Sites verified</text>
<text x="289.00" y="638.00" font-size="8.1" text-anchor="start" fill="#1a1a1a" >by experiment</text>
<line x1="347.0" y1="603.6" x2="362.0" y2="603.6" stroke="#984EA3" stroke-width="1.3"/>
<circle cx="354.5" cy="603.6" r="2.6" fill="#984EA3"/>
<text x="368.00" y="606.70" font-size="8.6" text-anchor="start" fill="#1a1a1a" >F1 score</text>
<line x1="347.0" y1="617.6" x2="362.0" y2="617.6" stroke="#1B9E77" stroke-width="1.3"/>
<circle cx="354.5" cy="617.6" r="2.6" fill="#1B9E77"/>
<text x="368.00" y="620.70" font-size="8.6" text-anchor="start" fill="#1a1a1a" >Precision</text>
<line x1="347.0" y1="631.5" x2="362.0" y2="631.5" stroke="#FF7F0E" stroke-width="1.3"/>
<circle cx="354.5" cy="631.5" r="2.6" fill="#FF7F0E"/>
<text x="368.00" y="634.60" font-size="8.6" text-anchor="start" fill="#1a1a1a" >Recall</text>
<path d="M504.9,650.2 V748.0 H668.4" fill="none" stroke="#111" stroke-width="1.3"/>
<line x1="502.29999999999995" y1="743.40" x2="504.9" y2="743.40" stroke="#111" stroke-width="1.3"/>
<text x="498.70" y="747.30" font-size="9.9" text-anchor="end" fill="#333333" letter-spacing="-0.25">0.0</text>
<line x1="502.29999999999995" y1="725.52" x2="504.9" y2="725.52" stroke="#111" stroke-width="1.3"/>
<text x="498.70" y="729.42" font-size="9.9" text-anchor="end" fill="#333333" letter-spacing="-0.25">0.2</text>
<line x1="502.29999999999995" y1="707.64" x2="504.9" y2="707.64" stroke="#111" stroke-width="1.3"/>
<text x="498.70" y="711.54" font-size="9.9" text-anchor="end" fill="#333333" letter-spacing="-0.25">0.4</text>
<line x1="502.29999999999995" y1="689.76" x2="504.9" y2="689.76" stroke="#111" stroke-width="1.3"/>
<text x="498.70" y="693.66" font-size="9.9" text-anchor="end" fill="#333333" letter-spacing="-0.25">0.6</text>
<line x1="502.29999999999995" y1="671.88" x2="504.9" y2="671.88" stroke="#111" stroke-width="1.3"/>
<text x="498.70" y="675.78" font-size="9.9" text-anchor="end" fill="#333333" letter-spacing="-0.25">0.8</text>
<line x1="502.29999999999995" y1="654.00" x2="504.9" y2="654.00" stroke="#111" stroke-width="1.3"/>
<text x="498.70" y="657.90" font-size="9.9" text-anchor="end" fill="#333333" letter-spacing="-0.25">1.0</text>
<line x1="516.00" y1="748.0" x2="516.00" y2="750.6" stroke="#111" stroke-width="1.3"/>
<text transform="translate(520.30,756.50) rotate(-60)" x="0" y="0" font-size="9.2" text-anchor="end" fill="#333333">2000</text>
<line x1="533.72" y1="748.0" x2="533.72" y2="750.6" stroke="#111" stroke-width="1.3"/>
<text transform="translate(538.02,756.50) rotate(-60)" x="0" y="0" font-size="9.2" text-anchor="end" fill="#333333">4000</text>
<line x1="551.44" y1="748.0" x2="551.44" y2="750.6" stroke="#111" stroke-width="1.3"/>
<text transform="translate(555.74,756.50) rotate(-60)" x="0" y="0" font-size="9.2" text-anchor="end" fill="#333333">6000</text>
<line x1="569.16" y1="748.0" x2="569.16" y2="750.6" stroke="#111" stroke-width="1.3"/>
<text transform="translate(573.46,756.50) rotate(-60)" x="0" y="0" font-size="9.2" text-anchor="end" fill="#333333">8000</text>
<line x1="586.88" y1="748.0" x2="586.88" y2="750.6" stroke="#111" stroke-width="1.3"/>
<text transform="translate(591.18,756.50) rotate(-60)" x="0" y="0" font-size="9.2" text-anchor="end" fill="#333333">10000</text>
<line x1="604.60" y1="748.0" x2="604.60" y2="750.6" stroke="#111" stroke-width="1.3"/>
<text transform="translate(608.90,756.50) rotate(-60)" x="0" y="0" font-size="9.2" text-anchor="end" fill="#333333">12000</text>
<line x1="622.32" y1="748.0" x2="622.32" y2="750.6" stroke="#111" stroke-width="1.3"/>
<text transform="translate(626.62,756.50) rotate(-60)" x="0" y="0" font-size="9.2" text-anchor="end" fill="#333333">14000</text>
<line x1="640.04" y1="748.0" x2="640.04" y2="750.6" stroke="#111" stroke-width="1.3"/>
<text transform="translate(644.34,756.50) rotate(-60)" x="0" y="0" font-size="9.2" text-anchor="end" fill="#333333">16000</text>
<line x1="657.76" y1="748.0" x2="657.76" y2="750.6" stroke="#111" stroke-width="1.3"/>
<text transform="translate(662.06,756.50) rotate(-60)" x="0" y="0" font-size="9.2" text-anchor="end" fill="#333333">18000</text>
<polyline points="516.00,734.91 533.72,734.01 551.44,733.74 569.16,733.83 586.88,734.46 604.60,734.46 622.32,734.46 640.04,734.46 657.76,734.46" fill="none" stroke="#FFD92F" stroke-width="1.4" stroke-linejoin="round" />
<polyline points="516.00,727.31 533.72,724.63 551.44,724.18 569.16,724.18 586.88,724.18 604.60,723.73 622.32,723.73 640.04,723.73 657.76,723.73" fill="none" stroke="#E5C494" stroke-width="1.4" stroke-linejoin="round" />
<polyline points="516.00,723.73 533.72,724.18 551.44,725.52 569.16,723.73 586.88,724.63 604.60,724.63 622.32,724.63 640.04,724.63 657.76,724.63" fill="none" stroke="#FC8D62" stroke-width="1.4" stroke-linejoin="round" />
<polyline points="516.00,717.47 533.72,717.47 551.44,714.79 569.16,713.00 586.88,713.00 604.60,713.00 622.32,713.00 640.04,713.00 657.76,713.90" fill="none" stroke="#A6D854" stroke-width="1.4" stroke-linejoin="round" />
<polyline points="516.00,688.87 533.72,689.76 551.44,690.65 569.16,691.55 586.88,692.00 604.60,692.44 622.32,694.23 640.04,695.12 657.76,695.12" fill="none" stroke="#66C2A5" stroke-width="1.4" stroke-linejoin="round" />
<polyline points="516.00,667.41 533.72,674.56 551.44,682.61 569.16,690.65 586.88,693.78 604.60,696.46 622.32,698.70 640.04,700.93 657.76,704.96" fill="none" stroke="#8DA0CB" stroke-width="1.4" stroke-linejoin="round" />
<polyline points="516.00,662.49 533.72,663.57 551.44,664.55 569.16,665.17 586.88,666.07 604.60,667.41 622.32,668.30 640.04,670.09 657.76,670.54" fill="none" stroke="#E78AC3" stroke-width="1.4" stroke-linejoin="round" />
<text transform="translate(475.50,701.00) rotate(-90)" x="0" y="0" font-size="11.7" text-anchor="middle" fill="#1a1a1a">Precision</text>
<text x="581.20" y="794.30" font-size="11.7" text-anchor="middle" fill="#1a1a1a" >Number of top sites</text>
<line x1="503.2" y1="616.9" x2="518.2" y2="616.9" stroke="#FFD92F" stroke-width="1.3"/>
<text x="524.80" y="619.90" font-size="8.6" text-anchor="start" fill="#1a1a1a" >ELIGOS</text>
<line x1="503.2" y1="628.2" x2="518.2" y2="628.2" stroke="#E5C494" stroke-width="1.3"/>
<text x="524.80" y="631.20" font-size="8.6" text-anchor="start" fill="#1a1a1a" >EpiNano</text>
<line x1="503.2" y1="639.2" x2="518.2" y2="639.2" stroke="#A6D854" stroke-width="1.3"/>
<text x="524.80" y="642.20" font-size="8.6" text-anchor="start" fill="#1a1a1a" >Tombo</text>
<line x1="560.5" y1="616.9" x2="575.5" y2="616.9" stroke="#8DA0CB" stroke-width="1.3"/>
<text x="582.00" y="619.90" font-size="8.6" text-anchor="start" fill="#1a1a1a" >m6anet</text>
<line x1="560.5" y1="628.2" x2="575.5" y2="628.2" stroke="#FC8D62" stroke-width="1.3"/>
<text x="582.00" y="631.20" font-size="8.6" text-anchor="start" fill="#1a1a1a" >MINES</text>
<line x1="614" y1="616.9" x2="629" y2="616.9" stroke="#66C2A5" stroke-width="1.3"/>
<text x="635.20" y="619.90" font-size="8.6" text-anchor="start" fill="#1a1a1a" >Nanom6A</text>
<line x1="614" y1="628.2" x2="629" y2="628.2" stroke="#E78AC3" stroke-width="1.3"/>
<text x="635.20" y="631.20" font-size="8.6" text-anchor="start" fill="#1a1a1a" >pum6a</text>
</svg></body></html>
